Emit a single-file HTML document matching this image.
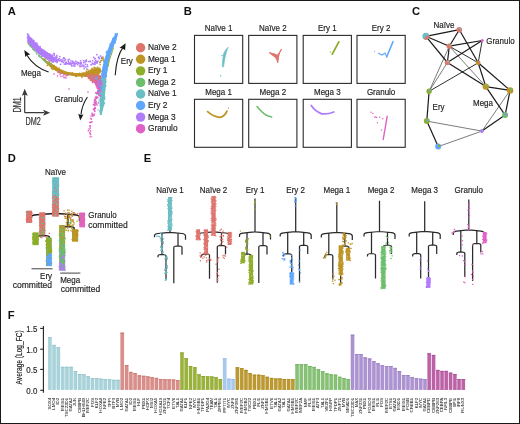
<!DOCTYPE html><html><head><meta charset="utf-8"><style>html,body{margin:0;padding:0;background:#fff;overflow:hidden}svg{display:block;will-change:transform}text{font-family:'Liberation Sans',sans-serif}</style></head><body>
<svg width="520" height="424" viewBox="0 0 520 424">
<rect x="0" y="0" width="520" height="424" fill="#fff"/>
<text x="7.8" y="15" font-size="11.2" text-anchor="start" fill="#111" font-weight="bold" >A</text>
<text x="183.8" y="15.2" font-size="11.2" text-anchor="start" fill="#111" font-weight="bold" >B</text>
<text x="411.9" y="15.4" font-size="11.2" text-anchor="start" fill="#111" font-weight="bold" >C</text>
<text x="7.8" y="162" font-size="11.2" text-anchor="start" fill="#111" font-weight="bold" >D</text>
<text x="143.8" y="162" font-size="11.2" text-anchor="start" fill="#111" font-weight="bold" >E</text>
<text x="7.8" y="319" font-size="11.2" text-anchor="start" fill="#111" font-weight="bold" >F</text>
<rect x="65.94" y="62.41" width="1.5" height="1.5" fill="#B07CFA"/>
<rect x="57.17" y="58.79" width="1.5" height="1.5" fill="#B07CFA"/>
<rect x="83.42" y="67.82" width="1.5" height="1.5" fill="#B07CFA"/>
<rect x="52.63" y="58.89" width="1.5" height="1.5" fill="#B07CFA"/>
<rect x="77.58" y="61.72" width="1.5" height="1.5" fill="#B07CFA"/>
<rect x="68.30" y="62.09" width="1.5" height="1.5" fill="#B07CFA"/>
<rect x="52.33" y="57.57" width="1.5" height="1.5" fill="#B07CFA"/>
<rect x="75.97" y="62.58" width="1.5" height="1.5" fill="#B07CFA"/>
<rect x="53.13" y="52.75" width="1.5" height="1.5" fill="#B07CFA"/>
<rect x="71.99" y="61.63" width="1.5" height="1.5" fill="#B07CFA"/>
<rect x="52.02" y="59.98" width="1.5" height="1.5" fill="#B07CFA"/>
<rect x="54.66" y="56.60" width="1.5" height="1.5" fill="#B07CFA"/>
<rect x="71.46" y="62.41" width="1.5" height="1.5" fill="#B07CFA"/>
<rect x="93.93" y="62.59" width="1.5" height="1.5" fill="#B07CFA"/>
<rect x="55.01" y="60.88" width="1.5" height="1.5" fill="#B07CFA"/>
<rect x="59.84" y="63.59" width="1.5" height="1.5" fill="#B07CFA"/>
<rect x="82.71" y="59.90" width="1.5" height="1.5" fill="#B07CFA"/>
<rect x="97.67" y="56.62" width="1.5" height="1.5" fill="#B07CFA"/>
<rect x="79.79" y="62.28" width="1.5" height="1.5" fill="#B07CFA"/>
<rect x="69.90" y="63.66" width="1.5" height="1.5" fill="#B07CFA"/>
<rect x="100.64" y="57.66" width="1.5" height="1.5" fill="#B07CFA"/>
<rect x="53.55" y="53.02" width="1.5" height="1.5" fill="#B07CFA"/>
<rect x="95.48" y="61.81" width="1.5" height="1.5" fill="#B07CFA"/>
<rect x="64.67" y="58.86" width="1.5" height="1.5" fill="#B07CFA"/>
<rect x="56.17" y="60.88" width="1.5" height="1.5" fill="#B07CFA"/>
<rect x="56.26" y="56.60" width="1.5" height="1.5" fill="#B07CFA"/>
<rect x="65.15" y="62.07" width="1.5" height="1.5" fill="#B07CFA"/>
<rect x="93.71" y="63.30" width="1.5" height="1.5" fill="#B07CFA"/>
<rect x="58.52" y="59.94" width="1.5" height="1.5" fill="#B07CFA"/>
<rect x="79.96" y="63.31" width="1.5" height="1.5" fill="#B07CFA"/>
<rect x="82.99" y="64.68" width="1.5" height="1.5" fill="#B07CFA"/>
<rect x="68.59" y="62.61" width="1.5" height="1.5" fill="#B07CFA"/>
<rect x="78.16" y="62.65" width="1.5" height="1.5" fill="#B07CFA"/>
<rect x="51.28" y="60.75" width="1.5" height="1.5" fill="#B07CFA"/>
<rect x="51.48" y="59.84" width="1.5" height="1.5" fill="#B07CFA"/>
<rect x="59.92" y="60.07" width="1.5" height="1.5" fill="#B07CFA"/>
<rect x="86.08" y="68.26" width="1.5" height="1.5" fill="#B07CFA"/>
<rect x="71.70" y="60.36" width="1.5" height="1.5" fill="#B07CFA"/>
<rect x="65.21" y="63.51" width="1.5" height="1.5" fill="#B07CFA"/>
<rect x="80.24" y="62.46" width="1.5" height="1.5" fill="#B07CFA"/>
<rect x="73.00" y="62.84" width="1.5" height="1.5" fill="#B07CFA"/>
<rect x="64.51" y="62.98" width="1.5" height="1.5" fill="#B07CFA"/>
<rect x="91.68" y="62.46" width="1.5" height="1.5" fill="#B07CFA"/>
<rect x="86.52" y="64.15" width="1.5" height="1.5" fill="#B07CFA"/>
<rect x="62.26" y="58.28" width="1.5" height="1.5" fill="#B07CFA"/>
<rect x="79.80" y="60.06" width="1.5" height="1.5" fill="#B07CFA"/>
<rect x="76.89" y="63.91" width="1.5" height="1.5" fill="#B07CFA"/>
<rect x="93.99" y="58.10" width="1.5" height="1.5" fill="#B07CFA"/>
<rect x="87.71" y="60.79" width="1.5" height="1.5" fill="#B07CFA"/>
<rect x="64.59" y="58.80" width="1.5" height="1.5" fill="#B07CFA"/>
<rect x="101.02" y="57.77" width="1.5" height="1.5" fill="#B07CFA"/>
<rect x="54.63" y="60.53" width="1.5" height="1.5" fill="#B07CFA"/>
<rect x="71.00" y="65.32" width="1.5" height="1.5" fill="#B07CFA"/>
<rect x="89.22" y="60.74" width="1.5" height="1.5" fill="#B07CFA"/>
<rect x="56.94" y="59.76" width="1.5" height="1.5" fill="#B07CFA"/>
<rect x="75.04" y="60.50" width="1.5" height="1.5" fill="#B07CFA"/>
<rect x="50.66" y="58.91" width="1.5" height="1.5" fill="#B07CFA"/>
<rect x="85.11" y="66.18" width="1.5" height="1.5" fill="#B07CFA"/>
<rect x="89.64" y="60.77" width="1.5" height="1.5" fill="#B07CFA"/>
<rect x="79.31" y="65.87" width="1.5" height="1.5" fill="#B07CFA"/>
<rect x="96.13" y="61.12" width="1.5" height="1.5" fill="#B07CFA"/>
<rect x="65.55" y="61.46" width="1.5" height="1.5" fill="#B07CFA"/>
<rect x="85.61" y="59.27" width="1.5" height="1.5" fill="#B07CFA"/>
<rect x="80.49" y="65.66" width="1.5" height="1.5" fill="#B07CFA"/>
<rect x="79.91" y="62.76" width="1.5" height="1.5" fill="#B07CFA"/>
<rect x="73.22" y="61.45" width="1.5" height="1.5" fill="#B07CFA"/>
<rect x="93.91" y="61.32" width="1.5" height="1.5" fill="#B07CFA"/>
<rect x="98.50" y="57.82" width="1.5" height="1.5" fill="#B07CFA"/>
<rect x="74.04" y="65.48" width="1.5" height="1.5" fill="#B07CFA"/>
<rect x="84.19" y="61.30" width="1.5" height="1.5" fill="#B07CFA"/>
<rect x="51.47" y="60.01" width="1.5" height="1.5" fill="#B07CFA"/>
<rect x="86.88" y="65.73" width="1.5" height="1.5" fill="#B07CFA"/>
<rect x="83.35" y="65.95" width="1.5" height="1.5" fill="#B07CFA"/>
<rect x="99.74" y="55.24" width="1.5" height="1.5" fill="#B07CFA"/>
<rect x="91.86" y="60.10" width="1.5" height="1.5" fill="#B07CFA"/>
<rect x="63.59" y="63.42" width="1.5" height="1.5" fill="#B07CFA"/>
<rect x="69.34" y="62.67" width="1.5" height="1.5" fill="#B07CFA"/>
<rect x="84.74" y="63.42" width="1.5" height="1.5" fill="#B07CFA"/>
<rect x="49.34" y="59.72" width="1.5" height="1.5" fill="#B07CFA"/>
<rect x="73.50" y="62.11" width="1.5" height="1.5" fill="#B07CFA"/>
<rect x="59.03" y="55.83" width="1.5" height="1.5" fill="#B07CFA"/>
<rect x="55.41" y="58.52" width="1.5" height="1.5" fill="#B07CFA"/>
<rect x="53.57" y="54.73" width="1.5" height="1.5" fill="#B07CFA"/>
<rect x="90.29" y="63.96" width="1.5" height="1.5" fill="#B07CFA"/>
<rect x="55.59" y="59.98" width="1.5" height="1.5" fill="#B07CFA"/>
<rect x="62.15" y="60.03" width="1.5" height="1.5" fill="#B07CFA"/>
<rect x="69.63" y="62.45" width="1.5" height="1.5" fill="#B07CFA"/>
<rect x="95.78" y="61.01" width="1.5" height="1.5" fill="#B07CFA"/>
<rect x="53.24" y="58.57" width="1.5" height="1.5" fill="#B07CFA"/>
<rect x="72.70" y="65.10" width="1.5" height="1.5" fill="#B07CFA"/>
<rect x="78.25" y="62.70" width="1.5" height="1.5" fill="#B07CFA"/>
<rect x="96.54" y="60.96" width="1.5" height="1.5" fill="#B07CFA"/>
<rect x="94.18" y="63.66" width="1.5" height="1.5" fill="#B07CFA"/>
<rect x="96.30" y="62.45" width="1.5" height="1.5" fill="#B07CFA"/>
<rect x="63.82" y="60.20" width="1.5" height="1.5" fill="#B07CFA"/>
<rect x="70.89" y="64.18" width="1.5" height="1.5" fill="#B07CFA"/>
<rect x="68.52" y="58.70" width="1.5" height="1.5" fill="#B07CFA"/>
<rect x="94.26" y="57.63" width="1.5" height="1.5" fill="#B07CFA"/>
<rect x="96.06" y="53.96" width="1.5" height="1.5" fill="#B07CFA"/>
<rect x="56.30" y="61.69" width="1.5" height="1.5" fill="#B07CFA"/>
<rect x="58.88" y="57.89" width="1.5" height="1.5" fill="#B07CFA"/>
<rect x="61.12" y="60.98" width="1.5" height="1.5" fill="#B07CFA"/>
<rect x="61.29" y="60.68" width="1.5" height="1.5" fill="#B07CFA"/>
<rect x="74.74" y="62.60" width="1.5" height="1.5" fill="#B07CFA"/>
<rect x="80.48" y="61.85" width="1.5" height="1.5" fill="#B07CFA"/>
<rect x="62.68" y="61.75" width="1.5" height="1.5" fill="#B07CFA"/>
<rect x="48.15" y="59.98" width="1.5" height="1.5" fill="#B07CFA"/>
<rect x="71.15" y="62.61" width="1.5" height="1.5" fill="#B07CFA"/>
<rect x="68.29" y="63.31" width="1.5" height="1.5" fill="#B07CFA"/>
<rect x="79.03" y="64.78" width="1.5" height="1.5" fill="#B07CFA"/>
<rect x="98.08" y="56.65" width="1.5" height="1.5" fill="#B07CFA"/>
<rect x="85.55" y="60.65" width="1.5" height="1.5" fill="#B07CFA"/>
<rect x="76.44" y="61.66" width="1.5" height="1.5" fill="#B07CFA"/>
<rect x="81.80" y="65.12" width="1.5" height="1.5" fill="#B07CFA"/>
<rect x="84.67" y="60.03" width="1.5" height="1.5" fill="#B07CFA"/>
<rect x="52.40" y="56.83" width="1.5" height="1.5" fill="#B07CFA"/>
<rect x="97.22" y="60.40" width="1.5" height="1.5" fill="#B07CFA"/>
<rect x="90.92" y="63.82" width="1.5" height="1.5" fill="#B07CFA"/>
<rect x="95.02" y="59.63" width="1.5" height="1.5" fill="#B07CFA"/>
<rect x="92.47" y="63.26" width="1.5" height="1.5" fill="#B07CFA"/>
<rect x="69.70" y="62.78" width="1.5" height="1.5" fill="#B07CFA"/>
<rect x="70.15" y="60.24" width="1.5" height="1.5" fill="#B07CFA"/>
<rect x="55.59" y="56.17" width="1.5" height="1.5" fill="#B07CFA"/>
<rect x="82.94" y="61.94" width="1.5" height="1.5" fill="#B07CFA"/>
<rect x="51.70" y="59.67" width="1.5" height="1.5" fill="#B07CFA"/>
<rect x="53.05" y="57.17" width="1.5" height="1.5" fill="#B07CFA"/>
<rect x="60.39" y="59.00" width="1.5" height="1.5" fill="#B07CFA"/>
<rect x="57.90" y="58.52" width="1.5" height="1.5" fill="#B07CFA"/>
<rect x="67.40" y="59.17" width="1.5" height="1.5" fill="#B07CFA"/>
<rect x="51.98" y="57.64" width="1.5" height="1.5" fill="#B07CFA"/>
<rect x="50.12" y="54.69" width="1.5" height="1.5" fill="#B07CFA"/>
<rect x="56.71" y="60.41" width="1.5" height="1.5" fill="#B07CFA"/>
<rect x="56.07" y="54.73" width="1.5" height="1.5" fill="#B07CFA"/>
<rect x="68.05" y="62.87" width="1.5" height="1.5" fill="#B07CFA"/>
<rect x="51.00" y="56.16" width="1.5" height="1.5" fill="#B07CFA"/>
<rect x="92.89" y="56.60" width="1.5" height="1.5" fill="#B07CFA"/>
<rect x="81.65" y="64.44" width="1.5" height="1.5" fill="#B07CFA"/>
<rect x="56.91" y="59.20" width="1.5" height="1.5" fill="#B07CFA"/>
<rect x="62.92" y="57.04" width="1.5" height="1.5" fill="#B07CFA"/>
<rect x="67.58" y="60.47" width="1.5" height="1.5" fill="#B07CFA"/>
<rect x="68.10" y="62.81" width="1.5" height="1.5" fill="#B07CFA"/>
<rect x="55.68" y="58.47" width="1.5" height="1.5" fill="#B07CFA"/>
<rect x="94.72" y="61.63" width="1.5" height="1.5" fill="#B07CFA"/>
<rect x="100.90" y="56.57" width="1.5" height="1.5" fill="#B07CFA"/>
<rect x="73.66" y="63.88" width="1.5" height="1.5" fill="#B07CFA"/>
<rect x="74.66" y="63.27" width="1.5" height="1.5" fill="#B07CFA"/>
<rect x="52.59" y="60.89" width="1.5" height="1.5" fill="#B07CFA"/>
<rect x="53.90" y="60.05" width="1.5" height="1.5" fill="#B07CFA"/>
<rect x="66.89" y="62.91" width="1.5" height="1.5" fill="#B07CFA"/>
<rect x="63.55" y="57.43" width="1.5" height="1.5" fill="#B07CFA"/>
<path d="M27.2,33.8 L30.3,37.1 L35.6,42.4 L39.7,47.1 L45,50.6 L50,54 L54,57 L56,59 L54,61 L50,60 L46,58.5 L42,56.6 L38,53.6 L33.8,49.3 L29.7,45 L27.3,42.2 Z" fill="#B07CFA"/>
<rect x="52.25" y="61.31" width="1.5" height="1.5" fill="#B07CFA"/>
<rect x="39.43" y="46.21" width="1.5" height="1.5" fill="#B07CFA"/>
<rect x="30.38" y="44.72" width="1.5" height="1.5" fill="#B07CFA"/>
<rect x="32.06" y="41.56" width="1.5" height="1.5" fill="#B07CFA"/>
<rect x="30.81" y="40.62" width="1.5" height="1.5" fill="#B07CFA"/>
<rect x="43.12" y="52.25" width="1.5" height="1.5" fill="#B07CFA"/>
<rect x="46.08" y="55.65" width="1.5" height="1.5" fill="#B07CFA"/>
<rect x="30.11" y="37.61" width="1.5" height="1.5" fill="#B07CFA"/>
<rect x="32.25" y="45.81" width="1.5" height="1.5" fill="#B07CFA"/>
<rect x="36.90" y="44.73" width="1.5" height="1.5" fill="#B07CFA"/>
<rect x="29.20" y="37.15" width="1.5" height="1.5" fill="#B07CFA"/>
<rect x="35.37" y="46.27" width="1.5" height="1.5" fill="#B07CFA"/>
<rect x="36.15" y="42.75" width="1.5" height="1.5" fill="#B07CFA"/>
<rect x="32.86" y="46.80" width="1.5" height="1.5" fill="#B07CFA"/>
<rect x="29.20" y="43.96" width="1.5" height="1.5" fill="#B07CFA"/>
<rect x="46.52" y="57.42" width="1.5" height="1.5" fill="#B07CFA"/>
<rect x="48.21" y="55.89" width="1.5" height="1.5" fill="#B07CFA"/>
<rect x="48.16" y="54.68" width="1.5" height="1.5" fill="#B07CFA"/>
<rect x="46.14" y="52.11" width="1.5" height="1.5" fill="#B07CFA"/>
<rect x="31.49" y="43.79" width="1.5" height="1.5" fill="#B07CFA"/>
<rect x="41.69" y="49.26" width="1.5" height="1.5" fill="#B07CFA"/>
<rect x="48.43" y="53.38" width="1.5" height="1.5" fill="#B07CFA"/>
<rect x="28.52" y="39.74" width="1.5" height="1.5" fill="#B07CFA"/>
<rect x="40.36" y="50.54" width="1.5" height="1.5" fill="#B07CFA"/>
<rect x="30.67" y="39.28" width="1.5" height="1.5" fill="#B07CFA"/>
<rect x="27.62" y="39.28" width="1.5" height="1.5" fill="#B07CFA"/>
<rect x="55.50" y="58.61" width="1.5" height="1.5" fill="#B07CFA"/>
<rect x="49.46" y="59.58" width="1.5" height="1.5" fill="#B07CFA"/>
<rect x="29.88" y="43.81" width="1.5" height="1.5" fill="#B07CFA"/>
<rect x="36.80" y="44.94" width="1.5" height="1.5" fill="#B07CFA"/>
<rect x="37.85" y="47.82" width="1.5" height="1.5" fill="#B07CFA"/>
<rect x="28.64" y="40.51" width="1.5" height="1.5" fill="#B07CFA"/>
<rect x="41.31" y="49.75" width="1.5" height="1.5" fill="#B07CFA"/>
<rect x="50.82" y="56.21" width="1.5" height="1.5" fill="#B07CFA"/>
<rect x="28.39" y="37.08" width="1.5" height="1.5" fill="#B07CFA"/>
<rect x="44.12" y="54.12" width="1.5" height="1.5" fill="#B07CFA"/>
<rect x="29.32" y="38.96" width="1.5" height="1.5" fill="#B07CFA"/>
<rect x="41.12" y="49.27" width="1.5" height="1.5" fill="#B07CFA"/>
<rect x="36.25" y="45.29" width="1.5" height="1.5" fill="#B07CFA"/>
<rect x="40.26" y="51.69" width="1.5" height="1.5" fill="#B07CFA"/>
<rect x="35.97" y="44.00" width="1.5" height="1.5" fill="#B07CFA"/>
<rect x="31.89" y="42.71" width="1.5" height="1.5" fill="#B07CFA"/>
<rect x="31.16" y="45.86" width="1.5" height="1.5" fill="#B07CFA"/>
<rect x="52.02" y="54.33" width="1.5" height="1.5" fill="#B07CFA"/>
<rect x="34.90" y="42.50" width="1.5" height="1.5" fill="#B07CFA"/>
<rect x="32.17" y="42.84" width="1.5" height="1.5" fill="#B07CFA"/>
<rect x="27.99" y="34.46" width="1.5" height="1.5" fill="#B07CFA"/>
<rect x="47.63" y="58.03" width="1.5" height="1.5" fill="#B07CFA"/>
<rect x="35.10" y="45.44" width="1.5" height="1.5" fill="#B07CFA"/>
<rect x="39.29" y="46.25" width="1.5" height="1.5" fill="#B07CFA"/>
<rect x="49.59" y="53.63" width="1.5" height="1.5" fill="#B07CFA"/>
<rect x="35.72" y="42.57" width="1.5" height="1.5" fill="#B07CFA"/>
<rect x="32.32" y="43.57" width="1.5" height="1.5" fill="#B07CFA"/>
<rect x="47.78" y="55.74" width="1.5" height="1.5" fill="#B07CFA"/>
<rect x="51.30" y="58.09" width="1.5" height="1.5" fill="#B07CFA"/>
<rect x="30.93" y="38.03" width="1.5" height="1.5" fill="#B07CFA"/>
<rect x="43.77" y="50.66" width="1.5" height="1.5" fill="#B07CFA"/>
<rect x="30.49" y="39.68" width="1.5" height="1.5" fill="#B07CFA"/>
<rect x="27.47" y="36.43" width="1.5" height="1.5" fill="#B07CFA"/>
<rect x="34.93" y="49.11" width="1.5" height="1.5" fill="#B07CFA"/>
<rect x="37.53" y="47.29" width="1.5" height="1.5" fill="#B07CFA"/>
<rect x="53.35" y="59.61" width="1.5" height="1.5" fill="#B07CFA"/>
<rect x="31.95" y="43.83" width="1.5" height="1.5" fill="#B07CFA"/>
<rect x="29.73" y="38.08" width="1.5" height="1.5" fill="#B07CFA"/>
<rect x="37.50" y="49.43" width="1.5" height="1.5" fill="#B07CFA"/>
<rect x="47.95" y="54.40" width="1.5" height="1.5" fill="#B07CFA"/>
<rect x="30.87" y="45.23" width="1.5" height="1.5" fill="#B07CFA"/>
<rect x="47.31" y="54.18" width="1.5" height="1.5" fill="#B07CFA"/>
<rect x="48.32" y="57.34" width="1.5" height="1.5" fill="#B07CFA"/>
<rect x="49.84" y="58.66" width="1.5" height="1.5" fill="#B07CFA"/>
<rect x="31.75" y="40.17" width="1.5" height="1.5" fill="#B07CFA"/>
<rect x="28.50" y="39.60" width="1.5" height="1.5" fill="#B07CFA"/>
<rect x="46.71" y="58.63" width="1.5" height="1.5" fill="#B07CFA"/>
<rect x="43.30" y="51.15" width="1.5" height="1.5" fill="#B07CFA"/>
<rect x="26.79" y="36.55" width="1.5" height="1.5" fill="#B07CFA"/>
<rect x="30.16" y="39.09" width="1.5" height="1.5" fill="#B07CFA"/>
<rect x="29.68" y="43.81" width="1.5" height="1.5" fill="#B07CFA"/>
<rect x="41.24" y="50.04" width="1.5" height="1.5" fill="#B07CFA"/>
<rect x="46.32" y="55.43" width="1.5" height="1.5" fill="#B07CFA"/>
<rect x="43.48" y="49.98" width="1.5" height="1.5" fill="#B07CFA"/>
<rect x="45.36" y="56.87" width="1.5" height="1.5" fill="#B07CFA"/>
<rect x="26.88" y="33.12" width="1.5" height="1.5" fill="#B07CFA"/>
<rect x="47.50" y="53.52" width="1.5" height="1.5" fill="#B07CFA"/>
<rect x="51.53" y="57.94" width="1.5" height="1.5" fill="#B07CFA"/>
<rect x="53.21" y="59.07" width="1.5" height="1.5" fill="#B07CFA"/>
<rect x="49.87" y="54.02" width="1.5" height="1.5" fill="#B07CFA"/>
<rect x="36.25" y="44.66" width="1.5" height="1.5" fill="#B07CFA"/>
<rect x="38.31" y="55.10" width="1.5" height="1.5" fill="#B07CFA"/>
<rect x="40.98" y="55.58" width="1.5" height="1.5" fill="#B07CFA"/>
<rect x="46.01" y="53.91" width="1.5" height="1.5" fill="#B07CFA"/>
<rect x="33.15" y="39.66" width="1.5" height="1.5" fill="#B07CFA"/>
<rect x="31.86" y="45.32" width="1.5" height="1.5" fill="#B07CFA"/>
<rect x="45.93" y="53.98" width="1.5" height="1.5" fill="#B07CFA"/>
<rect x="31.52" y="39.78" width="1.5" height="1.5" fill="#B07CFA"/>
<rect x="33.11" y="41.87" width="1.5" height="1.5" fill="#B07CFA"/>
<rect x="30.79" y="43.36" width="1.5" height="1.5" fill="#B07CFA"/>
<rect x="29.37" y="38.80" width="1.5" height="1.5" fill="#B07CFA"/>
<rect x="38.82" y="52.74" width="1.5" height="1.5" fill="#B07CFA"/>
<rect x="42.47" y="53.70" width="1.5" height="1.5" fill="#B07CFA"/>
<rect x="47.44" y="55.76" width="1.5" height="1.5" fill="#B07CFA"/>
<rect x="36.15" y="50.62" width="1.5" height="1.5" fill="#B07CFA"/>
<rect x="40.89" y="52.47" width="1.5" height="1.5" fill="#B07CFA"/>
<rect x="35.18" y="43.99" width="1.5" height="1.5" fill="#B07CFA"/>
<rect x="38.19" y="52.55" width="1.5" height="1.5" fill="#B07CFA"/>
<rect x="40.27" y="50.38" width="1.5" height="1.5" fill="#B07CFA"/>
<rect x="37.24" y="49.09" width="1.5" height="1.5" fill="#B07CFA"/>
<rect x="34.12" y="46.59" width="1.5" height="1.5" fill="#B07CFA"/>
<rect x="54.60" y="56.82" width="1.5" height="1.5" fill="#B07CFA"/>
<rect x="29.52" y="38.31" width="1.5" height="1.5" fill="#B07CFA"/>
<rect x="43.14" y="52.82" width="1.5" height="1.5" fill="#B07CFA"/>
<path d="M42,57.8 L46,60.3 L51.5,63.6 L59.2,68.6 L66.9,71.7 L74.6,72.9 L80,73.2 L86,72 L90,69.8 L95,69 L100,68.5 L102,71 L99,74.5 L92,77 L86,77 L80,76.5 L74.6,76.2 L66.9,75 L59.2,73 L51.5,68.3 L46,63.3 L43,60.3 Z" fill="#BE9423"/>
<rect x="88.93" y="74.22" width="1.4" height="1.4" fill="#BE9423"/>
<rect x="67.10" y="73.86" width="1.4" height="1.4" fill="#BE9423"/>
<rect x="75.01" y="73.72" width="1.4" height="1.4" fill="#BE9423"/>
<rect x="80.70" y="73.75" width="1.4" height="1.4" fill="#BE9423"/>
<rect x="81.30" y="76.72" width="1.4" height="1.4" fill="#BE9423"/>
<rect x="53.16" y="65.87" width="1.4" height="1.4" fill="#BE9423"/>
<rect x="80.28" y="72.84" width="1.4" height="1.4" fill="#BE9423"/>
<rect x="58.44" y="67.44" width="1.4" height="1.4" fill="#BE9423"/>
<rect x="95.91" y="67.75" width="1.4" height="1.4" fill="#BE9423"/>
<rect x="95.16" y="68.19" width="1.4" height="1.4" fill="#BE9423"/>
<rect x="87.40" y="74.09" width="1.4" height="1.4" fill="#BE9423"/>
<rect x="90.16" y="72.00" width="1.4" height="1.4" fill="#BE9423"/>
<rect x="80.66" y="75.34" width="1.4" height="1.4" fill="#BE9423"/>
<rect x="44.00" y="58.53" width="1.4" height="1.4" fill="#BE9423"/>
<rect x="77.61" y="75.01" width="1.4" height="1.4" fill="#BE9423"/>
<rect x="84.08" y="73.23" width="1.4" height="1.4" fill="#BE9423"/>
<rect x="60.66" y="72.31" width="1.4" height="1.4" fill="#BE9423"/>
<rect x="65.60" y="71.78" width="1.4" height="1.4" fill="#BE9423"/>
<rect x="83.03" y="73.82" width="1.4" height="1.4" fill="#BE9423"/>
<rect x="66.25" y="74.90" width="1.4" height="1.4" fill="#BE9423"/>
<rect x="77.61" y="73.77" width="1.4" height="1.4" fill="#BE9423"/>
<rect x="91.54" y="74.49" width="1.4" height="1.4" fill="#BE9423"/>
<rect x="89.50" y="73.51" width="1.4" height="1.4" fill="#BE9423"/>
<rect x="91.75" y="71.17" width="1.4" height="1.4" fill="#BE9423"/>
<rect x="74.88" y="73.52" width="1.4" height="1.4" fill="#BE9423"/>
<rect x="76.71" y="73.76" width="1.4" height="1.4" fill="#BE9423"/>
<rect x="98.84" y="70.20" width="1.4" height="1.4" fill="#BE9423"/>
<rect x="73.10" y="74.26" width="1.4" height="1.4" fill="#BE9423"/>
<rect x="55.62" y="66.58" width="1.4" height="1.4" fill="#BE9423"/>
<rect x="95.58" y="74.28" width="1.4" height="1.4" fill="#BE9423"/>
<rect x="87.25" y="69.10" width="1.4" height="1.4" fill="#BE9423"/>
<rect x="44.70" y="58.22" width="1.4" height="1.4" fill="#BE9423"/>
<rect x="47.61" y="63.68" width="1.4" height="1.4" fill="#BE9423"/>
<rect x="93.79" y="74.75" width="1.4" height="1.4" fill="#BE9423"/>
<rect x="91.23" y="69.35" width="1.4" height="1.4" fill="#BE9423"/>
<rect x="50.74" y="67.90" width="1.4" height="1.4" fill="#BE9423"/>
<rect x="47.35" y="62.51" width="1.4" height="1.4" fill="#BE9423"/>
<rect x="52.87" y="65.20" width="1.4" height="1.4" fill="#BE9423"/>
<rect x="91.69" y="73.70" width="1.4" height="1.4" fill="#BE9423"/>
<rect x="89.82" y="74.71" width="1.4" height="1.4" fill="#BE9423"/>
<rect x="65.50" y="72.06" width="1.4" height="1.4" fill="#BE9423"/>
<rect x="42.96" y="58.51" width="1.4" height="1.4" fill="#BE9423"/>
<rect x="93.82" y="70.97" width="1.4" height="1.4" fill="#BE9423"/>
<rect x="77.36" y="74.36" width="1.4" height="1.4" fill="#BE9423"/>
<rect x="90.30" y="75.57" width="1.4" height="1.4" fill="#BE9423"/>
<rect x="90.10" y="73.38" width="1.4" height="1.4" fill="#BE9423"/>
<rect x="43.74" y="59.55" width="1.4" height="1.4" fill="#BE9423"/>
<rect x="98.05" y="67.90" width="1.4" height="1.4" fill="#BE9423"/>
<rect x="73.45" y="74.48" width="1.4" height="1.4" fill="#BE9423"/>
<rect x="60.31" y="70.18" width="1.4" height="1.4" fill="#BE9423"/>
<rect x="90.77" y="68.38" width="1.4" height="1.4" fill="#BE9423"/>
<rect x="53.90" y="67.56" width="1.4" height="1.4" fill="#BE9423"/>
<rect x="59.17" y="72.14" width="1.4" height="1.4" fill="#BE9423"/>
<rect x="48.96" y="61.13" width="1.4" height="1.4" fill="#BE9423"/>
<rect x="49.94" y="64.41" width="1.4" height="1.4" fill="#BE9423"/>
<rect x="78.64" y="72.66" width="1.4" height="1.4" fill="#BE9423"/>
<rect x="85.67" y="70.58" width="1.4" height="1.4" fill="#BE9423"/>
<rect x="88.71" y="70.52" width="1.4" height="1.4" fill="#BE9423"/>
<rect x="87.79" y="73.43" width="1.4" height="1.4" fill="#BE9423"/>
<rect x="87.77" y="73.41" width="1.4" height="1.4" fill="#BE9423"/>
<rect x="92.36" y="73.07" width="1.4" height="1.4" fill="#BE9423"/>
<rect x="41.19" y="57.69" width="1.4" height="1.4" fill="#BE9423"/>
<rect x="94.09" y="71.35" width="1.4" height="1.4" fill="#BE9423"/>
<rect x="46.51" y="64.81" width="1.4" height="1.4" fill="#BE9423"/>
<rect x="76.53" y="73.81" width="1.4" height="1.4" fill="#BE9423"/>
<rect x="73.40" y="73.30" width="1.4" height="1.4" fill="#BE9423"/>
<rect x="95.88" y="68.42" width="1.4" height="1.4" fill="#BE9423"/>
<rect x="65.61" y="73.23" width="1.4" height="1.4" fill="#BE9423"/>
<rect x="54.91" y="69.05" width="1.4" height="1.4" fill="#BE9423"/>
<rect x="71.69" y="72.08" width="1.4" height="1.4" fill="#BE9423"/>
<rect x="75.35" y="75.89" width="1.4" height="1.4" fill="#BE9423"/>
<rect x="96.56" y="74.89" width="1.4" height="1.4" fill="#BE9423"/>
<rect x="75.74" y="75.58" width="1.4" height="1.4" fill="#BE9423"/>
<rect x="70.38" y="72.75" width="1.4" height="1.4" fill="#BE9423"/>
<rect x="47.04" y="61.96" width="1.4" height="1.4" fill="#BE9423"/>
<rect x="68.04" y="72.77" width="1.4" height="1.4" fill="#BE9423"/>
<rect x="61.21" y="72.20" width="1.4" height="1.4" fill="#BE9423"/>
<rect x="94.92" y="68.77" width="1.4" height="1.4" fill="#BE9423"/>
<rect x="61.26" y="70.39" width="1.4" height="1.4" fill="#BE9423"/>
<rect x="96.87" y="71.05" width="1.4" height="1.4" fill="#BE9423"/>
<rect x="50.27" y="62.60" width="1.4" height="1.4" fill="#BE9423"/>
<rect x="91.31" y="72.21" width="1.4" height="1.4" fill="#BE9423"/>
<rect x="93.05" y="68.92" width="1.4" height="1.4" fill="#BE9423"/>
<rect x="86.09" y="73.31" width="1.4" height="1.4" fill="#BE9423"/>
<rect x="97.02" y="69.06" width="1.4" height="1.4" fill="#BE9423"/>
<rect x="83.40" y="73.45" width="1.4" height="1.4" fill="#BE9423"/>
<rect x="98.95" y="69.20" width="1.4" height="1.4" fill="#BE9423"/>
<rect x="60.18" y="72.40" width="1.4" height="1.4" fill="#BE9423"/>
<rect x="87.70" y="73.44" width="1.4" height="1.4" fill="#BE9423"/>
<rect x="95.34" y="68.30" width="1.4" height="1.4" fill="#BE9423"/>
<rect x="92.64" y="75.96" width="1.4" height="1.4" fill="#BE9423"/>
<rect x="90.92" y="71.75" width="1.4" height="1.4" fill="#BE9423"/>
<rect x="63.47" y="73.27" width="1.4" height="1.4" fill="#BE9423"/>
<rect x="91.88" y="69.70" width="1.4" height="1.4" fill="#BE9423"/>
<rect x="91.92" y="72.81" width="1.4" height="1.4" fill="#BE9423"/>
<rect x="57.57" y="69.74" width="1.4" height="1.4" fill="#BE9423"/>
<rect x="81.61" y="72.72" width="1.4" height="1.4" fill="#BE9423"/>
<rect x="99.10" y="68.77" width="1.4" height="1.4" fill="#BE9423"/>
<rect x="55.53" y="68.64" width="1.4" height="1.4" fill="#BE9423"/>
<rect x="66.62" y="73.33" width="1.4" height="1.4" fill="#BE9423"/>
<rect x="98.96" y="67.54" width="1.4" height="1.4" fill="#BE9423"/>
<rect x="95.24" y="68.38" width="1.4" height="1.4" fill="#BE9423"/>
<rect x="96.92" y="74.83" width="1.4" height="1.4" fill="#BE9423"/>
<rect x="61.23" y="70.58" width="1.4" height="1.4" fill="#BE9423"/>
<rect x="48.53" y="62.57" width="1.4" height="1.4" fill="#BE9423"/>
<rect x="75.44" y="73.56" width="1.4" height="1.4" fill="#BE9423"/>
<rect x="53.37" y="64.89" width="1.4" height="1.4" fill="#BE9423"/>
<rect x="52.15" y="68.78" width="1.4" height="1.4" fill="#BE9423"/>
<rect x="82.78" y="72.58" width="1.4" height="1.4" fill="#BE9423"/>
<rect x="71.47" y="73.68" width="1.4" height="1.4" fill="#BE9423"/>
<rect x="94.24" y="69.12" width="1.4" height="1.4" fill="#BE9423"/>
<rect x="50.58" y="64.22" width="1.4" height="1.4" fill="#BE9423"/>
<rect x="43.76" y="59.41" width="1.4" height="1.4" fill="#BE9423"/>
<rect x="55.30" y="67.72" width="1.4" height="1.4" fill="#BE9423"/>
<rect x="92.98" y="71.23" width="1.4" height="1.4" fill="#BE9423"/>
<rect x="90.00" y="73.46" width="1.4" height="1.4" fill="#BE9423"/>
<rect x="59.48" y="70.92" width="1.4" height="1.4" fill="#BE9423"/>
<rect x="96.96" y="68.51" width="1.4" height="1.4" fill="#BE9423"/>
<rect x="61.45" y="72.58" width="1.4" height="1.4" fill="#BE9423"/>
<rect x="77.20" y="73.32" width="1.4" height="1.4" fill="#BE9423"/>
<rect x="100.23" y="60.01" width="1.4" height="1.4" fill="#BE9423"/>
<rect x="102.12" y="56.36" width="1.4" height="1.4" fill="#BE9423"/>
<rect x="99.04" y="61.89" width="1.4" height="1.4" fill="#BE9423"/>
<rect x="91.79" y="67.65" width="1.4" height="1.4" fill="#BE9423"/>
<rect x="102.54" y="59.82" width="1.4" height="1.4" fill="#BE9423"/>
<rect x="102.53" y="58.44" width="1.4" height="1.4" fill="#BE9423"/>
<rect x="97.08" y="66.75" width="1.4" height="1.4" fill="#BE9423"/>
<rect x="93.51" y="68.14" width="1.4" height="1.4" fill="#BE9423"/>
<rect x="93.49" y="66.64" width="1.4" height="1.4" fill="#BE9423"/>
<rect x="99.42" y="63.89" width="1.4" height="1.4" fill="#BE9423"/>
<rect x="101.51" y="57.82" width="1.4" height="1.4" fill="#BE9423"/>
<rect x="99.49" y="61.36" width="1.4" height="1.4" fill="#BE9423"/>
<rect x="102.42" y="57.38" width="1.4" height="1.4" fill="#BE9423"/>
<rect x="94.29" y="66.96" width="1.4" height="1.4" fill="#BE9423"/>
<rect x="96.73" y="66.73" width="1.4" height="1.4" fill="#BE9423"/>
<rect x="100.39" y="59.79" width="1.4" height="1.4" fill="#BE9423"/>
<path d="M27.4,42.6 L29.7,45.6 L33.8,50 L37.4,54 L41,57.6 L44.5,60.8 L48,63.2 L51,64.6" fill="none" stroke="#6CBE6C" stroke-width="0.9" stroke-linecap="round" stroke-linejoin="round" opacity="1"/>
<circle cx="50.62" cy="64.46" r="0.6" fill="#6CBE6C"/>
<circle cx="28.48" cy="44.07" r="0.6" fill="#6CBE6C"/>
<circle cx="41.25" cy="56.96" r="0.6" fill="#6CBE6C"/>
<circle cx="43.38" cy="59.91" r="0.6" fill="#6CBE6C"/>
<circle cx="34.37" cy="50.73" r="0.6" fill="#6CBE6C"/>
<circle cx="29.58" cy="44.77" r="0.6" fill="#6CBE6C"/>
<circle cx="30.36" cy="46.77" r="0.6" fill="#6CBE6C"/>
<circle cx="30.31" cy="46.22" r="0.6" fill="#6CBE6C"/>
<circle cx="44.47" cy="60.79" r="0.6" fill="#6CBE6C"/>
<circle cx="29.33" cy="44.81" r="0.6" fill="#6CBE6C"/>
<circle cx="45.60" cy="61.84" r="0.6" fill="#6CBE6C"/>
<circle cx="36.44" cy="52.99" r="0.6" fill="#6CBE6C"/>
<circle cx="38.73" cy="56.01" r="0.6" fill="#6CBE6C"/>
<circle cx="40.08" cy="56.95" r="0.6" fill="#6CBE6C"/>
<circle cx="39.63" cy="55.86" r="0.6" fill="#6CBE6C"/>
<circle cx="41.90" cy="58.30" r="0.6" fill="#6CBE6C"/>
<circle cx="40.25" cy="57.40" r="0.6" fill="#6CBE6C"/>
<circle cx="34.57" cy="50.62" r="0.6" fill="#6CBE6C"/>
<circle cx="43.74" cy="60.33" r="0.6" fill="#6CBE6C"/>
<circle cx="32.69" cy="49.13" r="0.6" fill="#6CBE6C"/>
<circle cx="43.19" cy="59.50" r="0.6" fill="#6CBE6C"/>
<circle cx="45.05" cy="59.97" r="0.6" fill="#6CBE6C"/>
<circle cx="44.68" cy="60.99" r="0.6" fill="#6CBE6C"/>
<circle cx="33.92" cy="50.27" r="0.6" fill="#6CBE6C"/>
<circle cx="44.59" cy="60.93" r="0.6" fill="#6CBE6C"/>
<circle cx="50.47" cy="64.00" r="0.6" fill="#6CBE6C"/>
<circle cx="36.74" cy="54.03" r="0.6" fill="#6CBE6C"/>
<circle cx="33.34" cy="49.42" r="0.6" fill="#6CBE6C"/>
<circle cx="38.91" cy="55.13" r="0.6" fill="#6CBE6C"/>
<circle cx="49.39" cy="63.51" r="0.6" fill="#6CBE6C"/>
<rect x="57.3" y="71.8" width="1.4" height="1.4" fill="#E060C8"/>
<rect x="59.3" y="73.8" width="1.4" height="1.4" fill="#E060C8"/>
<rect x="61.3" y="72.5" width="1.4" height="1.4" fill="#E060C8"/>
<rect x="63.3" y="74.1" width="1.4" height="1.4" fill="#E060C8"/>
<rect x="65.3" y="74.8" width="1.4" height="1.4" fill="#E060C8"/>
<rect x="67.3" y="74.1" width="1.4" height="1.4" fill="#E060C8"/>
<rect x="62.3" y="75.3" width="1.4" height="1.4" fill="#E060C8"/>
<rect x="60.3" y="75.8" width="1.4" height="1.4" fill="#E060C8"/>
<rect x="63.3" y="76.89999999999999" width="1.4" height="1.4" fill="#E060C8"/>
<rect x="65.3" y="77.3" width="1.4" height="1.4" fill="#E060C8"/>
<rect x="64.3" y="76.7" width="1.4" height="1.4" fill="#E060C8"/>
<rect x="58.3" y="70.8" width="1.4" height="1.4" fill="#E060C8"/>
<rect x="56.8" y="75.3" width="1.4" height="1.4" fill="#E060C8"/>
<rect x="68.3" y="88.3" width="1.4" height="1.4" fill="#E060C8"/>
<rect x="87.3" y="91.3" width="1.4" height="1.4" fill="#E060C8"/>
<rect x="53.3" y="73.3" width="1.4" height="1.4" fill="#E060C8"/>
<path d="M86,75.5 L92,74.5 L99,74.5 L102,77 L101,83 L98,86 L94,83 L89,79 Z" fill="#DE746C"/>
<rect x="97.14" y="81.03" width="1.4" height="1.4" fill="#DE746C"/>
<rect x="100.54" y="81.76" width="1.4" height="1.4" fill="#DE746C"/>
<rect x="89.58" y="79.46" width="1.4" height="1.4" fill="#DE746C"/>
<rect x="96.48" y="84.26" width="1.4" height="1.4" fill="#DE746C"/>
<rect x="99.23" y="75.01" width="1.4" height="1.4" fill="#DE746C"/>
<rect x="87.72" y="77.80" width="1.4" height="1.4" fill="#DE746C"/>
<rect x="93.04" y="78.02" width="1.4" height="1.4" fill="#DE746C"/>
<rect x="101.24" y="73.45" width="1.4" height="1.4" fill="#DE746C"/>
<rect x="92.13" y="75.83" width="1.4" height="1.4" fill="#DE746C"/>
<rect x="86.68" y="75.34" width="1.4" height="1.4" fill="#DE746C"/>
<rect x="97.02" y="83.91" width="1.4" height="1.4" fill="#DE746C"/>
<rect x="95.61" y="74.21" width="1.4" height="1.4" fill="#DE746C"/>
<rect x="95.23" y="75.39" width="1.4" height="1.4" fill="#DE746C"/>
<rect x="92.60" y="76.02" width="1.4" height="1.4" fill="#DE746C"/>
<rect x="100.57" y="80.37" width="1.4" height="1.4" fill="#DE746C"/>
<rect x="99.34" y="82.83" width="1.4" height="1.4" fill="#DE746C"/>
<rect x="90.68" y="74.91" width="1.4" height="1.4" fill="#DE746C"/>
<rect x="91.74" y="80.31" width="1.4" height="1.4" fill="#DE746C"/>
<rect x="95.10" y="80.97" width="1.4" height="1.4" fill="#DE746C"/>
<rect x="98.58" y="82.57" width="1.4" height="1.4" fill="#DE746C"/>
<rect x="91.02" y="78.53" width="1.4" height="1.4" fill="#DE746C"/>
<rect x="91.49" y="77.04" width="1.4" height="1.4" fill="#DE746C"/>
<rect x="99.06" y="82.64" width="1.4" height="1.4" fill="#DE746C"/>
<rect x="95.64" y="76.53" width="1.4" height="1.4" fill="#DE746C"/>
<rect x="96.25" y="77.89" width="1.4" height="1.4" fill="#DE746C"/>
<rect x="96.96" y="77.18" width="1.4" height="1.4" fill="#DE746C"/>
<rect x="93.33" y="80.06" width="1.4" height="1.4" fill="#DE746C"/>
<rect x="95.59" y="81.40" width="1.4" height="1.4" fill="#DE746C"/>
<rect x="93.75" y="79.83" width="1.4" height="1.4" fill="#DE746C"/>
<rect x="98.93" y="79.70" width="1.4" height="1.4" fill="#DE746C"/>
<rect x="99.18" y="78.19" width="1.4" height="1.4" fill="#DE746C"/>
<rect x="93.66" y="79.29" width="1.4" height="1.4" fill="#DE746C"/>
<rect x="98.82" y="75.84" width="1.4" height="1.4" fill="#DE746C"/>
<rect x="97.74" y="79.92" width="1.4" height="1.4" fill="#DE746C"/>
<rect x="94.65" y="79.21" width="1.4" height="1.4" fill="#DE746C"/>
<rect x="97.03" y="74.66" width="1.4" height="1.4" fill="#DE746C"/>
<rect x="93.00" y="77.19" width="1.4" height="1.4" fill="#DE746C"/>
<rect x="91.79" y="75.24" width="1.4" height="1.4" fill="#DE746C"/>
<rect x="86.06" y="75.07" width="1.4" height="1.4" fill="#DE746C"/>
<rect x="90.70" y="76.20" width="1.4" height="1.4" fill="#DE746C"/>
<rect x="95.79" y="84.68" width="1.4" height="1.4" fill="#DE746C"/>
<rect x="97.77" y="81.12" width="1.4" height="1.4" fill="#DE746C"/>
<rect x="92.19" y="77.21" width="1.4" height="1.4" fill="#DE746C"/>
<rect x="97.28" y="78.72" width="1.4" height="1.4" fill="#DE746C"/>
<rect x="101.65" y="75.72" width="1.4" height="1.4" fill="#DE746C"/>
<rect x="90.61" y="73.64" width="1.4" height="1.4" fill="#DE746C"/>
<rect x="95.08" y="78.53" width="1.4" height="1.4" fill="#DE746C"/>
<rect x="93.25" y="78.24" width="1.4" height="1.4" fill="#DE746C"/>
<rect x="90.48" y="79.31" width="1.4" height="1.4" fill="#DE746C"/>
<rect x="95.79" y="82.48" width="1.4" height="1.4" fill="#DE746C"/>
<rect x="96.38" y="78.47" width="1.4" height="1.4" fill="#DE746C"/>
<rect x="88.82" y="77.20" width="1.4" height="1.4" fill="#DE746C"/>
<rect x="86.95" y="73.53" width="1.4" height="1.4" fill="#DE746C"/>
<rect x="98.12" y="79.87" width="1.4" height="1.4" fill="#DE746C"/>
<rect x="93.83" y="80.49" width="1.4" height="1.4" fill="#DE746C"/>
<rect x="98.64" y="76.52" width="1.4" height="1.4" fill="#DE746C"/>
<rect x="89.40" y="77.52" width="1.4" height="1.4" fill="#DE746C"/>
<rect x="98.00" y="80.12" width="1.4" height="1.4" fill="#DE746C"/>
<rect x="99.65" y="82.42" width="1.4" height="1.4" fill="#DE746C"/>
<rect x="87.59" y="74.18" width="1.4" height="1.4" fill="#DE746C"/>
<path d="M116,33.3 L118,34.6 L116.3,39.5 L113.5,47 L110.5,55 L109.4,60 L108,66 L107.7,70 L106.5,76 L105,82 L101.5,80 L101.8,74 L102,70 L104.1,60 L106.5,53 L109.5,45 L112.5,38.5 Z" fill="#60A6FA"/>
<rect x="107.96" y="56.13" width="1.4" height="1.4" fill="#60A6FA"/>
<rect x="114.69" y="41.98" width="1.4" height="1.4" fill="#60A6FA"/>
<rect x="109.11" y="52.30" width="1.4" height="1.4" fill="#60A6FA"/>
<rect x="105.07" y="72.28" width="1.4" height="1.4" fill="#60A6FA"/>
<rect x="114.72" y="35.89" width="1.4" height="1.4" fill="#60A6FA"/>
<rect x="114.99" y="39.50" width="1.4" height="1.4" fill="#60A6FA"/>
<rect x="104.91" y="76.40" width="1.4" height="1.4" fill="#60A6FA"/>
<rect x="101.37" y="73.74" width="1.4" height="1.4" fill="#60A6FA"/>
<rect x="110.08" y="47.99" width="1.4" height="1.4" fill="#60A6FA"/>
<rect x="115.19" y="38.40" width="1.4" height="1.4" fill="#60A6FA"/>
<rect x="107.20" y="64.55" width="1.4" height="1.4" fill="#60A6FA"/>
<rect x="112.15" y="37.90" width="1.4" height="1.4" fill="#60A6FA"/>
<rect x="114.95" y="37.24" width="1.4" height="1.4" fill="#60A6FA"/>
<rect x="105.52" y="75.74" width="1.4" height="1.4" fill="#60A6FA"/>
<rect x="114.78" y="33.27" width="1.4" height="1.4" fill="#60A6FA"/>
<rect x="106.31" y="55.48" width="1.4" height="1.4" fill="#60A6FA"/>
<rect x="103.68" y="71.18" width="1.4" height="1.4" fill="#60A6FA"/>
<rect x="102.94" y="64.68" width="1.4" height="1.4" fill="#60A6FA"/>
<rect x="106.44" y="50.54" width="1.4" height="1.4" fill="#60A6FA"/>
<rect x="103.03" y="79.46" width="1.4" height="1.4" fill="#60A6FA"/>
<rect x="114.56" y="38.32" width="1.4" height="1.4" fill="#60A6FA"/>
<rect x="109.36" y="51.05" width="1.4" height="1.4" fill="#60A6FA"/>
<rect x="103.50" y="75.03" width="1.4" height="1.4" fill="#60A6FA"/>
<rect x="99.99" y="78.62" width="1.4" height="1.4" fill="#60A6FA"/>
<rect x="104.85" y="69.51" width="1.4" height="1.4" fill="#60A6FA"/>
<rect x="109.54" y="46.66" width="1.4" height="1.4" fill="#60A6FA"/>
<rect x="109.48" y="43.40" width="1.4" height="1.4" fill="#60A6FA"/>
<rect x="105.03" y="61.76" width="1.4" height="1.4" fill="#60A6FA"/>
<rect x="116.57" y="32.90" width="1.4" height="1.4" fill="#60A6FA"/>
<rect x="104.69" y="68.02" width="1.4" height="1.4" fill="#60A6FA"/>
<rect x="108.96" y="55.53" width="1.4" height="1.4" fill="#60A6FA"/>
<rect x="104.68" y="62.18" width="1.4" height="1.4" fill="#60A6FA"/>
<rect x="102.12" y="67.83" width="1.4" height="1.4" fill="#60A6FA"/>
<rect x="113.77" y="37.93" width="1.4" height="1.4" fill="#60A6FA"/>
<rect x="105.00" y="73.82" width="1.4" height="1.4" fill="#60A6FA"/>
<rect x="106.95" y="60.66" width="1.4" height="1.4" fill="#60A6FA"/>
<rect x="111.42" y="47.08" width="1.4" height="1.4" fill="#60A6FA"/>
<rect x="103.87" y="66.15" width="1.4" height="1.4" fill="#60A6FA"/>
<rect x="103.52" y="75.12" width="1.4" height="1.4" fill="#60A6FA"/>
<rect x="107.99" y="56.74" width="1.4" height="1.4" fill="#60A6FA"/>
<rect x="114.49" y="40.50" width="1.4" height="1.4" fill="#60A6FA"/>
<rect x="102.64" y="78.93" width="1.4" height="1.4" fill="#60A6FA"/>
<rect x="106.38" y="64.37" width="1.4" height="1.4" fill="#60A6FA"/>
<rect x="101.43" y="72.56" width="1.4" height="1.4" fill="#60A6FA"/>
<rect x="103.02" y="61.13" width="1.4" height="1.4" fill="#60A6FA"/>
<rect x="111.42" y="45.78" width="1.4" height="1.4" fill="#60A6FA"/>
<rect x="110.64" y="52.97" width="1.4" height="1.4" fill="#60A6FA"/>
<rect x="112.91" y="41.10" width="1.4" height="1.4" fill="#60A6FA"/>
<rect x="106.46" y="54.24" width="1.4" height="1.4" fill="#60A6FA"/>
<rect x="107.76" y="51.27" width="1.4" height="1.4" fill="#60A6FA"/>
<rect x="103.08" y="77.21" width="1.4" height="1.4" fill="#60A6FA"/>
<rect x="109.22" y="46.30" width="1.4" height="1.4" fill="#60A6FA"/>
<rect x="106.63" y="51.20" width="1.4" height="1.4" fill="#60A6FA"/>
<rect x="103.15" y="74.90" width="1.4" height="1.4" fill="#60A6FA"/>
<rect x="107.29" y="61.69" width="1.4" height="1.4" fill="#60A6FA"/>
<rect x="103.31" y="64.60" width="1.4" height="1.4" fill="#60A6FA"/>
<rect x="102.73" y="66.10" width="1.4" height="1.4" fill="#60A6FA"/>
<rect x="101.78" y="73.17" width="1.4" height="1.4" fill="#60A6FA"/>
<rect x="110.81" y="49.84" width="1.4" height="1.4" fill="#60A6FA"/>
<rect x="104.69" y="72.35" width="1.4" height="1.4" fill="#60A6FA"/>
<rect x="102.00" y="70.62" width="1.4" height="1.4" fill="#60A6FA"/>
<rect x="109.65" y="52.03" width="1.4" height="1.4" fill="#60A6FA"/>
<rect x="105.62" y="74.83" width="1.4" height="1.4" fill="#60A6FA"/>
<rect x="103.36" y="68.38" width="1.4" height="1.4" fill="#60A6FA"/>
<rect x="104.22" y="67.32" width="1.4" height="1.4" fill="#60A6FA"/>
<rect x="104.01" y="63.36" width="1.4" height="1.4" fill="#60A6FA"/>
<rect x="101.54" y="70.79" width="1.4" height="1.4" fill="#60A6FA"/>
<rect x="100.79" y="75.46" width="1.4" height="1.4" fill="#60A6FA"/>
<rect x="104.27" y="61.16" width="1.4" height="1.4" fill="#60A6FA"/>
<rect x="108.12" y="51.25" width="1.4" height="1.4" fill="#60A6FA"/>
<rect x="104.52" y="63.60" width="1.4" height="1.4" fill="#60A6FA"/>
<rect x="102.96" y="76.74" width="1.4" height="1.4" fill="#60A6FA"/>
<rect x="104.94" y="78.80" width="1.4" height="1.4" fill="#60A6FA"/>
<rect x="114.22" y="37.50" width="1.4" height="1.4" fill="#60A6FA"/>
<rect x="104.26" y="72.52" width="1.4" height="1.4" fill="#60A6FA"/>
<rect x="103.57" y="70.07" width="1.4" height="1.4" fill="#60A6FA"/>
<rect x="109.74" y="46.81" width="1.4" height="1.4" fill="#60A6FA"/>
<rect x="111.26" y="42.81" width="1.4" height="1.4" fill="#60A6FA"/>
<rect x="114.45" y="37.92" width="1.4" height="1.4" fill="#60A6FA"/>
<rect x="112.07" y="38.77" width="1.4" height="1.4" fill="#60A6FA"/>
<rect x="108.69" y="55.24" width="1.4" height="1.4" fill="#60A6FA"/>
<rect x="102.89" y="78.85" width="1.4" height="1.4" fill="#60A6FA"/>
<rect x="106.42" y="68.87" width="1.4" height="1.4" fill="#60A6FA"/>
<rect x="102.20" y="73.58" width="1.4" height="1.4" fill="#60A6FA"/>
<rect x="107.20" y="58.69" width="1.4" height="1.4" fill="#60A6FA"/>
<rect x="105.43" y="70.32" width="1.4" height="1.4" fill="#60A6FA"/>
<rect x="105.56" y="51.91" width="1.4" height="1.4" fill="#60A6FA"/>
<rect x="113.32" y="36.99" width="1.4" height="1.4" fill="#60A6FA"/>
<rect x="114.74" y="33.72" width="1.4" height="1.4" fill="#60A6FA"/>
<rect x="112.26" y="46.15" width="1.4" height="1.4" fill="#60A6FA"/>
<path d="M113.5,48 L111,55.5 L109.2,61 L108,67" fill="none" stroke="#8EAD28" stroke-width="0.9" stroke-linecap="round" stroke-linejoin="round" opacity="1"/>
<path d="M102,78 L106.2,78 L105.8,86 L104.8,96 L103.8,106 L101.5,115 L99.8,115 L99.9,106 L99.9,96 L100.9,86 Z" fill="#6ABEC4"/>
<rect x="104.46" y="82.48" width="1.4" height="1.4" fill="#6ABEC4"/>
<rect x="103.50" y="84.20" width="1.4" height="1.4" fill="#6ABEC4"/>
<rect x="103.31" y="98.59" width="1.4" height="1.4" fill="#6ABEC4"/>
<rect x="100.25" y="109.97" width="1.4" height="1.4" fill="#6ABEC4"/>
<rect x="102.11" y="104.85" width="1.4" height="1.4" fill="#6ABEC4"/>
<rect x="100.42" y="90.81" width="1.4" height="1.4" fill="#6ABEC4"/>
<rect x="100.56" y="107.32" width="1.4" height="1.4" fill="#6ABEC4"/>
<rect x="104.14" y="85.98" width="1.4" height="1.4" fill="#6ABEC4"/>
<rect x="101.13" y="90.29" width="1.4" height="1.4" fill="#6ABEC4"/>
<rect x="104.08" y="78.19" width="1.4" height="1.4" fill="#6ABEC4"/>
<rect x="100.99" y="81.82" width="1.4" height="1.4" fill="#6ABEC4"/>
<rect x="102.25" y="84.37" width="1.4" height="1.4" fill="#6ABEC4"/>
<rect x="102.11" y="94.36" width="1.4" height="1.4" fill="#6ABEC4"/>
<rect x="105.28" y="81.12" width="1.4" height="1.4" fill="#6ABEC4"/>
<rect x="100.91" y="83.30" width="1.4" height="1.4" fill="#6ABEC4"/>
<rect x="103.28" y="80.21" width="1.4" height="1.4" fill="#6ABEC4"/>
<rect x="100.22" y="102.06" width="1.4" height="1.4" fill="#6ABEC4"/>
<rect x="103.95" y="96.45" width="1.4" height="1.4" fill="#6ABEC4"/>
<rect x="103.91" y="97.88" width="1.4" height="1.4" fill="#6ABEC4"/>
<rect x="103.63" y="102.25" width="1.4" height="1.4" fill="#6ABEC4"/>
<rect x="104.99" y="84.83" width="1.4" height="1.4" fill="#6ABEC4"/>
<rect x="104.90" y="80.49" width="1.4" height="1.4" fill="#6ABEC4"/>
<rect x="102.27" y="83.43" width="1.4" height="1.4" fill="#6ABEC4"/>
<rect x="103.13" y="102.54" width="1.4" height="1.4" fill="#6ABEC4"/>
<rect x="99.14" y="94.84" width="1.4" height="1.4" fill="#6ABEC4"/>
<rect x="103.28" y="84.96" width="1.4" height="1.4" fill="#6ABEC4"/>
<rect x="100.28" y="113.42" width="1.4" height="1.4" fill="#6ABEC4"/>
<rect x="101.87" y="102.12" width="1.4" height="1.4" fill="#6ABEC4"/>
<rect x="100.96" y="107.94" width="1.4" height="1.4" fill="#6ABEC4"/>
<rect x="99.87" y="93.75" width="1.4" height="1.4" fill="#6ABEC4"/>
<rect x="100.06" y="113.09" width="1.4" height="1.4" fill="#6ABEC4"/>
<rect x="102.60" y="98.68" width="1.4" height="1.4" fill="#6ABEC4"/>
<rect x="100.03" y="83.16" width="1.4" height="1.4" fill="#6ABEC4"/>
<rect x="101.09" y="109.16" width="1.4" height="1.4" fill="#6ABEC4"/>
<rect x="99.52" y="111.22" width="1.4" height="1.4" fill="#6ABEC4"/>
<rect x="102.14" y="87.74" width="1.4" height="1.4" fill="#6ABEC4"/>
<rect x="102.42" y="96.00" width="1.4" height="1.4" fill="#6ABEC4"/>
<rect x="103.62" y="96.57" width="1.4" height="1.4" fill="#6ABEC4"/>
<rect x="103.72" y="97.77" width="1.4" height="1.4" fill="#6ABEC4"/>
<rect x="99.24" y="110.35" width="1.4" height="1.4" fill="#6ABEC4"/>
<rect x="103.58" y="87.33" width="1.4" height="1.4" fill="#6ABEC4"/>
<rect x="103.34" y="102.80" width="1.4" height="1.4" fill="#6ABEC4"/>
<rect x="102.59" y="93.80" width="1.4" height="1.4" fill="#6ABEC4"/>
<rect x="104.26" y="83.70" width="1.4" height="1.4" fill="#6ABEC4"/>
<rect x="100.99" y="93.13" width="1.4" height="1.4" fill="#6ABEC4"/>
<rect x="104.81" y="85.34" width="1.4" height="1.4" fill="#6ABEC4"/>
<rect x="100.79" y="87.22" width="1.4" height="1.4" fill="#6ABEC4"/>
<rect x="102.40" y="93.24" width="1.4" height="1.4" fill="#6ABEC4"/>
<rect x="101.03" y="103.51" width="1.4" height="1.4" fill="#6ABEC4"/>
<rect x="102.02" y="77.63" width="1.4" height="1.4" fill="#6ABEC4"/>
<rect x="102.77" y="99.28" width="1.4" height="1.4" fill="#6ABEC4"/>
<rect x="100.21" y="106.09" width="1.4" height="1.4" fill="#6ABEC4"/>
<rect x="103.61" y="84.71" width="1.4" height="1.4" fill="#6ABEC4"/>
<rect x="103.80" y="87.41" width="1.4" height="1.4" fill="#6ABEC4"/>
<rect x="100.64" y="103.06" width="1.4" height="1.4" fill="#6ABEC4"/>
<rect x="100.91" y="103.60" width="1.4" height="1.4" fill="#6ABEC4"/>
<rect x="100.17" y="111.82" width="1.4" height="1.4" fill="#6ABEC4"/>
<rect x="100.98" y="97.19" width="1.4" height="1.4" fill="#6ABEC4"/>
<rect x="102.40" y="86.95" width="1.4" height="1.4" fill="#6ABEC4"/>
<rect x="103.01" y="104.13" width="1.4" height="1.4" fill="#6ABEC4"/>
<rect x="103.38" y="89.96" width="1.4" height="1.4" fill="#6ABEC4"/>
<rect x="103.44" y="91.13" width="1.4" height="1.4" fill="#6ABEC4"/>
<rect x="100.04" y="99.87" width="1.4" height="1.4" fill="#6ABEC4"/>
<rect x="103.60" y="98.51" width="1.4" height="1.4" fill="#6ABEC4"/>
<rect x="102.53" y="80.96" width="1.4" height="1.4" fill="#6ABEC4"/>
<rect x="99.81" y="92.77" width="1.4" height="1.4" fill="#6ABEC4"/>
<rect x="99.39" y="104.59" width="1.4" height="1.4" fill="#6ABEC4"/>
<rect x="102.22" y="102.02" width="1.4" height="1.4" fill="#6ABEC4"/>
<rect x="100.17" y="88.41" width="1.4" height="1.4" fill="#6ABEC4"/>
<rect x="103.80" y="89.64" width="1.4" height="1.4" fill="#6ABEC4"/>
<rect x="94.95" y="99.20" width="1.4" height="1.4" fill="#E060C8"/>
<rect x="98.83" y="85.51" width="1.4" height="1.4" fill="#E060C8"/>
<rect x="96.75" y="92.35" width="1.4" height="1.4" fill="#E060C8"/>
<rect x="94.18" y="104.03" width="1.4" height="1.4" fill="#E060C8"/>
<rect x="95.66" y="85.43" width="1.4" height="1.4" fill="#E060C8"/>
<rect x="97.11" y="96.60" width="1.4" height="1.4" fill="#E060C8"/>
<rect x="89.91" y="133.87" width="1.4" height="1.4" fill="#E060C8"/>
<rect x="98.43" y="87.05" width="1.4" height="1.4" fill="#E060C8"/>
<rect x="99.52" y="89.61" width="1.4" height="1.4" fill="#E060C8"/>
<rect x="95.38" y="95.78" width="1.4" height="1.4" fill="#E060C8"/>
<rect x="98.28" y="87.81" width="1.4" height="1.4" fill="#E060C8"/>
<rect x="89.49" y="125.58" width="1.4" height="1.4" fill="#E060C8"/>
<rect x="90.37" y="121.65" width="1.4" height="1.4" fill="#E060C8"/>
<rect x="98.60" y="93.20" width="1.4" height="1.4" fill="#E060C8"/>
<rect x="98.78" y="86.74" width="1.4" height="1.4" fill="#E060C8"/>
<rect x="100.49" y="86.85" width="1.4" height="1.4" fill="#E060C8"/>
<rect x="88.40" y="128.30" width="1.4" height="1.4" fill="#E060C8"/>
<rect x="98.82" y="92.21" width="1.4" height="1.4" fill="#E060C8"/>
<rect x="97.44" y="90.63" width="1.4" height="1.4" fill="#E060C8"/>
<rect x="92.77" y="114.68" width="1.4" height="1.4" fill="#E060C8"/>
<rect x="94.15" y="107.16" width="1.4" height="1.4" fill="#E060C8"/>
<rect x="96.64" y="91.41" width="1.4" height="1.4" fill="#E060C8"/>
<rect x="91.30" y="121.05" width="1.4" height="1.4" fill="#E060C8"/>
<rect x="93.65" y="99.69" width="1.4" height="1.4" fill="#E060C8"/>
<rect x="99.17" y="89.32" width="1.4" height="1.4" fill="#E060C8"/>
<rect x="93.55" y="108.34" width="1.4" height="1.4" fill="#E060C8"/>
<rect x="100.83" y="82.08" width="1.4" height="1.4" fill="#E060C8"/>
<rect x="96.52" y="96.73" width="1.4" height="1.4" fill="#E060C8"/>
<rect x="92.64" y="108.33" width="1.4" height="1.4" fill="#E060C8"/>
<rect x="97.85" y="102.26" width="1.4" height="1.4" fill="#E060C8"/>
<rect x="93.35" y="114.65" width="1.4" height="1.4" fill="#E060C8"/>
<rect x="95.54" y="102.27" width="1.4" height="1.4" fill="#E060C8"/>
<rect x="93.84" y="108.11" width="1.4" height="1.4" fill="#E060C8"/>
<rect x="93.49" y="109.05" width="1.4" height="1.4" fill="#E060C8"/>
<rect x="93.42" y="113.34" width="1.4" height="1.4" fill="#E060C8"/>
<rect x="90.71" y="118.33" width="1.4" height="1.4" fill="#E060C8"/>
<rect x="89.29" y="125.10" width="1.4" height="1.4" fill="#E060C8"/>
<rect x="89.17" y="131.70" width="1.4" height="1.4" fill="#E060C8"/>
<rect x="93.94" y="101.75" width="1.4" height="1.4" fill="#E060C8"/>
<rect x="97.60" y="89.45" width="1.4" height="1.4" fill="#E060C8"/>
<rect x="96.33" y="81.52" width="1.4" height="1.4" fill="#E060C8"/>
<rect x="96.28" y="104.35" width="1.4" height="1.4" fill="#E060C8"/>
<rect x="96.01" y="97.45" width="1.4" height="1.4" fill="#E060C8"/>
<rect x="92.25" y="114.64" width="1.4" height="1.4" fill="#E060C8"/>
<rect x="101.06" y="83.63" width="1.4" height="1.4" fill="#E060C8"/>
<rect x="89.26" y="121.81" width="1.4" height="1.4" fill="#E060C8"/>
<rect x="96.12" y="103.35" width="1.4" height="1.4" fill="#E060C8"/>
<rect x="98.36" y="85.36" width="1.4" height="1.4" fill="#E060C8"/>
<rect x="97.65" y="93.08" width="1.4" height="1.4" fill="#E060C8"/>
<rect x="97.46" y="91.09" width="1.4" height="1.4" fill="#E060C8"/>
<rect x="94.15" y="110.82" width="1.4" height="1.4" fill="#E060C8"/>
<rect x="97.97" y="87.34" width="1.4" height="1.4" fill="#E060C8"/>
<rect x="97.61" y="86.34" width="1.4" height="1.4" fill="#E060C8"/>
<rect x="89.53" y="127.32" width="1.4" height="1.4" fill="#E060C8"/>
<rect x="94.18" y="105.01" width="1.4" height="1.4" fill="#E060C8"/>
<rect x="99.12" y="86.63" width="1.4" height="1.4" fill="#E060C8"/>
<rect x="98.82" y="93.25" width="1.4" height="1.4" fill="#E060C8"/>
<rect x="89.84" y="130.22" width="1.4" height="1.4" fill="#E060C8"/>
<rect x="97.08" y="92.62" width="1.4" height="1.4" fill="#E060C8"/>
<rect x="89.91" y="117.77" width="1.4" height="1.4" fill="#E060C8"/>
<rect x="94.36" y="107.64" width="1.4" height="1.4" fill="#E060C8"/>
<rect x="95.75" y="97.09" width="1.4" height="1.4" fill="#E060C8"/>
<rect x="92.57" y="114.73" width="1.4" height="1.4" fill="#E060C8"/>
<rect x="98.07" y="79.56" width="1.4" height="1.4" fill="#E060C8"/>
<rect x="89.51" y="132.99" width="1.4" height="1.4" fill="#E060C8"/>
<rect x="95.50" y="97.47" width="1.4" height="1.4" fill="#E060C8"/>
<rect x="98.05" y="81.87" width="1.4" height="1.4" fill="#E060C8"/>
<rect x="89.70" y="121.74" width="1.4" height="1.4" fill="#E060C8"/>
<rect x="96.70" y="87.78" width="1.4" height="1.4" fill="#E060C8"/>
<rect x="93.84" y="110.03" width="1.4" height="1.4" fill="#E060C8"/>
<rect x="98.31" y="92.64" width="1.4" height="1.4" fill="#E060C8"/>
<rect x="97.79" y="91.03" width="1.4" height="1.4" fill="#E060C8"/>
<rect x="94.79" y="107.41" width="1.4" height="1.4" fill="#E060C8"/>
<rect x="96.93" y="84.44" width="1.4" height="1.4" fill="#E060C8"/>
<rect x="96.40" y="92.32" width="1.4" height="1.4" fill="#E060C8"/>
<rect x="99.65" y="95.42" width="1.4" height="1.4" fill="#E060C8"/>
<rect x="98.64" y="85.83" width="1.4" height="1.4" fill="#E060C8"/>
<rect x="97.07" y="86.32" width="1.4" height="1.4" fill="#E060C8"/>
<rect x="94.16" y="98.79" width="1.4" height="1.4" fill="#E060C8"/>
<rect x="95.84" y="92.46" width="1.4" height="1.4" fill="#E060C8"/>
<rect x="94.69" y="102.69" width="1.4" height="1.4" fill="#E060C8"/>
<rect x="94.81" y="100.99" width="1.4" height="1.4" fill="#E060C8"/>
<rect x="97.92" y="91.89" width="1.4" height="1.4" fill="#E060C8"/>
<rect x="98.63" y="92.46" width="1.4" height="1.4" fill="#E060C8"/>
<rect x="94.57" y="100.74" width="1.4" height="1.4" fill="#E060C8"/>
<rect x="93.48" y="104.34" width="1.4" height="1.4" fill="#E060C8"/>
<rect x="93.70" y="101.54" width="1.4" height="1.4" fill="#E060C8"/>
<rect x="97.16" y="90.04" width="1.4" height="1.4" fill="#E060C8"/>
<rect x="96.55" y="96.83" width="1.4" height="1.4" fill="#E060C8"/>
<rect x="92.05" y="115.35" width="1.4" height="1.4" fill="#E060C8"/>
<rect x="91.37" y="112.58" width="1.4" height="1.4" fill="#E060C8"/>
<rect x="91.43" y="113.66" width="1.4" height="1.4" fill="#E060C8"/>
<rect x="95.50" y="100.96" width="1.4" height="1.4" fill="#E060C8"/>
<rect x="92.68" y="103.72" width="1.4" height="1.4" fill="#E060C8"/>
<rect x="94.25" y="107.91" width="1.4" height="1.4" fill="#E060C8"/>
<rect x="94.76" y="98.66" width="1.4" height="1.4" fill="#E060C8"/>
<rect x="94.20" y="103.11" width="1.4" height="1.4" fill="#E060C8"/>
<rect x="90.42" y="115.39" width="1.4" height="1.4" fill="#E060C8"/>
<rect x="96.45" y="86.79" width="1.4" height="1.4" fill="#E060C8"/>
<rect x="94.67" y="96.96" width="1.4" height="1.4" fill="#E060C8"/>
<rect x="94.85" y="92.19" width="1.4" height="1.4" fill="#E060C8"/>
<rect x="93.94" y="104.46" width="1.4" height="1.4" fill="#E060C8"/>
<rect x="96.69" y="85.23" width="1.4" height="1.4" fill="#E060C8"/>
<rect x="97.94" y="94.16" width="1.4" height="1.4" fill="#E060C8"/>
<rect x="87.63" y="129.95" width="1.4" height="1.4" fill="#E060C8"/>
<rect x="99.88" y="90.50" width="1.4" height="1.4" fill="#E060C8"/>
<rect x="96.64" y="86.48" width="1.4" height="1.4" fill="#E060C8"/>
<rect x="99.46" y="94.77" width="1.4" height="1.4" fill="#E060C8"/>
<rect x="98.77" y="92.78" width="1.4" height="1.4" fill="#E060C8"/>
<rect x="99.33" y="86.88" width="1.4" height="1.4" fill="#E060C8"/>
<path d="M98,80 L102,80 L100.9,86 L99.9,96 L98.5,96 L97.5,86 Z" fill="#E060C8"/>
<path d="M89.3,136.8 L92.2,136.8" stroke="#E060C8" stroke-width="1"/>
<rect x="100.52" y="87.16" width="1.3" height="1.3" fill="#60A6FA"/>
<rect x="97.74" y="81.88" width="1.3" height="1.3" fill="#60A6FA"/>
<rect x="95.31" y="76.73" width="1.3" height="1.3" fill="#60A6FA"/>
<rect x="97.48" y="90.23" width="1.3" height="1.3" fill="#60A6FA"/>
<rect x="96.29" y="78.23" width="1.3" height="1.3" fill="#60A6FA"/>
<rect x="101.26" y="86.41" width="1.3" height="1.3" fill="#60A6FA"/>
<rect x="100.62" y="88.09" width="1.3" height="1.3" fill="#60A6FA"/>
<rect x="95.33" y="78.36" width="1.3" height="1.3" fill="#60A6FA"/>
<rect x="98.64" y="85.08" width="1.3" height="1.3" fill="#60A6FA"/>
<rect x="98.05" y="79.87" width="1.3" height="1.3" fill="#60A6FA"/>
<rect x="96.52" y="76.11" width="1.3" height="1.3" fill="#60A6FA"/>
<rect x="94.83" y="77.99" width="1.3" height="1.3" fill="#60A6FA"/>
<rect x="98.70" y="90.34" width="1.3" height="1.3" fill="#60A6FA"/>
<rect x="95.45" y="81.67" width="1.3" height="1.3" fill="#60A6FA"/>
<rect x="100.25" y="80.90" width="1.3" height="1.3" fill="#60A6FA"/>
<rect x="97.41" y="83.50" width="1.3" height="1.3" fill="#60A6FA"/>
<rect x="91.14" y="76.46" width="1.3" height="1.3" fill="#60A6FA"/>
<rect x="99.30" y="86.35" width="1.3" height="1.3" fill="#60A6FA"/>
<rect x="101.11" y="86.40" width="1.3" height="1.3" fill="#60A6FA"/>
<rect x="100.95" y="89.03" width="1.3" height="1.3" fill="#60A6FA"/>
<rect x="94.01" y="81.61" width="1.3" height="1.3" fill="#E060C8"/>
<rect x="96.46" y="81.73" width="1.3" height="1.3" fill="#E060C8"/>
<rect x="91.93" y="81.93" width="1.3" height="1.3" fill="#E060C8"/>
<rect x="95.78" y="80.17" width="1.3" height="1.3" fill="#E060C8"/>
<rect x="92.09" y="78.40" width="1.3" height="1.3" fill="#E060C8"/>
<rect x="98.79" y="82.28" width="1.3" height="1.3" fill="#E060C8"/>
<rect x="94.47" y="79.10" width="1.3" height="1.3" fill="#E060C8"/>
<rect x="96.63" y="84.86" width="1.3" height="1.3" fill="#E060C8"/>
<rect x="94.77" y="83.08" width="1.3" height="1.3" fill="#E060C8"/>
<rect x="95.95" y="82.54" width="1.3" height="1.3" fill="#E060C8"/>
<rect x="95.02" y="83.79" width="1.3" height="1.3" fill="#E060C8"/>
<rect x="91.73" y="80.78" width="1.3" height="1.3" fill="#E060C8"/>
<rect x="100.64" y="101.40" width="1.2" height="1.2" fill="#6ABEC4"/>
<rect x="99.77" y="92.83" width="1.2" height="1.2" fill="#6ABEC4"/>
<rect x="96.46" y="93.88" width="1.2" height="1.2" fill="#6ABEC4"/>
<rect x="97.48" y="109.41" width="1.2" height="1.2" fill="#6ABEC4"/>
<rect x="98.51" y="98.26" width="1.2" height="1.2" fill="#6ABEC4"/>
<rect x="99.38" y="92.74" width="1.2" height="1.2" fill="#6ABEC4"/>
<rect x="99.38" y="93.55" width="1.2" height="1.2" fill="#6ABEC4"/>
<rect x="99.66" y="102.87" width="1.2" height="1.2" fill="#6ABEC4"/>
<rect x="100.40" y="93.92" width="1.2" height="1.2" fill="#6ABEC4"/>
<rect x="98.50" y="100.32" width="1.2" height="1.2" fill="#6ABEC4"/>
<rect x="97.89" y="101.72" width="1.2" height="1.2" fill="#6ABEC4"/>
<rect x="99.47" y="99.61" width="1.2" height="1.2" fill="#6ABEC4"/>
<path d="M48.6,72 Q34,67 27,55.2" fill="none" stroke="#1a1a1a" stroke-width="1.1"/>
<path d="M24.3,50 L25.3,57.1 L27.2,55.2 L30.2,54.5 Z" fill="#1a1a1a"/>
<path d="M115.2,75.3 Q116.5,56 123.2,47.2" fill="none" stroke="#1a1a1a" stroke-width="1.1"/>
<path d="M125.6,43.2 L119.4,47.9 L122.2,48.3 L125.1,50.3 Z" fill="#1a1a1a"/>
<path d="M87.4,97 Q82,105 81,114.5" fill="none" stroke="#1a1a1a" stroke-width="1.1"/>
<path d="M80.2,120.5 L78.2,113.8 L80.9,115 L83.5,114.5 Z" fill="#1a1a1a"/>
<text x="0" y="0" font-size="9.2" text-anchor="start" fill="#1e1e1e" stroke="#1e1e1e" stroke-width="0.18" transform="translate(20.9,75.8) scale(0.87,1)">Mega</text>
<text x="0" y="0" font-size="9.2" text-anchor="start" fill="#1e1e1e" stroke="#1e1e1e" stroke-width="0.18" transform="translate(120.8,63.7) scale(0.87,1)">Ery</text>
<text x="0" y="0" font-size="9.2" text-anchor="start" fill="#1e1e1e" stroke="#1e1e1e" stroke-width="0.18" transform="translate(54.6,102.3) scale(0.87,1)">Granulo</text>
<path d="M24.7,112.7 V94 M24.7,112.7 H44" fill="none" stroke="#3a3a3a" stroke-width="1.2"/>
<path d="M24.7,88.8 L21.9,95.7 L24.7,94.4 L27.8,95.7 Z" fill="#3a3a3a"/>
<path d="M50.1,112.7 L43.2,109.8 L44.5,112.7 L43.2,115.7 Z" fill="#3a3a3a"/>
<text x="25.4" y="124.9" font-size="10.2" text-anchor="start" fill="#333" font-weight="normal" textLength="15.3" lengthAdjust="spacingAndGlyphs" stroke="#333" stroke-width="0.2">DM2</text>
<text x="0" y="0" font-size="10.2" fill="#333" stroke="#333" stroke-width="0.2" textLength="15.3" lengthAdjust="spacingAndGlyphs" transform="translate(21,112.6) rotate(-90)">DM1</text>
<circle cx="140.6" cy="47.70" r="4.7" fill="#DE746C"/>
<text x="0" y="0" font-size="9.6" text-anchor="start" fill="#1e1e1e" stroke="#1e1e1e" stroke-width="0.18" transform="translate(147.9,50.2) scale(0.87,1)">Naïve 2</text>
<circle cx="140.6" cy="59.27" r="4.7" fill="#BE9423"/>
<text x="0" y="0" font-size="9.6" text-anchor="start" fill="#1e1e1e" stroke="#1e1e1e" stroke-width="0.18" transform="translate(147.9,61.77) scale(0.87,1)">Mega 1</text>
<circle cx="140.6" cy="70.84" r="4.7" fill="#8EAD28"/>
<text x="0" y="0" font-size="9.6" text-anchor="start" fill="#1e1e1e" stroke="#1e1e1e" stroke-width="0.18" transform="translate(147.9,73.34) scale(0.87,1)">Ery 1</text>
<circle cx="140.6" cy="82.41" r="4.7" fill="#6CBE6C"/>
<text x="0" y="0" font-size="9.6" text-anchor="start" fill="#1e1e1e" stroke="#1e1e1e" stroke-width="0.18" transform="translate(147.9,84.91) scale(0.87,1)">Mega 2</text>
<circle cx="140.6" cy="93.98" r="4.7" fill="#6ABEC4"/>
<text x="0" y="0" font-size="9.6" text-anchor="start" fill="#1e1e1e" stroke="#1e1e1e" stroke-width="0.18" transform="translate(147.9,96.48) scale(0.87,1)">Naïve 1</text>
<circle cx="140.6" cy="105.55" r="4.7" fill="#60A6FA"/>
<text x="0" y="0" font-size="9.6" text-anchor="start" fill="#1e1e1e" stroke="#1e1e1e" stroke-width="0.18" transform="translate(147.9,108.05000000000001) scale(0.87,1)">Ery 2</text>
<circle cx="140.6" cy="117.12" r="4.7" fill="#B07CFA"/>
<text x="0" y="0" font-size="9.6" text-anchor="start" fill="#1e1e1e" stroke="#1e1e1e" stroke-width="0.18" transform="translate(147.9,119.62) scale(0.87,1)">Mega 3</text>
<circle cx="140.6" cy="128.69" r="4.7" fill="#E060C8"/>
<text x="0" y="0" font-size="9.6" text-anchor="start" fill="#1e1e1e" stroke="#1e1e1e" stroke-width="0.18" transform="translate(147.9,131.19) scale(0.87,1)">Granulo</text>
<rect x="194.5" y="35.4" width="48.2" height="48" fill="none" stroke="#2a2a2a" stroke-width="1.1"/>
<text x="0" y="0" font-size="9.2" text-anchor="middle" fill="#1e1e1e" stroke="#1e1e1e" stroke-width="0.18" transform="translate(218.6,30.799999999999997) scale(0.87,1)">Naïve 1</text>
<rect x="248.7" y="35.4" width="48.2" height="48" fill="none" stroke="#2a2a2a" stroke-width="1.1"/>
<text x="0" y="0" font-size="9.2" text-anchor="middle" fill="#1e1e1e" stroke="#1e1e1e" stroke-width="0.18" transform="translate(272.8,30.799999999999997) scale(0.87,1)">Naïve 2</text>
<rect x="303.2" y="35.4" width="48.2" height="48" fill="none" stroke="#2a2a2a" stroke-width="1.1"/>
<text x="0" y="0" font-size="9.2" text-anchor="middle" fill="#1e1e1e" stroke="#1e1e1e" stroke-width="0.18" transform="translate(327.3,30.799999999999997) scale(0.87,1)">Ery 1</text>
<rect x="357" y="35.4" width="48.2" height="48" fill="none" stroke="#2a2a2a" stroke-width="1.1"/>
<text x="0" y="0" font-size="9.2" text-anchor="middle" fill="#1e1e1e" stroke="#1e1e1e" stroke-width="0.18" transform="translate(381.1,30.799999999999997) scale(0.87,1)">Ery 2</text>
<rect x="194.5" y="99.3" width="48.2" height="48" fill="none" stroke="#2a2a2a" stroke-width="1.1"/>
<text x="0" y="0" font-size="9.2" text-anchor="middle" fill="#1e1e1e" stroke="#1e1e1e" stroke-width="0.18" transform="translate(218.6,94.7) scale(0.87,1)">Mega 1</text>
<rect x="248.7" y="99.3" width="48.2" height="48" fill="none" stroke="#2a2a2a" stroke-width="1.1"/>
<text x="0" y="0" font-size="9.2" text-anchor="middle" fill="#1e1e1e" stroke="#1e1e1e" stroke-width="0.18" transform="translate(272.8,94.7) scale(0.87,1)">Mega 2</text>
<rect x="303.2" y="99.3" width="48.2" height="48" fill="none" stroke="#2a2a2a" stroke-width="1.1"/>
<text x="0" y="0" font-size="9.2" text-anchor="middle" fill="#1e1e1e" stroke="#1e1e1e" stroke-width="0.18" transform="translate(327.3,94.7) scale(0.87,1)">Mega 3</text>
<rect x="357" y="99.3" width="48.2" height="48" fill="none" stroke="#2a2a2a" stroke-width="1.1"/>
<text x="0" y="0" font-size="9.2" text-anchor="middle" fill="#1e1e1e" stroke="#1e1e1e" stroke-width="0.18" transform="translate(381.1,94.7) scale(0.87,1)">Granulo</text>
<path d="M228.3,47 L226.6,51.5 L225,58 L223.6,66.8 L222.3,67 L222.6,60 L223.6,53.5 L225.5,50 Z" fill="#6ABEC4" stroke="#6ABEC4" stroke-width="0.5"/>
<path d="M224.5,55 L221,55.8" stroke="#6ABEC4" stroke-width="0.8"/>
<circle cx="220.6" cy="75.7" r="0.7" fill="#6ABEC4"/>
<path d="M269.2,52.6 Q275,54 277.5,55.2 Q280,52 281.5,49.1 Q279,53 278.5,57 L277.8,62.7 Q276.5,58 275,57 Q272,55 269.2,52.6 Z" fill="#DE746C" stroke="#DE746C" stroke-width="1"/>
<path d="M338.8,41.9 L332.3,54.1" stroke="#8EAD28" stroke-width="1.8" stroke-linecap="round"/>
<circle cx="330.3" cy="52.1" r="0.6" fill="#8EAD28"/>
<path d="M393,41.7 L386.6,57" stroke="#60A6FA" stroke-width="1.6" stroke-linecap="round"/>
<path d="M378,53 L382,55 L385,53 L386.5,56" fill="none" stroke="#60A6FA" stroke-width="1.1"/>
<circle cx="374.5" cy="51.2" r="0.55" fill="#60A6FA"/>
<path d="M207.6,111.7 Q213,116.5 219.4,117.3 Q224.5,117 227,111.1" fill="none" stroke="#BE9423" stroke-width="1.8" stroke-linecap="round"/>
<circle cx="228.5" cy="108.2" r="0.6" fill="#BE9423"/>
<path d="M257,106.5 Q262,112.5 266,115 Q269,116.5 271.7,116.9" fill="none" stroke="#6CBE6C" stroke-width="1.5" stroke-linecap="round"/>
<path d="M311.2,105.4 Q315,111 321.7,113.8 Q328,114.5 333.8,112" fill="none" stroke="#B07CFA" stroke-width="1.8" stroke-linecap="round"/>
<path d="M387.2,116.3 L383.2,139.5" stroke="#E060C8" stroke-width="1.4" stroke-linecap="round"/>
<circle cx="371" cy="112.3" r="0.7" fill="#E060C8"/>
<circle cx="372.8" cy="113.5" r="0.7" fill="#E060C8"/>
<circle cx="375.7" cy="116.9" r="0.7" fill="#E060C8"/>
<circle cx="376.5" cy="117.5" r="0.7" fill="#E060C8"/>
<circle cx="374.8" cy="117.3" r="0.7" fill="#E060C8"/>
<circle cx="377.4" cy="122.7" r="0.7" fill="#E060C8"/>
<circle cx="379.7" cy="117.3" r="0.7" fill="#E060C8"/>
<circle cx="382.8" cy="118.7" r="0.7" fill="#E060C8"/>
<circle cx="381.4" cy="130" r="0.7" fill="#E060C8"/>
<line x1="429.1" y1="91.3" x2="449.3" y2="46.2" stroke="#444" stroke-width="0.7"/>
<line x1="429.1" y1="91.3" x2="447.4" y2="62.5" stroke="#444" stroke-width="0.7"/>
<line x1="449.3" y1="46.2" x2="485.8" y2="86.6" stroke="#444" stroke-width="0.7"/>
<line x1="426.8" y1="121.1" x2="481.9" y2="131.1" stroke="#444" stroke-width="0.7"/>
<line x1="438.2" y1="146.6" x2="481.9" y2="131.1" stroke="#444" stroke-width="0.7"/>
<line x1="510.1" y1="90.4" x2="481.9" y2="131.1" stroke="#444" stroke-width="0.7"/>
<line x1="449.3" y1="46.2" x2="478.2" y2="62.8" stroke="#222" stroke-width="0.95"/>
<line x1="482.2" y1="40.5" x2="478.2" y2="62.8" stroke="#222" stroke-width="0.95"/>
<line x1="429.1" y1="91.3" x2="478.2" y2="62.8" stroke="#222" stroke-width="0.95"/>
<line x1="425.9" y1="36.3" x2="459.3" y2="29.7" stroke="#1a1a1a" stroke-width="1.2"/>
<line x1="425.9" y1="36.3" x2="449.3" y2="46.2" stroke="#1a1a1a" stroke-width="1.2"/>
<line x1="425.9" y1="36.3" x2="447.4" y2="62.5" stroke="#1a1a1a" stroke-width="1.2"/>
<line x1="459.3" y1="29.7" x2="449.3" y2="46.2" stroke="#1a1a1a" stroke-width="1.2"/>
<line x1="459.3" y1="29.7" x2="478.2" y2="62.8" stroke="#1a1a1a" stroke-width="1.2"/>
<line x1="449.3" y1="46.2" x2="482.2" y2="40.5" stroke="#1a1a1a" stroke-width="1.2"/>
<line x1="449.3" y1="46.2" x2="447.4" y2="62.5" stroke="#1a1a1a" stroke-width="1.2"/>
<line x1="482.2" y1="40.5" x2="447.4" y2="62.5" stroke="#1a1a1a" stroke-width="1.2"/>
<line x1="447.4" y1="62.5" x2="485.8" y2="86.6" stroke="#1a1a1a" stroke-width="1.2"/>
<line x1="478.2" y1="62.8" x2="485.8" y2="86.6" stroke="#1a1a1a" stroke-width="1.2"/>
<line x1="478.2" y1="62.8" x2="510.1" y2="90.4" stroke="#1a1a1a" stroke-width="1.2"/>
<line x1="485.8" y1="86.6" x2="510.1" y2="90.4" stroke="#1a1a1a" stroke-width="1.2"/>
<line x1="485.8" y1="86.6" x2="505.1" y2="115.1" stroke="#1a1a1a" stroke-width="1.2"/>
<line x1="510.1" y1="90.4" x2="505.1" y2="115.1" stroke="#1a1a1a" stroke-width="1.2"/>
<line x1="505.1" y1="115.1" x2="481.9" y2="131.1" stroke="#1a1a1a" stroke-width="1.2"/>
<line x1="429.1" y1="91.3" x2="426.8" y2="121.1" stroke="#1a1a1a" stroke-width="1.2"/>
<line x1="426.8" y1="121.1" x2="438.2" y2="146.6" stroke="#1a1a1a" stroke-width="1.2"/>
<circle cx="425.9" cy="36.3" r="3.5" fill="#6ABEC4"/>
<path d="M425.9,36.3 L429.19,35.10 A3.5,3.5 0 0 1 424.15,39.33 Z" fill="#DE746C"/>
<circle cx="459.3" cy="29.7" r="2.8" fill="#DE746C"/>
<circle cx="460.14" cy="28.86" r="1.12" fill="#6ABEC4"/>
<circle cx="449.3" cy="46.2" r="2.6" fill="#DE746C"/>
<circle cx="450.08" cy="45.42" r="1.04" fill="#6CBE6C"/>
<circle cx="482.2" cy="40.5" r="1.5" fill="#E060C8"/>
<circle cx="482.65" cy="40.05" r="0.60" fill="#E060C8"/>
<circle cx="447.4" cy="62.5" r="2.6" fill="#DE746C"/>
<circle cx="448.18" cy="61.72" r="1.04" fill="#6ABEC4"/>
<circle cx="478.2" cy="62.8" r="2.3" fill="#BE9423"/>
<circle cx="478.89" cy="62.11" r="0.92" fill="#E060C8"/>
<circle cx="429.1" cy="91.3" r="2.7" fill="#8EAD28"/>
<circle cx="429.91" cy="90.49" r="1.08" fill="#60A6FA"/>
<circle cx="485.8" cy="86.6" r="3.2" fill="#BE9423"/>
<circle cx="486.76" cy="85.64" r="1.28" fill="#6CBE6C"/>
<circle cx="510.1" cy="90.4" r="3.2" fill="#BE9423"/>
<circle cx="511.06" cy="89.44" r="1.28" fill="#6CBE6C"/>
<circle cx="426.8" cy="121.1" r="3.0" fill="#8EAD28"/>
<circle cx="427.70" cy="120.20" r="1.20" fill="#60A6FA"/>
<circle cx="505.1" cy="115.1" r="3.0" fill="#6CBE6C"/>
<circle cx="506.00" cy="114.20" r="1.20" fill="#B07CFA"/>
<circle cx="481.9" cy="131.1" r="2.0" fill="#B07CFA"/>
<circle cx="482.50" cy="130.50" r="0.80" fill="#6CBE6C"/>
<circle cx="438.2" cy="146.6" r="3.0" fill="#60A6FA"/>
<circle cx="439.10" cy="145.70" r="1.20" fill="#8EAD28"/>
<text x="0" y="0" font-size="9.2" text-anchor="start" fill="#1e1e1e" stroke="#1e1e1e" stroke-width="0.18" transform="translate(433.5,27.8) scale(0.87,1)">Naïve</text>
<text x="0" y="0" font-size="9.2" text-anchor="start" fill="#1e1e1e" stroke="#1e1e1e" stroke-width="0.18" transform="translate(486.2,43.5) scale(0.87,1)">Granulo</text>
<text x="0" y="0" font-size="9.2" text-anchor="start" fill="#1e1e1e" stroke="#1e1e1e" stroke-width="0.18" transform="translate(432.6,110.2) scale(0.87,1)">Ery</text>
<text x="0" y="0" font-size="9.2" text-anchor="start" fill="#1e1e1e" stroke="#1e1e1e" stroke-width="0.18" transform="translate(473,105.7) scale(0.87,1)">Mega</text>
<path d="M170.0,197 V232.3 M154.5,237.3 V235.3 Q154.7,233.9 158.0,233.5 Q165.0,232.5 170.0,232.3 Q175.0,232.5 182.0,233.5 Q185.3,233.9 185.5,235.8 V239.8 M162.0,233.20000000000002 V254.3 M158.0,257.3 V255.8 Q158.0,254.5 162.0,254.3 Q166.0,254.5 166.0,255.8 V279.3 M178.0,233.20000000000002 V245.8 M173.8,283.3 V247.3 Q173.8,246.0 178.0,245.8 Q182.0,246.0 182.0,247.3 V254.8" fill="none" stroke="#2b2b2b" stroke-width="1.25"/>
<text x="0" y="0" font-size="9.2" text-anchor="middle" fill="#1e1e1e" stroke="#1e1e1e" stroke-width="0.18" transform="translate(170,192.5) scale(0.87,1)">Naïve 1</text>
<path d="M213.5,196 V231.8 M198.0,236.8 V234.8 Q198.2,233.4 201.5,233.0 Q208.5,232.0 213.5,231.8 Q218.5,232.0 225.5,233.0 Q228.8,233.4 229.0,235.3 V239.3 M205.5,232.70000000000002 V253.8 M201.5,256.8 V255.3 Q201.5,254.0 205.5,253.8 Q209.5,254.0 209.5,255.3 V278.8 M221.5,232.70000000000002 V245.3 M217.3,282.8 V246.8 Q217.3,245.5 221.5,245.3 Q225.5,245.5 225.5,246.8 V254.3" fill="none" stroke="#2b2b2b" stroke-width="1.25"/>
<text x="0" y="0" font-size="9.2" text-anchor="middle" fill="#1e1e1e" stroke="#1e1e1e" stroke-width="0.18" transform="translate(213.5,192.5) scale(0.87,1)">Naïve 2</text>
<path d="M255.0,198.4 V231.9 M239.5,236.9 V234.9 Q239.7,233.5 243.0,233.1 Q250.0,232.1 255.0,231.9 Q260.0,232.1 267.0,233.1 Q270.3,233.5 270.5,235.4 V239.4 M247.0,232.8 V253.9 M243.0,256.9 V255.4 Q243.0,254.1 247.0,253.9 Q251.0,254.1 251.0,255.4 V278.9 M263.0,232.8 V245.4 M258.8,282.9 V246.9 Q258.8,245.6 263.0,245.4 Q267.0,245.6 267.0,246.9 V254.4" fill="none" stroke="#2b2b2b" stroke-width="1.25"/>
<text x="0" y="0" font-size="9.2" text-anchor="middle" fill="#1e1e1e" stroke="#1e1e1e" stroke-width="0.18" transform="translate(255,192.5) scale(0.87,1)">Ery 1</text>
<path d="M295.7,199 V231.6 M280.2,236.6 V234.6 Q280.4,233.2 283.7,232.79999999999998 Q290.7,231.79999999999998 295.7,231.6 Q300.7,231.79999999999998 307.7,232.79999999999998 Q311.0,233.2 311.2,235.1 V239.1 M287.7,232.5 V253.6 M283.7,256.6 V255.1 Q283.7,253.79999999999998 287.7,253.6 Q291.7,253.79999999999998 291.7,255.1 V278.6 M303.7,232.5 V245.1 M299.5,282.6 V246.6 Q299.5,245.29999999999998 303.7,245.1 Q307.7,245.29999999999998 307.7,246.6 V254.1" fill="none" stroke="#2b2b2b" stroke-width="1.25"/>
<text x="0" y="0" font-size="9.2" text-anchor="middle" fill="#1e1e1e" stroke="#1e1e1e" stroke-width="0.18" transform="translate(295.7,192.5) scale(0.87,1)">Ery 2</text>
<path d="M336.8,202.2 V232.4 M321.3,237.4 V235.4 Q321.5,234.0 324.8,233.6 Q331.8,232.6 336.8,232.4 Q341.8,232.6 348.8,233.6 Q352.1,234.0 352.3,235.9 V239.9 M328.8,233.3 V254.4 M324.8,257.4 V255.9 Q324.8,254.6 328.8,254.4 Q332.8,254.6 332.8,255.9 V279.4 M344.8,233.3 V245.9 M340.6,283.4 V247.4 Q340.6,246.1 344.8,245.9 Q348.8,246.1 348.8,247.4 V254.9" fill="none" stroke="#2b2b2b" stroke-width="1.25"/>
<text x="0" y="0" font-size="9.2" text-anchor="middle" fill="#1e1e1e" stroke="#1e1e1e" stroke-width="0.18" transform="translate(336.8,192.5) scale(0.87,1)">Mega 1</text>
<path d="M379.5,200.7 V231.5 M364.0,236.5 V234.5 Q364.2,233.1 367.5,232.7 Q374.5,231.7 379.5,231.5 Q384.5,231.7 391.5,232.7 Q394.8,233.1 395.0,235.0 V239.0 M371.5,232.4 V253.5 M367.5,256.5 V255.0 Q367.5,253.7 371.5,253.5 Q375.5,253.7 375.5,255.0 V278.5 M387.5,232.4 V245.0 M383.3,282.5 V246.5 Q383.3,245.2 387.5,245.0 Q391.5,245.2 391.5,246.5 V254.0" fill="none" stroke="#2b2b2b" stroke-width="1.25"/>
<text x="0" y="0" font-size="9.2" text-anchor="middle" fill="#1e1e1e" stroke="#1e1e1e" stroke-width="0.18" transform="translate(381.0,192.5) scale(0.87,1)">Mega 2</text>
<path d="M424.7,201.2 V231.4 M409.2,236.4 V234.4 Q409.4,233.0 412.7,232.6 Q419.7,231.6 424.7,231.4 Q429.7,231.6 436.7,232.6 Q440.0,233.0 440.2,234.9 V238.9 M416.7,232.3 V253.4 M412.7,256.4 V254.9 Q412.7,253.6 416.7,253.4 Q420.7,253.6 420.7,254.9 V278.4 M432.7,232.3 V244.9 M428.5,282.4 V246.4 Q428.5,245.1 432.7,244.9 Q436.7,245.1 436.7,246.4 V253.9" fill="none" stroke="#2b2b2b" stroke-width="1.25"/>
<text x="0" y="0" font-size="9.2" text-anchor="middle" fill="#1e1e1e" stroke="#1e1e1e" stroke-width="0.18" transform="translate(424.7,192.5) scale(0.87,1)">Mega 3</text>
<path d="M468.8,199.4 V229.9 M453.3,234.9 V232.9 Q453.5,231.5 456.8,231.1 Q463.8,230.1 468.8,229.9 Q473.8,230.1 480.8,231.1 Q484.1,231.5 484.3,233.4 V237.4 M460.8,230.8 V251.9 M456.8,254.9 V253.4 Q456.8,252.1 460.8,251.9 Q464.8,252.1 464.8,253.4 V276.9 M476.8,230.8 V243.4 M472.6,280.9 V244.9 Q472.6,243.6 476.8,243.4 Q480.8,243.6 480.8,244.9 V252.4" fill="none" stroke="#2b2b2b" stroke-width="1.25"/>
<text x="0" y="0" font-size="9.2" text-anchor="middle" fill="#1e1e1e" stroke="#1e1e1e" stroke-width="0.18" transform="translate(468.8,192.5) scale(0.87,1)">Granulo</text>
<rect x="168" y="197.1" width="3.90" height="33.40" fill="#6ABEC4" opacity="1"/>
<rect x="167.30" y="221.38" width="1.1" height="1.1" fill="#6ABEC4"/>
<rect x="167.30" y="228.48" width="1.1" height="1.1" fill="#6ABEC4"/>
<rect x="171.50" y="218.75" width="1.1" height="1.1" fill="#6ABEC4"/>
<rect x="167.30" y="200.58" width="1.1" height="1.1" fill="#6ABEC4"/>
<rect x="167.30" y="229.86" width="1.1" height="1.1" fill="#6ABEC4"/>
<rect x="167.30" y="220.19" width="1.1" height="1.1" fill="#6ABEC4"/>
<rect x="167.30" y="205.53" width="1.1" height="1.1" fill="#6ABEC4"/>
<rect x="167.30" y="199.10" width="1.1" height="1.1" fill="#6ABEC4"/>
<rect x="167.30" y="203.69" width="1.1" height="1.1" fill="#6ABEC4"/>
<rect x="171.50" y="199.91" width="1.1" height="1.1" fill="#6ABEC4"/>
<rect x="171.50" y="224.94" width="1.1" height="1.1" fill="#6ABEC4"/>
<rect x="171.50" y="213.44" width="1.1" height="1.1" fill="#6ABEC4"/>
<rect x="171.50" y="197.11" width="1.1" height="1.1" fill="#6ABEC4"/>
<rect x="167.30" y="204.55" width="1.1" height="1.1" fill="#6ABEC4"/>
<rect x="171.50" y="223.44" width="1.1" height="1.1" fill="#6ABEC4"/>
<rect x="167.30" y="200.91" width="1.1" height="1.1" fill="#6ABEC4"/>
<rect x="167.30" y="225.94" width="1.1" height="1.1" fill="#6ABEC4"/>
<rect x="167.30" y="208.10" width="1.1" height="1.1" fill="#6ABEC4"/>
<rect x="171.50" y="212.21" width="1.1" height="1.1" fill="#6ABEC4"/>
<rect x="167.30" y="223.16" width="1.1" height="1.1" fill="#6ABEC4"/>
<rect x="167.30" y="204.08" width="1.1" height="1.1" fill="#6ABEC4"/>
<rect x="171.50" y="207.57" width="1.1" height="1.1" fill="#6ABEC4"/>
<rect x="171.50" y="210.85" width="1.1" height="1.1" fill="#6ABEC4"/>
<rect x="169.21" y="204.57" width="1" height="1" fill="#fff" opacity="0.35"/>
<rect x="170.34" y="217.77" width="1" height="1" fill="#fff" opacity="0.35"/>
<rect x="169.96" y="222.09" width="1" height="1" fill="#fff" opacity="0.35"/>
<rect x="169.54" y="216.63" width="1" height="1" fill="#fff" opacity="0.35"/>
<rect x="168.80" y="222.40" width="1" height="1" fill="#fff" opacity="0.35"/>
<rect x="170.63" y="224.75" width="1" height="1" fill="#fff" opacity="0.35"/>
<rect x="168.61" y="224.52" width="1" height="1" fill="#fff" opacity="0.35"/>
<rect x="168.63" y="198.74" width="1" height="1" fill="#fff" opacity="0.35"/>
<rect x="162.71" y="251.50" width="1.3" height="1.3" fill="#6ABEC4"/>
<rect x="162.84" y="242.84" width="1.3" height="1.3" fill="#6ABEC4"/>
<rect x="160.21" y="246.72" width="1.3" height="1.3" fill="#6ABEC4"/>
<rect x="162.55" y="241.13" width="1.3" height="1.3" fill="#6ABEC4"/>
<rect x="159.88" y="237.35" width="1.3" height="1.3" fill="#6ABEC4"/>
<rect x="161.31" y="235.12" width="1.3" height="1.3" fill="#6ABEC4"/>
<rect x="160.43" y="249.64" width="1.3" height="1.3" fill="#6ABEC4"/>
<rect x="162.47" y="241.20" width="1.3" height="1.3" fill="#6ABEC4"/>
<rect x="161.76" y="252.19" width="1.3" height="1.3" fill="#6ABEC4"/>
<rect x="160.28" y="240.30" width="1.3" height="1.3" fill="#6ABEC4"/>
<rect x="159.86" y="238.17" width="1.3" height="1.3" fill="#6ABEC4"/>
<rect x="161.00" y="247.49" width="1.3" height="1.3" fill="#6ABEC4"/>
<rect x="161.41" y="236.74" width="1.3" height="1.3" fill="#6ABEC4"/>
<rect x="160.05" y="232.72" width="1.3" height="1.3" fill="#6ABEC4"/>
<rect x="160.09" y="232.60" width="1.3" height="1.3" fill="#6ABEC4"/>
<rect x="160.74" y="249.15" width="1.3" height="1.3" fill="#6ABEC4"/>
<rect x="161.92" y="235.22" width="1.3" height="1.3" fill="#6ABEC4"/>
<rect x="160.13" y="245.78" width="1.3" height="1.3" fill="#6ABEC4"/>
<rect x="162.84" y="238.23" width="1.3" height="1.3" fill="#6ABEC4"/>
<rect x="162.19" y="251.82" width="1.3" height="1.3" fill="#6ABEC4"/>
<rect x="161.96" y="245.21" width="1.3" height="1.3" fill="#6ABEC4"/>
<rect x="161.76" y="247.93" width="1.3" height="1.3" fill="#6ABEC4"/>
<rect x="166.54" y="257.30" width="1.3" height="1.3" fill="#6ABEC4"/>
<rect x="165.24" y="268.75" width="1.3" height="1.3" fill="#6ABEC4"/>
<rect x="165.18" y="256.96" width="1.3" height="1.3" fill="#6ABEC4"/>
<rect x="166.63" y="265.43" width="1.3" height="1.3" fill="#6ABEC4"/>
<rect x="164.45" y="268.54" width="1.3" height="1.3" fill="#6ABEC4"/>
<rect x="165.99" y="265.39" width="1.3" height="1.3" fill="#6ABEC4"/>
<rect x="165.41" y="270.89" width="1.3" height="1.3" fill="#6ABEC4"/>
<rect x="166.35" y="271.83" width="1.3" height="1.3" fill="#6ABEC4"/>
<rect x="165.81" y="261.79" width="1.3" height="1.3" fill="#6ABEC4"/>
<rect x="166.62" y="258.41" width="1.3" height="1.3" fill="#6ABEC4"/>
<rect x="165.02" y="272.55" width="1.3" height="1.3" fill="#6ABEC4"/>
<rect x="164.93" y="272.35" width="1.3" height="1.3" fill="#6ABEC4"/>
<rect x="164.36" y="258.26" width="1.3" height="1.3" fill="#6ABEC4"/>
<rect x="164.67" y="279.63" width="1.3" height="1.3" fill="#6ABEC4"/>
<rect x="164.22" y="254.17" width="1.3" height="1.3" fill="#6ABEC4"/>
<rect x="164.10" y="272.68" width="1.3" height="1.3" fill="#6ABEC4"/>
<rect x="165.84" y="278.13" width="1.3" height="1.3" fill="#6ABEC4"/>
<rect x="166.58" y="267.29" width="1.3" height="1.3" fill="#6ABEC4"/>
<rect x="166.14" y="256.82" width="1.3" height="1.3" fill="#6ABEC4"/>
<rect x="166.25" y="266.21" width="1.3" height="1.3" fill="#6ABEC4"/>
<rect x="165.37" y="279.00" width="1.3" height="1.3" fill="#6ABEC4"/>
<rect x="166.28" y="264.94" width="1.3" height="1.3" fill="#6ABEC4"/>
<rect x="166.25" y="256.40" width="1.3" height="1.3" fill="#6ABEC4"/>
<rect x="163.93" y="269.27" width="1.3" height="1.3" fill="#6ABEC4"/>
<rect x="165.76" y="278.92" width="1.3" height="1.3" fill="#6ABEC4"/>
<rect x="165.51" y="272.39" width="1.3" height="1.3" fill="#6ABEC4"/>
<rect x="156.06" y="235.52" width="1.3" height="1.3" fill="#6ABEC4"/>
<rect x="158.76" y="235.97" width="1.3" height="1.3" fill="#6ABEC4"/>
<rect x="157.61" y="235.59" width="1.3" height="1.3" fill="#6ABEC4"/>
<rect x="211.4" y="196" width="4.30" height="40.00" fill="#DE746C" opacity="1"/>
<rect x="210.70" y="234.57" width="1.1" height="1.1" fill="#DE746C"/>
<rect x="215.30" y="217.73" width="1.1" height="1.1" fill="#DE746C"/>
<rect x="210.70" y="208.21" width="1.1" height="1.1" fill="#DE746C"/>
<rect x="210.70" y="230.53" width="1.1" height="1.1" fill="#DE746C"/>
<rect x="210.70" y="213.12" width="1.1" height="1.1" fill="#DE746C"/>
<rect x="215.30" y="219.50" width="1.1" height="1.1" fill="#DE746C"/>
<rect x="215.30" y="223.11" width="1.1" height="1.1" fill="#DE746C"/>
<rect x="215.30" y="203.47" width="1.1" height="1.1" fill="#DE746C"/>
<rect x="215.30" y="196.86" width="1.1" height="1.1" fill="#DE746C"/>
<rect x="215.30" y="219.43" width="1.1" height="1.1" fill="#DE746C"/>
<rect x="210.70" y="218.02" width="1.1" height="1.1" fill="#DE746C"/>
<rect x="215.30" y="199.76" width="1.1" height="1.1" fill="#DE746C"/>
<rect x="215.30" y="209.62" width="1.1" height="1.1" fill="#DE746C"/>
<rect x="215.30" y="200.60" width="1.1" height="1.1" fill="#DE746C"/>
<rect x="215.30" y="224.78" width="1.1" height="1.1" fill="#DE746C"/>
<rect x="215.30" y="205.90" width="1.1" height="1.1" fill="#DE746C"/>
<rect x="210.70" y="219.80" width="1.1" height="1.1" fill="#DE746C"/>
<rect x="215.30" y="235.61" width="1.1" height="1.1" fill="#DE746C"/>
<rect x="210.70" y="206.29" width="1.1" height="1.1" fill="#DE746C"/>
<rect x="210.70" y="201.40" width="1.1" height="1.1" fill="#DE746C"/>
<rect x="210.70" y="228.39" width="1.1" height="1.1" fill="#DE746C"/>
<rect x="210.70" y="199.18" width="1.1" height="1.1" fill="#DE746C"/>
<rect x="210.70" y="210.41" width="1.1" height="1.1" fill="#DE746C"/>
<rect x="210.70" y="211.97" width="1.1" height="1.1" fill="#DE746C"/>
<rect x="210.70" y="224.54" width="1.1" height="1.1" fill="#DE746C"/>
<rect x="210.70" y="208.01" width="1.1" height="1.1" fill="#DE746C"/>
<rect x="215.30" y="203.38" width="1.1" height="1.1" fill="#DE746C"/>
<rect x="210.70" y="197.73" width="1.1" height="1.1" fill="#DE746C"/>
<rect x="212.69" y="234.32" width="1" height="1" fill="#fff" opacity="0.35"/>
<rect x="212.05" y="223.41" width="1" height="1" fill="#fff" opacity="0.35"/>
<rect x="213.25" y="222.66" width="1" height="1" fill="#fff" opacity="0.35"/>
<rect x="212.34" y="235.05" width="1" height="1" fill="#fff" opacity="0.35"/>
<rect x="212.72" y="222.34" width="1" height="1" fill="#fff" opacity="0.35"/>
<rect x="212.69" y="211.83" width="1" height="1" fill="#fff" opacity="0.35"/>
<rect x="213.09" y="201.63" width="1" height="1" fill="#fff" opacity="0.35"/>
<rect x="213.24" y="209.51" width="1" height="1" fill="#fff" opacity="0.35"/>
<rect x="211.67" y="197.47" width="1" height="1" fill="#fff" opacity="0.35"/>
<rect x="211.65" y="223.32" width="1" height="1" fill="#fff" opacity="0.35"/>
<rect x="196.2" y="229.3" width="3.90" height="11.00" fill="#DE746C" opacity="1"/>
<rect x="195.50" y="235.44" width="1.1" height="1.1" fill="#DE746C"/>
<rect x="199.70" y="238.47" width="1.1" height="1.1" fill="#DE746C"/>
<rect x="199.70" y="239.11" width="1.1" height="1.1" fill="#DE746C"/>
<rect x="199.70" y="234.53" width="1.1" height="1.1" fill="#DE746C"/>
<rect x="195.50" y="235.92" width="1.1" height="1.1" fill="#DE746C"/>
<rect x="195.50" y="238.59" width="1.1" height="1.1" fill="#DE746C"/>
<rect x="195.50" y="231.17" width="1.1" height="1.1" fill="#DE746C"/>
<rect x="197.74" y="239.11" width="1" height="1" fill="#fff" opacity="0.35"/>
<rect x="198.71" y="234.56" width="1" height="1" fill="#fff" opacity="0.35"/>
<rect x="204.1" y="229.3" width="4.00" height="24.80" fill="#DE746C" opacity="1"/>
<rect x="203.40" y="242.31" width="1.1" height="1.1" fill="#DE746C"/>
<rect x="203.40" y="247.08" width="1.1" height="1.1" fill="#DE746C"/>
<rect x="207.70" y="253.59" width="1.1" height="1.1" fill="#DE746C"/>
<rect x="207.70" y="253.36" width="1.1" height="1.1" fill="#DE746C"/>
<rect x="207.70" y="236.81" width="1.1" height="1.1" fill="#DE746C"/>
<rect x="203.40" y="234.41" width="1.1" height="1.1" fill="#DE746C"/>
<rect x="203.40" y="252.84" width="1.1" height="1.1" fill="#DE746C"/>
<rect x="203.40" y="238.72" width="1.1" height="1.1" fill="#DE746C"/>
<rect x="207.70" y="240.23" width="1.1" height="1.1" fill="#DE746C"/>
<rect x="203.40" y="248.80" width="1.1" height="1.1" fill="#DE746C"/>
<rect x="203.40" y="253.12" width="1.1" height="1.1" fill="#DE746C"/>
<rect x="203.40" y="239.30" width="1.1" height="1.1" fill="#DE746C"/>
<rect x="203.40" y="229.90" width="1.1" height="1.1" fill="#DE746C"/>
<rect x="207.70" y="240.76" width="1.1" height="1.1" fill="#DE746C"/>
<rect x="203.40" y="243.73" width="1.1" height="1.1" fill="#DE746C"/>
<rect x="207.70" y="235.41" width="1.1" height="1.1" fill="#DE746C"/>
<rect x="203.40" y="234.58" width="1.1" height="1.1" fill="#DE746C"/>
<rect x="207.07" y="238.53" width="1" height="1" fill="#fff" opacity="0.35"/>
<rect x="204.47" y="251.29" width="1" height="1" fill="#fff" opacity="0.35"/>
<rect x="204.16" y="250.33" width="1" height="1" fill="#fff" opacity="0.35"/>
<rect x="206.53" y="246.93" width="1" height="1" fill="#fff" opacity="0.35"/>
<rect x="205.75" y="246.55" width="1" height="1" fill="#fff" opacity="0.35"/>
<rect x="204.56" y="249.46" width="1" height="1" fill="#fff" opacity="0.35"/>
<rect x="227.6" y="231.9" width="3.80" height="13.10" fill="#DE746C" opacity="1"/>
<rect x="231.00" y="238.97" width="1.1" height="1.1" fill="#DE746C"/>
<rect x="226.90" y="236.43" width="1.1" height="1.1" fill="#DE746C"/>
<rect x="231.00" y="234.41" width="1.1" height="1.1" fill="#DE746C"/>
<rect x="226.90" y="239.75" width="1.1" height="1.1" fill="#DE746C"/>
<rect x="231.00" y="242.54" width="1.1" height="1.1" fill="#DE746C"/>
<rect x="231.00" y="232.52" width="1.1" height="1.1" fill="#DE746C"/>
<rect x="226.90" y="238.54" width="1.1" height="1.1" fill="#DE746C"/>
<rect x="231.00" y="236.27" width="1.1" height="1.1" fill="#DE746C"/>
<rect x="231.00" y="240.58" width="1.1" height="1.1" fill="#DE746C"/>
<rect x="228.85" y="242.09" width="1" height="1" fill="#fff" opacity="0.35"/>
<rect x="229.73" y="237.95" width="1" height="1" fill="#fff" opacity="0.35"/>
<rect x="227.91" y="236.06" width="1" height="1" fill="#fff" opacity="0.35"/>
<rect x="221.33" y="241.29" width="1.3" height="1.3" fill="#DE746C"/>
<rect x="219.84" y="239.29" width="1.3" height="1.3" fill="#DE746C"/>
<rect x="222.42" y="230.39" width="1.3" height="1.3" fill="#DE746C"/>
<rect x="219.39" y="236.24" width="1.3" height="1.3" fill="#DE746C"/>
<rect x="220.19" y="243.54" width="1.3" height="1.3" fill="#DE746C"/>
<rect x="222.84" y="235.48" width="1.3" height="1.3" fill="#DE746C"/>
<rect x="222.02" y="238.46" width="1.3" height="1.3" fill="#DE746C"/>
<rect x="219.54" y="243.90" width="1.3" height="1.3" fill="#DE746C"/>
<rect x="219.55" y="229.57" width="1.3" height="1.3" fill="#DE746C"/>
<rect x="220.66" y="228.64" width="1.3" height="1.3" fill="#DE746C"/>
<rect x="220.77" y="234.94" width="1.3" height="1.3" fill="#DE746C"/>
<rect x="222.67" y="234.97" width="1.3" height="1.3" fill="#DE746C"/>
<rect x="222.25" y="240.83" width="1.3" height="1.3" fill="#DE746C"/>
<rect x="221.20" y="232.15" width="1.3" height="1.3" fill="#DE746C"/>
<rect x="220.07" y="236.21" width="1.3" height="1.3" fill="#DE746C"/>
<rect x="220.43" y="238.68" width="1.3" height="1.3" fill="#DE746C"/>
<rect x="204.91" y="254.58" width="1.3" height="1.3" fill="#DE746C"/>
<rect x="206.02" y="261.32" width="1.3" height="1.3" fill="#DE746C"/>
<rect x="201.58" y="254.71" width="1.3" height="1.3" fill="#DE746C"/>
<rect x="199.48" y="252.29" width="1.3" height="1.3" fill="#DE746C"/>
<rect x="199.96" y="255.58" width="1.3" height="1.3" fill="#DE746C"/>
<rect x="208.55" y="258.33" width="1.3" height="1.3" fill="#DE746C"/>
<rect x="209.98" y="259.72" width="1.3" height="1.3" fill="#DE746C"/>
<rect x="205.79" y="257.15" width="1.3" height="1.3" fill="#DE746C"/>
<rect x="199.49" y="255.19" width="1.3" height="1.3" fill="#DE746C"/>
<rect x="202.23" y="257.56" width="1.3" height="1.3" fill="#DE746C"/>
<rect x="200.07" y="256.77" width="1.3" height="1.3" fill="#DE746C"/>
<rect x="203.48" y="256.27" width="1.3" height="1.3" fill="#DE746C"/>
<rect x="203.80" y="252.37" width="1.3" height="1.3" fill="#DE746C"/>
<rect x="207.40" y="259.35" width="1.3" height="1.3" fill="#DE746C"/>
<rect x="205.93" y="252.51" width="1.3" height="1.3" fill="#DE746C"/>
<rect x="205.94" y="260.06" width="1.3" height="1.3" fill="#DE746C"/>
<rect x="210.20" y="258.94" width="1.3" height="1.3" fill="#DE746C"/>
<rect x="199.85" y="260.13" width="1.3" height="1.3" fill="#DE746C"/>
<rect x="217.35" y="257.92" width="1.3" height="1.3" fill="#DE746C"/>
<rect x="218.11" y="274.96" width="1.3" height="1.3" fill="#DE746C"/>
<rect x="218.04" y="257.02" width="1.3" height="1.3" fill="#DE746C"/>
<rect x="217.08" y="261.10" width="1.3" height="1.3" fill="#DE746C"/>
<rect x="216.24" y="272.95" width="1.3" height="1.3" fill="#DE746C"/>
<rect x="217.20" y="259.64" width="1.3" height="1.3" fill="#DE746C"/>
<rect x="216.98" y="278.13" width="1.3" height="1.3" fill="#DE746C"/>
<rect x="217.05" y="277.67" width="1.3" height="1.3" fill="#DE746C"/>
<rect x="217.05" y="280.11" width="1.3" height="1.3" fill="#DE746C"/>
<rect x="215.44" y="263.61" width="1.3" height="1.3" fill="#DE746C"/>
<rect x="217.01" y="271.88" width="1.3" height="1.3" fill="#DE746C"/>
<rect x="218.26" y="268.67" width="1.3" height="1.3" fill="#DE746C"/>
<rect x="224.26" y="254.60" width="1.3" height="1.3" fill="#DE746C"/>
<rect x="224.48" y="255.51" width="1.3" height="1.3" fill="#DE746C"/>
<rect x="226.14" y="246.53" width="1.3" height="1.3" fill="#DE746C"/>
<rect x="223.63" y="257.74" width="1.3" height="1.3" fill="#DE746C"/>
<rect x="222.59" y="256.62" width="1.3" height="1.3" fill="#DE746C"/>
<rect x="222.47" y="254.78" width="1.3" height="1.3" fill="#DE746C"/>
<rect x="241.1" y="251.8" width="3.90" height="11.50" fill="#8EAD28" opacity="1"/>
<rect x="240.40" y="261.00" width="1.1" height="1.1" fill="#8EAD28"/>
<rect x="240.40" y="260.23" width="1.1" height="1.1" fill="#8EAD28"/>
<rect x="244.60" y="260.37" width="1.1" height="1.1" fill="#8EAD28"/>
<rect x="240.40" y="258.87" width="1.1" height="1.1" fill="#8EAD28"/>
<rect x="240.40" y="262.78" width="1.1" height="1.1" fill="#8EAD28"/>
<rect x="244.60" y="254.64" width="1.1" height="1.1" fill="#8EAD28"/>
<rect x="240.40" y="262.75" width="1.1" height="1.1" fill="#8EAD28"/>
<rect x="240.40" y="261.04" width="1.1" height="1.1" fill="#8EAD28"/>
<rect x="243.89" y="261.51" width="1" height="1" fill="#fff" opacity="0.35"/>
<rect x="242.17" y="255.12" width="1" height="1" fill="#fff" opacity="0.35"/>
<rect x="249.1" y="254.9" width="4.00" height="29.60" fill="#8EAD28" opacity="1"/>
<rect x="252.70" y="270.53" width="1.1" height="1.1" fill="#8EAD28"/>
<rect x="248.40" y="256.45" width="1.1" height="1.1" fill="#8EAD28"/>
<rect x="248.40" y="259.73" width="1.1" height="1.1" fill="#8EAD28"/>
<rect x="248.40" y="266.66" width="1.1" height="1.1" fill="#8EAD28"/>
<rect x="248.40" y="264.56" width="1.1" height="1.1" fill="#8EAD28"/>
<rect x="248.40" y="259.51" width="1.1" height="1.1" fill="#8EAD28"/>
<rect x="248.40" y="282.45" width="1.1" height="1.1" fill="#8EAD28"/>
<rect x="248.40" y="272.08" width="1.1" height="1.1" fill="#8EAD28"/>
<rect x="252.70" y="280.16" width="1.1" height="1.1" fill="#8EAD28"/>
<rect x="248.40" y="269.92" width="1.1" height="1.1" fill="#8EAD28"/>
<rect x="248.40" y="269.32" width="1.1" height="1.1" fill="#8EAD28"/>
<rect x="248.40" y="261.32" width="1.1" height="1.1" fill="#8EAD28"/>
<rect x="248.40" y="278.89" width="1.1" height="1.1" fill="#8EAD28"/>
<rect x="248.40" y="281.61" width="1.1" height="1.1" fill="#8EAD28"/>
<rect x="252.70" y="280.57" width="1.1" height="1.1" fill="#8EAD28"/>
<rect x="248.40" y="257.79" width="1.1" height="1.1" fill="#8EAD28"/>
<rect x="252.70" y="277.79" width="1.1" height="1.1" fill="#8EAD28"/>
<rect x="248.40" y="283.84" width="1.1" height="1.1" fill="#8EAD28"/>
<rect x="252.70" y="282.16" width="1.1" height="1.1" fill="#8EAD28"/>
<rect x="252.70" y="275.80" width="1.1" height="1.1" fill="#8EAD28"/>
<rect x="251.65" y="275.16" width="1" height="1" fill="#fff" opacity="0.35"/>
<rect x="249.93" y="271.68" width="1" height="1" fill="#fff" opacity="0.35"/>
<rect x="250.73" y="262.35" width="1" height="1" fill="#fff" opacity="0.35"/>
<rect x="251.68" y="258.91" width="1" height="1" fill="#fff" opacity="0.35"/>
<rect x="249.83" y="281.22" width="1" height="1" fill="#fff" opacity="0.35"/>
<rect x="251.12" y="275.54" width="1" height="1" fill="#fff" opacity="0.35"/>
<rect x="251.44" y="258.51" width="1" height="1" fill="#fff" opacity="0.35"/>
<rect x="247.15" y="240.56" width="1.3" height="1.3" fill="#8EAD28"/>
<rect x="245.14" y="240.14" width="1.3" height="1.3" fill="#8EAD28"/>
<rect x="247.16" y="243.28" width="1.3" height="1.3" fill="#8EAD28"/>
<rect x="247.30" y="238.06" width="1.3" height="1.3" fill="#8EAD28"/>
<rect x="245.17" y="241.28" width="1.3" height="1.3" fill="#8EAD28"/>
<rect x="247.49" y="238.10" width="1.3" height="1.3" fill="#8EAD28"/>
<rect x="245.07" y="248.15" width="1.3" height="1.3" fill="#8EAD28"/>
<rect x="245.12" y="246.70" width="1.3" height="1.3" fill="#8EAD28"/>
<rect x="245.10" y="239.55" width="1.3" height="1.3" fill="#8EAD28"/>
<rect x="246.84" y="250.20" width="1.3" height="1.3" fill="#8EAD28"/>
<rect x="246.08" y="242.99" width="1.3" height="1.3" fill="#8EAD28"/>
<rect x="244.94" y="241.14" width="1.3" height="1.3" fill="#8EAD28"/>
<rect x="245.58" y="248.76" width="1.3" height="1.3" fill="#8EAD28"/>
<rect x="246.99" y="248.68" width="1.3" height="1.3" fill="#8EAD28"/>
<rect x="254.40" y="208.54" width="1.3" height="1.3" fill="#8EAD28"/>
<rect x="253.75" y="203.51" width="1.3" height="1.3" fill="#8EAD28"/>
<rect x="254.02" y="201.87" width="1.3" height="1.3" fill="#8EAD28"/>
<rect x="254.73" y="200.78" width="1.3" height="1.3" fill="#8EAD28"/>
<circle cx="270.2" cy="236.5" r="0.7" fill="#8EAD28"/><circle cx="240.4" cy="231.1" r="0.7" fill="#8EAD28"/>
<rect x="289.7" y="271.9" width="3.90" height="12.70" fill="#60A6FA" opacity="1"/>
<rect x="293.20" y="276.03" width="1.1" height="1.1" fill="#60A6FA"/>
<rect x="293.20" y="274.28" width="1.1" height="1.1" fill="#60A6FA"/>
<rect x="289.00" y="275.76" width="1.1" height="1.1" fill="#60A6FA"/>
<rect x="293.20" y="283.83" width="1.1" height="1.1" fill="#60A6FA"/>
<rect x="293.20" y="272.70" width="1.1" height="1.1" fill="#60A6FA"/>
<rect x="293.20" y="282.85" width="1.1" height="1.1" fill="#60A6FA"/>
<rect x="293.20" y="278.18" width="1.1" height="1.1" fill="#60A6FA"/>
<rect x="289.00" y="273.21" width="1.1" height="1.1" fill="#60A6FA"/>
<rect x="290.25" y="278.39" width="1" height="1" fill="#fff" opacity="0.35"/>
<rect x="292.25" y="271.98" width="1" height="1" fill="#fff" opacity="0.35"/>
<rect x="292.50" y="282.52" width="1" height="1" fill="#fff" opacity="0.35"/>
<rect x="290.38" y="265.25" width="1.3" height="1.3" fill="#60A6FA"/>
<rect x="291.02" y="266.65" width="1.3" height="1.3" fill="#60A6FA"/>
<rect x="289.60" y="261.02" width="1.3" height="1.3" fill="#60A6FA"/>
<rect x="289.82" y="261.32" width="1.3" height="1.3" fill="#60A6FA"/>
<rect x="289.73" y="259.87" width="1.3" height="1.3" fill="#60A6FA"/>
<rect x="291.84" y="259.24" width="1.3" height="1.3" fill="#60A6FA"/>
<rect x="291.96" y="267.52" width="1.3" height="1.3" fill="#60A6FA"/>
<rect x="291.12" y="264.76" width="1.3" height="1.3" fill="#60A6FA"/>
<rect x="291.21" y="257.30" width="1.3" height="1.3" fill="#60A6FA"/>
<rect x="290.11" y="262.85" width="1.3" height="1.3" fill="#60A6FA"/>
<rect x="289.40" y="266.41" width="1.3" height="1.3" fill="#60A6FA"/>
<rect x="291.74" y="259.02" width="1.3" height="1.3" fill="#60A6FA"/>
<rect x="290.96" y="262.80" width="1.3" height="1.3" fill="#60A6FA"/>
<rect x="291.98" y="269.21" width="1.3" height="1.3" fill="#60A6FA"/>
<rect x="290.63" y="254.69" width="1.3" height="1.3" fill="#60A6FA"/>
<rect x="292.34" y="266.73" width="1.3" height="1.3" fill="#60A6FA"/>
<rect x="283.44" y="258.54" width="1.3" height="1.3" fill="#60A6FA"/>
<rect x="281.63" y="257.99" width="1.3" height="1.3" fill="#60A6FA"/>
<rect x="284.33" y="254.07" width="1.3" height="1.3" fill="#60A6FA"/>
<rect x="281.96" y="254.81" width="1.3" height="1.3" fill="#60A6FA"/>
<rect x="283.34" y="258.58" width="1.3" height="1.3" fill="#60A6FA"/>
<rect x="282.71" y="255.55" width="1.3" height="1.3" fill="#60A6FA"/>
<rect x="282.52" y="253.06" width="1.3" height="1.3" fill="#60A6FA"/>
<rect x="282.28" y="251.73" width="1.3" height="1.3" fill="#60A6FA"/>
<rect x="283.60" y="259.47" width="1.3" height="1.3" fill="#60A6FA"/>
<rect x="284.16" y="258.28" width="1.3" height="1.3" fill="#60A6FA"/>
<rect x="298.99" y="268.86" width="1.3" height="1.3" fill="#60A6FA"/>
<rect x="298.33" y="268.66" width="1.3" height="1.3" fill="#60A6FA"/>
<rect x="298.86" y="281.03" width="1.3" height="1.3" fill="#60A6FA"/>
<rect x="298.51" y="260.46" width="1.3" height="1.3" fill="#60A6FA"/>
<rect x="299.85" y="272.22" width="1.3" height="1.3" fill="#60A6FA"/>
<rect x="297.92" y="264.34" width="1.3" height="1.3" fill="#60A6FA"/>
<rect x="298.87" y="269.84" width="1.3" height="1.3" fill="#60A6FA"/>
<rect x="299.48" y="249.26" width="1.3" height="1.3" fill="#60A6FA"/>
<rect x="294.60" y="197.14" width="1.3" height="1.3" fill="#60A6FA"/>
<rect x="294.39" y="201.33" width="1.3" height="1.3" fill="#60A6FA"/>
<rect x="294.60" y="205.35" width="1.3" height="1.3" fill="#60A6FA"/>
<rect x="294.87" y="197.12" width="1.3" height="1.3" fill="#60A6FA"/>
<rect x="295.68" y="198.08" width="1.3" height="1.3" fill="#60A6FA"/>
<rect x="294.37" y="197.27" width="1.3" height="1.3" fill="#60A6FA"/>
<rect x="294.23" y="201.63" width="1.3" height="1.3" fill="#60A6FA"/>
<rect x="295.72" y="199.96" width="1.3" height="1.3" fill="#60A6FA"/>
<rect x="294.20" y="199.60" width="1.3" height="1.3" fill="#60A6FA"/>
<rect x="294.92" y="197.59" width="1.3" height="1.3" fill="#60A6FA"/>
<rect x="338.6" y="245.3" width="4.30" height="29.70" fill="#BE9423" opacity="1"/>
<rect x="342.50" y="247.64" width="1.1" height="1.1" fill="#BE9423"/>
<rect x="342.50" y="246.32" width="1.1" height="1.1" fill="#BE9423"/>
<rect x="342.50" y="263.88" width="1.1" height="1.1" fill="#BE9423"/>
<rect x="337.90" y="256.33" width="1.1" height="1.1" fill="#BE9423"/>
<rect x="342.50" y="253.23" width="1.1" height="1.1" fill="#BE9423"/>
<rect x="342.50" y="250.69" width="1.1" height="1.1" fill="#BE9423"/>
<rect x="342.50" y="273.39" width="1.1" height="1.1" fill="#BE9423"/>
<rect x="337.90" y="267.84" width="1.1" height="1.1" fill="#BE9423"/>
<rect x="342.50" y="263.00" width="1.1" height="1.1" fill="#BE9423"/>
<rect x="337.90" y="267.95" width="1.1" height="1.1" fill="#BE9423"/>
<rect x="342.50" y="250.96" width="1.1" height="1.1" fill="#BE9423"/>
<rect x="337.90" y="265.26" width="1.1" height="1.1" fill="#BE9423"/>
<rect x="337.90" y="264.27" width="1.1" height="1.1" fill="#BE9423"/>
<rect x="342.50" y="261.78" width="1.1" height="1.1" fill="#BE9423"/>
<rect x="342.50" y="252.15" width="1.1" height="1.1" fill="#BE9423"/>
<rect x="342.50" y="245.68" width="1.1" height="1.1" fill="#BE9423"/>
<rect x="342.50" y="265.81" width="1.1" height="1.1" fill="#BE9423"/>
<rect x="342.50" y="268.54" width="1.1" height="1.1" fill="#BE9423"/>
<rect x="337.90" y="254.26" width="1.1" height="1.1" fill="#BE9423"/>
<rect x="337.90" y="262.31" width="1.1" height="1.1" fill="#BE9423"/>
<rect x="340.99" y="254.17" width="1" height="1" fill="#fff" opacity="0.35"/>
<rect x="341.11" y="255.69" width="1" height="1" fill="#fff" opacity="0.35"/>
<rect x="341.29" y="262.32" width="1" height="1" fill="#fff" opacity="0.35"/>
<rect x="339.85" y="274.57" width="1" height="1" fill="#fff" opacity="0.35"/>
<rect x="338.63" y="274.60" width="1" height="1" fill="#fff" opacity="0.35"/>
<rect x="338.70" y="271.36" width="1" height="1" fill="#fff" opacity="0.35"/>
<rect x="339.88" y="261.49" width="1" height="1" fill="#fff" opacity="0.35"/>
<rect x="341.31" y="278.45" width="1.3" height="1.3" fill="#BE9423"/>
<rect x="338.79" y="284.54" width="1.3" height="1.3" fill="#BE9423"/>
<rect x="340.33" y="284.17" width="1.3" height="1.3" fill="#BE9423"/>
<rect x="340.05" y="274.83" width="1.3" height="1.3" fill="#BE9423"/>
<rect x="341.32" y="277.19" width="1.3" height="1.3" fill="#BE9423"/>
<rect x="339.97" y="274.36" width="1.3" height="1.3" fill="#BE9423"/>
<rect x="339.02" y="283.00" width="1.3" height="1.3" fill="#BE9423"/>
<rect x="341.29" y="282.62" width="1.3" height="1.3" fill="#BE9423"/>
<rect x="339.84" y="283.88" width="1.3" height="1.3" fill="#BE9423"/>
<rect x="340.86" y="277.03" width="1.3" height="1.3" fill="#BE9423"/>
<rect x="340.26" y="282.12" width="1.3" height="1.3" fill="#BE9423"/>
<rect x="341.13" y="276.92" width="1.3" height="1.3" fill="#BE9423"/>
<rect x="339.25" y="278.81" width="1.3" height="1.3" fill="#BE9423"/>
<rect x="338.28" y="278.88" width="1.3" height="1.3" fill="#BE9423"/>
<rect x="341.13" y="281.86" width="1.3" height="1.3" fill="#BE9423"/>
<rect x="338.63" y="283.86" width="1.3" height="1.3" fill="#BE9423"/>
<rect x="346.1" y="247.7" width="4.00" height="12.90" fill="#BE9423" opacity="1"/>
<rect x="345.40" y="249.21" width="1.1" height="1.1" fill="#BE9423"/>
<rect x="349.70" y="260.13" width="1.1" height="1.1" fill="#BE9423"/>
<rect x="349.70" y="250.95" width="1.1" height="1.1" fill="#BE9423"/>
<rect x="349.70" y="251.18" width="1.1" height="1.1" fill="#BE9423"/>
<rect x="349.70" y="259.80" width="1.1" height="1.1" fill="#BE9423"/>
<rect x="349.70" y="257.57" width="1.1" height="1.1" fill="#BE9423"/>
<rect x="345.40" y="250.99" width="1.1" height="1.1" fill="#BE9423"/>
<rect x="345.40" y="250.57" width="1.1" height="1.1" fill="#BE9423"/>
<rect x="345.40" y="251.84" width="1.1" height="1.1" fill="#BE9423"/>
<rect x="346.89" y="257.99" width="1" height="1" fill="#fff" opacity="0.35"/>
<rect x="348.29" y="252.11" width="1" height="1" fill="#fff" opacity="0.35"/>
<rect x="346.95" y="256.05" width="1" height="1" fill="#fff" opacity="0.35"/>
<rect x="343.90" y="244.70" width="1.3" height="1.3" fill="#BE9423"/>
<rect x="342.40" y="236.46" width="1.3" height="1.3" fill="#BE9423"/>
<rect x="344.40" y="236.14" width="1.3" height="1.3" fill="#BE9423"/>
<rect x="343.88" y="237.33" width="1.3" height="1.3" fill="#BE9423"/>
<rect x="342.20" y="244.29" width="1.3" height="1.3" fill="#BE9423"/>
<rect x="343.85" y="236.48" width="1.3" height="1.3" fill="#BE9423"/>
<rect x="343.92" y="242.84" width="1.3" height="1.3" fill="#BE9423"/>
<rect x="342.02" y="237.24" width="1.3" height="1.3" fill="#BE9423"/>
<rect x="344.34" y="235.02" width="1.3" height="1.3" fill="#BE9423"/>
<rect x="342.58" y="238.33" width="1.3" height="1.3" fill="#BE9423"/>
<rect x="345.50" y="234.77" width="1.3" height="1.3" fill="#BE9423"/>
<rect x="342.88" y="241.01" width="1.3" height="1.3" fill="#BE9423"/>
<rect x="342.79" y="234.82" width="1.3" height="1.3" fill="#BE9423"/>
<rect x="342.84" y="234.11" width="1.3" height="1.3" fill="#BE9423"/>
<rect x="343.94" y="233.18" width="1.3" height="1.3" fill="#BE9423"/>
<rect x="344.57" y="238.27" width="1.3" height="1.3" fill="#BE9423"/>
<rect x="345.29" y="236.58" width="1.3" height="1.3" fill="#BE9423"/>
<rect x="342.08" y="240.66" width="1.3" height="1.3" fill="#BE9423"/>
<rect x="342.77" y="238.60" width="1.3" height="1.3" fill="#BE9423"/>
<rect x="343.75" y="231.98" width="1.3" height="1.3" fill="#BE9423"/>
<rect x="343.22" y="232.55" width="1.3" height="1.3" fill="#BE9423"/>
<rect x="343.25" y="238.15" width="1.3" height="1.3" fill="#BE9423"/>
<rect x="343.90" y="243.78" width="1.3" height="1.3" fill="#BE9423"/>
<rect x="345.66" y="240.19" width="1.3" height="1.3" fill="#BE9423"/>
<rect x="324.93" y="253.13" width="1.3" height="1.3" fill="#BE9423"/>
<rect x="324.23" y="254.99" width="1.3" height="1.3" fill="#BE9423"/>
<rect x="325.26" y="255.36" width="1.3" height="1.3" fill="#BE9423"/>
<rect x="322.75" y="257.09" width="1.3" height="1.3" fill="#BE9423"/>
<rect x="326.28" y="253.84" width="1.3" height="1.3" fill="#BE9423"/>
<rect x="326.22" y="251.59" width="1.3" height="1.3" fill="#BE9423"/>
<rect x="324.81" y="257.21" width="1.3" height="1.3" fill="#BE9423"/>
<rect x="323.35" y="257.38" width="1.3" height="1.3" fill="#BE9423"/>
<rect x="334.26" y="279.62" width="1.3" height="1.3" fill="#BE9423"/>
<rect x="332.73" y="282.94" width="1.3" height="1.3" fill="#BE9423"/>
<rect x="332.02" y="280.52" width="1.3" height="1.3" fill="#BE9423"/>
<rect x="332.36" y="273.15" width="1.3" height="1.3" fill="#BE9423"/>
<rect x="331.92" y="278.05" width="1.3" height="1.3" fill="#BE9423"/>
<rect x="333.28" y="275.69" width="1.3" height="1.3" fill="#BE9423"/>
<rect x="347.74" y="242.18" width="1.3" height="1.3" fill="#BE9423"/>
<rect x="350.05" y="243.73" width="1.3" height="1.3" fill="#BE9423"/>
<rect x="350.48" y="247.79" width="1.3" height="1.3" fill="#BE9423"/>
<rect x="349.66" y="243.51" width="1.3" height="1.3" fill="#BE9423"/>
<rect x="349.06" y="247.87" width="1.3" height="1.3" fill="#BE9423"/>
<rect x="351.50" y="242.85" width="1.3" height="1.3" fill="#BE9423"/>
<rect x="335.63" y="202.17" width="1.3" height="1.3" fill="#BE9423"/>
<rect x="335.90" y="203.68" width="1.3" height="1.3" fill="#BE9423"/>
<rect x="381.2" y="246" width="4.40" height="42.90" fill="#6CBE6C" opacity="1"/>
<rect x="380.50" y="254.07" width="1.1" height="1.1" fill="#6CBE6C"/>
<rect x="380.50" y="287.04" width="1.1" height="1.1" fill="#6CBE6C"/>
<rect x="380.50" y="268.67" width="1.1" height="1.1" fill="#6CBE6C"/>
<rect x="380.50" y="271.99" width="1.1" height="1.1" fill="#6CBE6C"/>
<rect x="385.20" y="268.60" width="1.1" height="1.1" fill="#6CBE6C"/>
<rect x="385.20" y="264.81" width="1.1" height="1.1" fill="#6CBE6C"/>
<rect x="380.50" y="257.81" width="1.1" height="1.1" fill="#6CBE6C"/>
<rect x="385.20" y="263.61" width="1.1" height="1.1" fill="#6CBE6C"/>
<rect x="385.20" y="268.66" width="1.1" height="1.1" fill="#6CBE6C"/>
<rect x="380.50" y="251.86" width="1.1" height="1.1" fill="#6CBE6C"/>
<rect x="380.50" y="277.74" width="1.1" height="1.1" fill="#6CBE6C"/>
<rect x="380.50" y="256.43" width="1.1" height="1.1" fill="#6CBE6C"/>
<rect x="385.20" y="284.51" width="1.1" height="1.1" fill="#6CBE6C"/>
<rect x="385.20" y="251.63" width="1.1" height="1.1" fill="#6CBE6C"/>
<rect x="380.50" y="261.52" width="1.1" height="1.1" fill="#6CBE6C"/>
<rect x="380.50" y="264.65" width="1.1" height="1.1" fill="#6CBE6C"/>
<rect x="380.50" y="267.71" width="1.1" height="1.1" fill="#6CBE6C"/>
<rect x="380.50" y="267.38" width="1.1" height="1.1" fill="#6CBE6C"/>
<rect x="380.50" y="263.38" width="1.1" height="1.1" fill="#6CBE6C"/>
<rect x="385.20" y="267.15" width="1.1" height="1.1" fill="#6CBE6C"/>
<rect x="385.20" y="253.51" width="1.1" height="1.1" fill="#6CBE6C"/>
<rect x="380.50" y="280.41" width="1.1" height="1.1" fill="#6CBE6C"/>
<rect x="385.20" y="267.60" width="1.1" height="1.1" fill="#6CBE6C"/>
<rect x="380.50" y="257.93" width="1.1" height="1.1" fill="#6CBE6C"/>
<rect x="385.20" y="256.26" width="1.1" height="1.1" fill="#6CBE6C"/>
<rect x="385.20" y="285.79" width="1.1" height="1.1" fill="#6CBE6C"/>
<rect x="380.50" y="270.45" width="1.1" height="1.1" fill="#6CBE6C"/>
<rect x="380.50" y="288.42" width="1.1" height="1.1" fill="#6CBE6C"/>
<rect x="380.50" y="251.90" width="1.1" height="1.1" fill="#6CBE6C"/>
<rect x="385.20" y="260.09" width="1.1" height="1.1" fill="#6CBE6C"/>
<rect x="381.36" y="255.80" width="1" height="1" fill="#fff" opacity="0.35"/>
<rect x="381.51" y="253.78" width="1" height="1" fill="#fff" opacity="0.35"/>
<rect x="384.16" y="266.49" width="1" height="1" fill="#fff" opacity="0.35"/>
<rect x="384.18" y="274.16" width="1" height="1" fill="#fff" opacity="0.35"/>
<rect x="382.59" y="255.05" width="1" height="1" fill="#fff" opacity="0.35"/>
<rect x="383.35" y="278.20" width="1" height="1" fill="#fff" opacity="0.35"/>
<rect x="383.52" y="252.14" width="1" height="1" fill="#fff" opacity="0.35"/>
<rect x="382.80" y="265.90" width="1" height="1" fill="#fff" opacity="0.35"/>
<rect x="383.09" y="247.82" width="1" height="1" fill="#fff" opacity="0.35"/>
<rect x="382.34" y="254.97" width="1" height="1" fill="#fff" opacity="0.35"/>
<rect x="391.46" y="255.22" width="1.3" height="1.3" fill="#6CBE6C"/>
<rect x="390.07" y="247.60" width="1.3" height="1.3" fill="#6CBE6C"/>
<rect x="390.99" y="250.30" width="1.3" height="1.3" fill="#6CBE6C"/>
<rect x="390.31" y="257.85" width="1.3" height="1.3" fill="#6CBE6C"/>
<rect x="390.49" y="247.99" width="1.3" height="1.3" fill="#6CBE6C"/>
<rect x="390.80" y="246.74" width="1.3" height="1.3" fill="#6CBE6C"/>
<rect x="389.56" y="246.24" width="1.3" height="1.3" fill="#6CBE6C"/>
<rect x="390.48" y="251.37" width="1.3" height="1.3" fill="#6CBE6C"/>
<rect x="388.91" y="250.24" width="1.3" height="1.3" fill="#6CBE6C"/>
<rect x="390.63" y="246.98" width="1.3" height="1.3" fill="#6CBE6C"/>
<rect x="389.47" y="252.59" width="1.3" height="1.3" fill="#6CBE6C"/>
<rect x="390.30" y="247.98" width="1.3" height="1.3" fill="#6CBE6C"/>
<rect x="389.53" y="249.84" width="1.3" height="1.3" fill="#6CBE6C"/>
<rect x="390.58" y="251.61" width="1.3" height="1.3" fill="#6CBE6C"/>
<rect x="389.72" y="247.56" width="1.3" height="1.3" fill="#6CBE6C"/>
<rect x="390.24" y="248.32" width="1.3" height="1.3" fill="#6CBE6C"/>
<rect x="385.71" y="235.72" width="1.3" height="1.3" fill="#6CBE6C"/>
<rect x="387.05" y="236.86" width="1.3" height="1.3" fill="#6CBE6C"/>
<rect x="385.50" y="242.45" width="1.3" height="1.3" fill="#6CBE6C"/>
<rect x="387.96" y="242.09" width="1.3" height="1.3" fill="#6CBE6C"/>
<rect x="426.5" y="277" width="3.80" height="10.80" fill="#B07CFA" opacity="1"/>
<rect x="425.80" y="286.83" width="1.1" height="1.1" fill="#B07CFA"/>
<rect x="425.80" y="286.03" width="1.1" height="1.1" fill="#B07CFA"/>
<rect x="429.90" y="281.84" width="1.1" height="1.1" fill="#B07CFA"/>
<rect x="425.80" y="281.80" width="1.1" height="1.1" fill="#B07CFA"/>
<rect x="429.90" y="279.52" width="1.1" height="1.1" fill="#B07CFA"/>
<rect x="429.90" y="278.24" width="1.1" height="1.1" fill="#B07CFA"/>
<rect x="425.80" y="286.88" width="1.1" height="1.1" fill="#B07CFA"/>
<rect x="427.10" y="281.59" width="1" height="1" fill="#fff" opacity="0.35"/>
<rect x="427.75" y="284.83" width="1" height="1" fill="#fff" opacity="0.35"/>
<rect x="426.5" y="277" width="3.8" height="10.8" rx="1.5" fill="#B07CFA"/>
<rect x="427.72" y="270.63" width="1.3" height="1.3" fill="#B07CFA"/>
<rect x="428.25" y="270.00" width="1.3" height="1.3" fill="#B07CFA"/>
<rect x="427.05" y="268.14" width="1.3" height="1.3" fill="#B07CFA"/>
<rect x="426.86" y="260.39" width="1.3" height="1.3" fill="#B07CFA"/>
<rect x="419.61" y="268.28" width="1.3" height="1.3" fill="#B07CFA"/>
<rect x="420.35" y="265.93" width="1.3" height="1.3" fill="#B07CFA"/>
<rect x="419.51" y="259.26" width="1.3" height="1.3" fill="#B07CFA"/>
<rect x="420.19" y="256.98" width="1.3" height="1.3" fill="#B07CFA"/>
<rect x="482.8" y="232" width="3.80" height="11.30" fill="#E060C8" opacity="1"/>
<rect x="482.10" y="238.91" width="1.1" height="1.1" fill="#E060C8"/>
<rect x="486.20" y="240.23" width="1.1" height="1.1" fill="#E060C8"/>
<rect x="482.10" y="242.93" width="1.1" height="1.1" fill="#E060C8"/>
<rect x="482.10" y="235.70" width="1.1" height="1.1" fill="#E060C8"/>
<rect x="486.20" y="233.25" width="1.1" height="1.1" fill="#E060C8"/>
<rect x="482.10" y="242.58" width="1.1" height="1.1" fill="#E060C8"/>
<rect x="486.20" y="239.21" width="1.1" height="1.1" fill="#E060C8"/>
<rect x="484.05" y="241.53" width="1" height="1" fill="#fff" opacity="0.35"/>
<rect x="483.37" y="235.64" width="1" height="1" fill="#fff" opacity="0.35"/>
<rect x="468.88" y="214.96" width="1.3" height="1.3" fill="#E060C8"/>
<rect x="467.45" y="228.74" width="1.3" height="1.3" fill="#E060C8"/>
<rect x="467.68" y="226.63" width="1.3" height="1.3" fill="#E060C8"/>
<rect x="468.52" y="212.20" width="1.3" height="1.3" fill="#E060C8"/>
<rect x="468.60" y="207.44" width="1.3" height="1.3" fill="#E060C8"/>
<rect x="468.55" y="204.94" width="1.3" height="1.3" fill="#E060C8"/>
<rect x="468.37" y="216.56" width="1.3" height="1.3" fill="#E060C8"/>
<rect x="468.04" y="225.52" width="1.3" height="1.3" fill="#E060C8"/>
<rect x="468.60" y="203.73" width="1.3" height="1.3" fill="#E060C8"/>
<rect x="468.79" y="207.80" width="1.3" height="1.3" fill="#E060C8"/>
<rect x="468.86" y="228.75" width="1.3" height="1.3" fill="#E060C8"/>
<rect x="467.46" y="209.67" width="1.3" height="1.3" fill="#E060C8"/>
<rect x="467.25" y="223.97" width="1.3" height="1.3" fill="#E060C8"/>
<rect x="468.44" y="203.82" width="1.3" height="1.3" fill="#E060C8"/>
<rect x="461.82" y="240.02" width="1.3" height="1.3" fill="#E060C8"/>
<rect x="458.98" y="254.91" width="1.3" height="1.3" fill="#E060C8"/>
<rect x="461.45" y="235.31" width="1.3" height="1.3" fill="#E060C8"/>
<rect x="461.80" y="255.32" width="1.3" height="1.3" fill="#E060C8"/>
<rect x="461.43" y="244.15" width="1.3" height="1.3" fill="#E060C8"/>
<rect x="464.14" y="260.78" width="1.3" height="1.3" fill="#E060C8"/>
<rect x="464.26" y="281.97" width="1.3" height="1.3" fill="#E060C8"/>
<rect x="464.57" y="263.98" width="1.3" height="1.3" fill="#E060C8"/>
<rect x="464.33" y="276.04" width="1.3" height="1.3" fill="#E060C8"/>
<rect x="463.12" y="281.40" width="1.3" height="1.3" fill="#E060C8"/>
<rect x="462.88" y="260.08" width="1.3" height="1.3" fill="#E060C8"/>
<rect x="471.39" y="263.82" width="1.3" height="1.3" fill="#E060C8"/>
<rect x="472.15" y="283.77" width="1.3" height="1.3" fill="#E060C8"/>
<rect x="472.71" y="275.63" width="1.3" height="1.3" fill="#E060C8"/>
<rect x="472.34" y="271.92" width="1.3" height="1.3" fill="#E060C8"/>
<rect x="470.79" y="273.90" width="1.3" height="1.3" fill="#E060C8"/>
<rect x="472.06" y="270.34" width="1.3" height="1.3" fill="#E060C8"/>
<rect x="472.08" y="244.29" width="1.3" height="1.3" fill="#E060C8"/>
<rect x="472.07" y="278.85" width="1.3" height="1.3" fill="#E060C8"/>
<rect x="451.38" y="232.38" width="1.3" height="1.3" fill="#E060C8"/>
<rect x="453.75" y="228.89" width="1.3" height="1.3" fill="#E060C8"/>
<rect x="452.62" y="231.70" width="1.3" height="1.3" fill="#E060C8"/>
<rect x="453.57" y="230.99" width="1.3" height="1.3" fill="#E060C8"/>
<rect x="481.70" y="250.88" width="1.3" height="1.3" fill="#E060C8"/>
<rect x="482.12" y="253.19" width="1.3" height="1.3" fill="#E060C8"/>
<rect x="480.34" y="253.25" width="1.3" height="1.3" fill="#E060C8"/>
<path d="M55.5,178 V213.6 M31.474999999999998,218.6 V216.6 Q31.784999999999997,215.2 36.9,214.79999999999998 Q47.75,213.79999999999998 55.5,213.6 Q63.25,213.79999999999998 74.1,214.79999999999998 Q79.215,215.2 79.525,217.1 V221.1 M43.1,214.5 V235.6 M36.9,238.6 V237.1 Q36.9,235.79999999999998 43.1,235.6 Q49.3,235.79999999999998 49.3,237.1 V265.6 M67.9,214.5 V226.4 M61.39,269.6 V227.9 Q61.39,226.6 67.9,226.4 Q74.1,226.6 74.1,227.9 V235.4" fill="none" stroke="#1e1e1e" stroke-width="1.5"/>
<rect x="52.40" y="177.40" width="6.30" height="1.45" fill="#6ABEC4"/>
<rect x="52.40" y="178.55" width="6.30" height="1.45" fill="#6ABEC4"/>
<rect x="52.40" y="179.70" width="6.30" height="1.45" fill="#6ABEC4"/>
<rect x="52.40" y="180.85" width="6.30" height="1.45" fill="#6ABEC4"/>
<rect x="52.40" y="182.00" width="6.30" height="1.45" fill="#6ABEC4"/>
<rect x="52.40" y="183.15" width="6.30" height="1.45" fill="#6ABEC4"/>
<rect x="52.40" y="184.30" width="6.30" height="1.45" fill="#6ABEC4"/>
<rect x="52.40" y="185.45" width="6.30" height="1.45" fill="#6ABEC4"/>
<rect x="52.40" y="186.60" width="6.30" height="1.45" fill="#6ABEC4"/>
<rect x="52.40" y="187.75" width="6.30" height="1.45" fill="#6ABEC4"/>
<rect x="52.40" y="188.90" width="6.30" height="1.45" fill="#6ABEC4"/>
<rect x="52.40" y="190.05" width="6.30" height="1.45" fill="#6ABEC4"/>
<rect x="52.40" y="191.20" width="6.30" height="1.45" fill="#6ABEC4"/>
<rect x="52.40" y="192.35" width="6.30" height="1.45" fill="#6ABEC4"/>
<rect x="52.40" y="193.50" width="6.30" height="1.45" fill="#6ABEC4"/>
<rect x="52.40" y="194.65" width="6.30" height="1.35" fill="#6ABEC4"/>
<rect x="52.40" y="195.80" width="6.30" height="0.20" fill="#6ABEC4"/>
<rect x="52.40" y="177.40" width="1.30" height="1.30" fill="#6ABEC4"/>
<rect x="53.55" y="177.40" width="1.30" height="1.30" fill="#6ABEC4"/>
<rect x="54.70" y="177.40" width="1.30" height="1.30" fill="#6ABEC4"/>
<rect x="55.85" y="177.40" width="1.30" height="1.30" fill="#6ABEC4"/>
<rect x="57.00" y="177.40" width="1.30" height="1.30" fill="#6ABEC4"/>
<rect x="58.15" y="177.40" width="0.70" height="1.30" fill="#6ABEC4"/>
<rect x="52.40" y="178.55" width="1.30" height="1.30" fill="#6ABEC4"/>
<rect x="53.55" y="178.55" width="1.30" height="1.30" fill="#6ABEC4"/>
<rect x="54.70" y="178.55" width="1.30" height="1.30" fill="#6ABEC4"/>
<rect x="55.85" y="178.55" width="1.30" height="1.30" fill="#6ABEC4"/>
<rect x="57.00" y="178.55" width="1.30" height="1.30" fill="#6ABEC4"/>
<rect x="58.15" y="178.55" width="0.70" height="1.30" fill="#6ABEC4"/>
<rect x="52.40" y="179.70" width="1.30" height="1.30" fill="#6ABEC4"/>
<rect x="53.55" y="179.70" width="1.30" height="1.30" fill="#6ABEC4"/>
<rect x="54.70" y="179.70" width="1.30" height="1.30" fill="#6ABEC4"/>
<rect x="55.85" y="179.70" width="1.30" height="1.30" fill="#6ABEC4"/>
<rect x="57.00" y="179.70" width="1.30" height="1.30" fill="#6ABEC4"/>
<rect x="58.15" y="179.70" width="0.70" height="1.30" fill="#6ABEC4"/>
<rect x="52.40" y="180.85" width="1.30" height="1.30" fill="#6ABEC4"/>
<rect x="53.55" y="180.85" width="1.30" height="1.30" fill="#6ABEC4"/>
<rect x="54.70" y="180.85" width="1.30" height="1.30" fill="#6ABEC4"/>
<rect x="55.85" y="180.85" width="1.30" height="1.30" fill="#6ABEC4"/>
<rect x="57.00" y="180.85" width="1.30" height="1.30" fill="#6ABEC4"/>
<rect x="58.15" y="180.85" width="0.70" height="1.30" fill="#6ABEC4"/>
<rect x="52.40" y="182.00" width="1.30" height="1.30" fill="#6ABEC4"/>
<rect x="53.55" y="182.00" width="1.30" height="1.30" fill="#6ABEC4"/>
<rect x="54.70" y="182.00" width="1.30" height="1.30" fill="#6ABEC4"/>
<rect x="55.85" y="182.00" width="1.30" height="1.30" fill="#6ABEC4"/>
<rect x="57.00" y="182.00" width="1.30" height="1.30" fill="#6ABEC4"/>
<rect x="58.15" y="182.00" width="0.70" height="1.30" fill="#6ABEC4"/>
<rect x="52.40" y="183.15" width="1.30" height="1.30" fill="#6ABEC4"/>
<rect x="53.55" y="183.15" width="1.30" height="1.30" fill="#6ABEC4"/>
<rect x="54.70" y="183.15" width="1.30" height="1.30" fill="#6ABEC4"/>
<rect x="55.85" y="183.15" width="1.30" height="1.30" fill="#6ABEC4"/>
<rect x="57.00" y="183.15" width="1.30" height="1.30" fill="#6ABEC4"/>
<rect x="58.15" y="183.15" width="0.70" height="1.30" fill="#6ABEC4"/>
<rect x="52.40" y="184.30" width="1.30" height="1.30" fill="#6ABEC4"/>
<rect x="53.55" y="184.30" width="1.30" height="1.30" fill="#6ABEC4"/>
<rect x="54.70" y="184.30" width="1.30" height="1.30" fill="#6ABEC4"/>
<rect x="55.85" y="184.30" width="1.30" height="1.30" fill="#6ABEC4"/>
<rect x="57.00" y="184.30" width="1.30" height="1.30" fill="#DE746C"/>
<rect x="58.15" y="184.30" width="0.70" height="1.30" fill="#6ABEC4"/>
<rect x="52.40" y="185.45" width="1.30" height="1.30" fill="#6ABEC4"/>
<rect x="53.55" y="185.45" width="1.30" height="1.30" fill="#6ABEC4"/>
<rect x="54.70" y="185.45" width="1.30" height="1.30" fill="#6ABEC4"/>
<rect x="55.85" y="185.45" width="1.30" height="1.30" fill="#6ABEC4"/>
<rect x="57.00" y="185.45" width="1.30" height="1.30" fill="#6ABEC4"/>
<rect x="58.15" y="185.45" width="0.70" height="1.30" fill="#6ABEC4"/>
<rect x="52.40" y="186.60" width="1.30" height="1.30" fill="#6ABEC4"/>
<rect x="53.55" y="186.60" width="1.30" height="1.30" fill="#6ABEC4"/>
<rect x="54.70" y="186.60" width="1.30" height="1.30" fill="#6ABEC4"/>
<rect x="55.85" y="186.60" width="1.30" height="1.30" fill="#6ABEC4"/>
<rect x="57.00" y="186.60" width="1.30" height="1.30" fill="#6ABEC4"/>
<rect x="58.15" y="186.60" width="0.70" height="1.30" fill="#6ABEC4"/>
<rect x="52.40" y="187.75" width="1.30" height="1.30" fill="#6ABEC4"/>
<rect x="53.55" y="187.75" width="1.30" height="1.30" fill="#6ABEC4"/>
<rect x="54.70" y="187.75" width="1.30" height="1.30" fill="#DE746C"/>
<rect x="55.85" y="187.75" width="1.30" height="1.30" fill="#6ABEC4"/>
<rect x="57.00" y="187.75" width="1.30" height="1.30" fill="#6ABEC4"/>
<rect x="58.15" y="187.75" width="0.70" height="1.30" fill="#6ABEC4"/>
<rect x="52.40" y="188.90" width="1.30" height="1.30" fill="#6ABEC4"/>
<rect x="53.55" y="188.90" width="1.30" height="1.30" fill="#6ABEC4"/>
<rect x="54.70" y="188.90" width="1.30" height="1.30" fill="#6ABEC4"/>
<rect x="55.85" y="188.90" width="1.30" height="1.30" fill="#6ABEC4"/>
<rect x="57.00" y="188.90" width="1.30" height="1.30" fill="#6ABEC4"/>
<rect x="58.15" y="188.90" width="0.70" height="1.30" fill="#DE746C"/>
<rect x="52.40" y="190.05" width="1.30" height="1.30" fill="#6ABEC4"/>
<rect x="53.55" y="190.05" width="1.30" height="1.30" fill="#6ABEC4"/>
<rect x="54.70" y="190.05" width="1.30" height="1.30" fill="#6ABEC4"/>
<rect x="55.85" y="190.05" width="1.30" height="1.30" fill="#DE746C"/>
<rect x="57.00" y="190.05" width="1.30" height="1.30" fill="#6ABEC4"/>
<rect x="58.15" y="190.05" width="0.70" height="1.30" fill="#6ABEC4"/>
<rect x="52.40" y="191.20" width="1.30" height="1.30" fill="#6ABEC4"/>
<rect x="53.55" y="191.20" width="1.30" height="1.30" fill="#DE746C"/>
<rect x="54.70" y="191.20" width="1.30" height="1.30" fill="#6ABEC4"/>
<rect x="55.85" y="191.20" width="1.30" height="1.30" fill="#6ABEC4"/>
<rect x="57.00" y="191.20" width="1.30" height="1.30" fill="#6ABEC4"/>
<rect x="58.15" y="191.20" width="0.70" height="1.30" fill="#6ABEC4"/>
<rect x="52.40" y="192.35" width="1.30" height="1.30" fill="#6ABEC4"/>
<rect x="53.55" y="192.35" width="1.30" height="1.30" fill="#6ABEC4"/>
<rect x="54.70" y="192.35" width="1.30" height="1.30" fill="#6ABEC4"/>
<rect x="55.85" y="192.35" width="1.30" height="1.30" fill="#6ABEC4"/>
<rect x="57.00" y="192.35" width="1.30" height="1.30" fill="#6ABEC4"/>
<rect x="58.15" y="192.35" width="0.70" height="1.30" fill="#6ABEC4"/>
<rect x="52.40" y="193.50" width="1.30" height="1.30" fill="#DE746C"/>
<rect x="53.55" y="193.50" width="1.30" height="1.30" fill="#6ABEC4"/>
<rect x="54.70" y="193.50" width="1.30" height="1.30" fill="#6ABEC4"/>
<rect x="55.85" y="193.50" width="1.30" height="1.30" fill="#6ABEC4"/>
<rect x="57.00" y="193.50" width="1.30" height="1.30" fill="#6ABEC4"/>
<rect x="58.15" y="193.50" width="0.70" height="1.30" fill="#DE746C"/>
<rect x="52.40" y="194.65" width="1.30" height="1.30" fill="#6ABEC4"/>
<rect x="53.55" y="194.65" width="1.30" height="1.30" fill="#6ABEC4"/>
<rect x="54.70" y="194.65" width="1.30" height="1.30" fill="#DE746C"/>
<rect x="55.85" y="194.65" width="1.30" height="1.30" fill="#6ABEC4"/>
<rect x="57.00" y="194.65" width="1.30" height="1.30" fill="#6ABEC4"/>
<rect x="58.15" y="194.65" width="0.70" height="1.30" fill="#6ABEC4"/>
<rect x="52.40" y="195.80" width="1.30" height="0.35" fill="#DE746C"/>
<rect x="53.55" y="195.80" width="1.30" height="0.35" fill="#6ABEC4"/>
<rect x="54.70" y="195.80" width="1.30" height="0.35" fill="#6ABEC4"/>
<rect x="55.85" y="195.80" width="1.30" height="0.35" fill="#6ABEC4"/>
<rect x="57.00" y="195.80" width="1.30" height="0.35" fill="#6ABEC4"/>
<rect x="58.15" y="195.80" width="0.70" height="0.35" fill="#DE746C"/>
<rect x="58.20" y="184.65" width="1.1" height="1.1" fill="#6ABEC4"/>
<rect x="51.80" y="191.54" width="1.1" height="1.1" fill="#6ABEC4"/>
<rect x="58.20" y="186.16" width="1.1" height="1.1" fill="#6ABEC4"/>
<rect x="58.20" y="193.34" width="1.1" height="1.1" fill="#6ABEC4"/>
<rect x="58.20" y="178.15" width="1.1" height="1.1" fill="#6ABEC4"/>
<rect x="58.20" y="195.02" width="1.1" height="1.1" fill="#6ABEC4"/>
<rect x="51.80" y="180.86" width="1.1" height="1.1" fill="#6ABEC4"/>
<rect x="58.20" y="193.28" width="1.1" height="1.1" fill="#6ABEC4"/>
<rect x="51.80" y="193.54" width="1.1" height="1.1" fill="#6ABEC4"/>
<rect x="52.40" y="196.00" width="6.30" height="1.45" fill="#DE746C"/>
<rect x="52.40" y="197.15" width="6.30" height="1.45" fill="#DE746C"/>
<rect x="52.40" y="198.30" width="6.30" height="1.45" fill="#DE746C"/>
<rect x="52.40" y="199.45" width="6.30" height="1.45" fill="#DE746C"/>
<rect x="52.40" y="200.60" width="6.30" height="1.45" fill="#DE746C"/>
<rect x="52.40" y="201.75" width="6.30" height="1.45" fill="#DE746C"/>
<rect x="52.40" y="202.90" width="6.30" height="1.45" fill="#DE746C"/>
<rect x="52.40" y="204.05" width="6.30" height="1.45" fill="#DE746C"/>
<rect x="52.40" y="205.20" width="6.30" height="1.45" fill="#DE746C"/>
<rect x="52.40" y="206.35" width="6.30" height="1.45" fill="#DE746C"/>
<rect x="52.40" y="207.50" width="6.30" height="1.45" fill="#DE746C"/>
<rect x="52.40" y="208.65" width="6.30" height="1.45" fill="#DE746C"/>
<rect x="52.40" y="209.80" width="6.30" height="1.45" fill="#DE746C"/>
<rect x="52.40" y="210.95" width="6.30" height="1.45" fill="#DE746C"/>
<rect x="52.40" y="212.10" width="6.30" height="1.45" fill="#DE746C"/>
<rect x="52.40" y="213.25" width="6.30" height="1.45" fill="#DE746C"/>
<rect x="52.40" y="214.40" width="6.30" height="1.45" fill="#DE746C"/>
<rect x="52.40" y="215.55" width="6.30" height="0.85" fill="#DE746C"/>
<rect x="52.40" y="196.00" width="1.30" height="1.30" fill="#DE746C"/>
<rect x="53.55" y="196.00" width="1.30" height="1.30" fill="#DE746C"/>
<rect x="54.70" y="196.00" width="1.30" height="1.30" fill="#DE746C"/>
<rect x="55.85" y="196.00" width="1.30" height="1.30" fill="#DE746C"/>
<rect x="57.00" y="196.00" width="1.30" height="1.30" fill="#6ABEC4"/>
<rect x="58.15" y="196.00" width="0.70" height="1.30" fill="#6ABEC4"/>
<rect x="52.40" y="197.15" width="1.30" height="1.30" fill="#DE746C"/>
<rect x="53.55" y="197.15" width="1.30" height="1.30" fill="#6ABEC4"/>
<rect x="54.70" y="197.15" width="1.30" height="1.30" fill="#6ABEC4"/>
<rect x="55.85" y="197.15" width="1.30" height="1.30" fill="#DE746C"/>
<rect x="57.00" y="197.15" width="1.30" height="1.30" fill="#6ABEC4"/>
<rect x="58.15" y="197.15" width="0.70" height="1.30" fill="#DE746C"/>
<rect x="52.40" y="198.30" width="1.30" height="1.30" fill="#6CBE6C"/>
<rect x="53.55" y="198.30" width="1.30" height="1.30" fill="#6ABEC4"/>
<rect x="54.70" y="198.30" width="1.30" height="1.30" fill="#DE746C"/>
<rect x="55.85" y="198.30" width="1.30" height="1.30" fill="#DE746C"/>
<rect x="57.00" y="198.30" width="1.30" height="1.30" fill="#DE746C"/>
<rect x="58.15" y="198.30" width="0.70" height="1.30" fill="#6ABEC4"/>
<rect x="52.40" y="199.45" width="1.30" height="1.30" fill="#6ABEC4"/>
<rect x="53.55" y="199.45" width="1.30" height="1.30" fill="#6ABEC4"/>
<rect x="54.70" y="199.45" width="1.30" height="1.30" fill="#DE746C"/>
<rect x="55.85" y="199.45" width="1.30" height="1.30" fill="#DE746C"/>
<rect x="57.00" y="199.45" width="1.30" height="1.30" fill="#DE746C"/>
<rect x="58.15" y="199.45" width="0.70" height="1.30" fill="#DE746C"/>
<rect x="52.40" y="200.60" width="1.30" height="1.30" fill="#DE746C"/>
<rect x="53.55" y="200.60" width="1.30" height="1.30" fill="#DE746C"/>
<rect x="54.70" y="200.60" width="1.30" height="1.30" fill="#DE746C"/>
<rect x="55.85" y="200.60" width="1.30" height="1.30" fill="#DE746C"/>
<rect x="57.00" y="200.60" width="1.30" height="1.30" fill="#6ABEC4"/>
<rect x="58.15" y="200.60" width="0.70" height="1.30" fill="#6ABEC4"/>
<rect x="52.40" y="201.75" width="1.30" height="1.30" fill="#6ABEC4"/>
<rect x="53.55" y="201.75" width="1.30" height="1.30" fill="#DE746C"/>
<rect x="54.70" y="201.75" width="1.30" height="1.30" fill="#6ABEC4"/>
<rect x="55.85" y="201.75" width="1.30" height="1.30" fill="#DE746C"/>
<rect x="57.00" y="201.75" width="1.30" height="1.30" fill="#DE746C"/>
<rect x="58.15" y="201.75" width="0.70" height="1.30" fill="#6ABEC4"/>
<rect x="52.40" y="202.90" width="1.30" height="1.30" fill="#6ABEC4"/>
<rect x="54.70" y="202.90" width="1.30" height="1.30" fill="#DE746C"/>
<rect x="55.85" y="202.90" width="1.30" height="1.30" fill="#6ABEC4"/>
<rect x="57.00" y="202.90" width="1.30" height="1.30" fill="#DE746C"/>
<rect x="58.15" y="202.90" width="0.70" height="1.30" fill="#DE746C"/>
<rect x="52.40" y="204.05" width="1.30" height="1.30" fill="#DE746C"/>
<rect x="53.55" y="204.05" width="1.30" height="1.30" fill="#DE746C"/>
<rect x="54.70" y="204.05" width="1.30" height="1.30" fill="#DE746C"/>
<rect x="55.85" y="204.05" width="1.30" height="1.30" fill="#6ABEC4"/>
<rect x="57.00" y="204.05" width="1.30" height="1.30" fill="#DE746C"/>
<rect x="52.40" y="205.20" width="1.30" height="1.30" fill="#DE746C"/>
<rect x="53.55" y="205.20" width="1.30" height="1.30" fill="#DE746C"/>
<rect x="54.70" y="205.20" width="1.30" height="1.30" fill="#DE746C"/>
<rect x="55.85" y="205.20" width="1.30" height="1.30" fill="#6CBE6C"/>
<rect x="57.00" y="205.20" width="1.30" height="1.30" fill="#DE746C"/>
<rect x="58.15" y="205.20" width="0.70" height="1.30" fill="#DE746C"/>
<rect x="52.40" y="206.35" width="1.30" height="1.30" fill="#DE746C"/>
<rect x="53.55" y="206.35" width="1.30" height="1.30" fill="#DE746C"/>
<rect x="54.70" y="206.35" width="1.30" height="1.30" fill="#DE746C"/>
<rect x="55.85" y="206.35" width="1.30" height="1.30" fill="#DE746C"/>
<rect x="57.00" y="206.35" width="1.30" height="1.30" fill="#DE746C"/>
<rect x="58.15" y="206.35" width="0.70" height="1.30" fill="#DE746C"/>
<rect x="52.40" y="207.50" width="1.30" height="1.30" fill="#DE746C"/>
<rect x="53.55" y="207.50" width="1.30" height="1.30" fill="#6ABEC4"/>
<rect x="54.70" y="207.50" width="1.30" height="1.30" fill="#DE746C"/>
<rect x="55.85" y="207.50" width="1.30" height="1.30" fill="#DE746C"/>
<rect x="57.00" y="207.50" width="1.30" height="1.30" fill="#DE746C"/>
<rect x="58.15" y="207.50" width="0.70" height="1.30" fill="#DE746C"/>
<rect x="52.40" y="208.65" width="1.30" height="1.30" fill="#DE746C"/>
<rect x="53.55" y="208.65" width="1.30" height="1.30" fill="#DE746C"/>
<rect x="54.70" y="208.65" width="1.30" height="1.30" fill="#DE746C"/>
<rect x="55.85" y="208.65" width="1.30" height="1.30" fill="#6ABEC4"/>
<rect x="57.00" y="208.65" width="1.30" height="1.30" fill="#DE746C"/>
<rect x="58.15" y="208.65" width="0.70" height="1.30" fill="#DE746C"/>
<rect x="52.40" y="209.80" width="1.30" height="1.30" fill="#DE746C"/>
<rect x="53.55" y="209.80" width="1.30" height="1.30" fill="#DE746C"/>
<rect x="54.70" y="209.80" width="1.30" height="1.30" fill="#DE746C"/>
<rect x="55.85" y="209.80" width="1.30" height="1.30" fill="#DE746C"/>
<rect x="57.00" y="209.80" width="1.30" height="1.30" fill="#6ABEC4"/>
<rect x="58.15" y="209.80" width="0.70" height="1.30" fill="#DE746C"/>
<rect x="52.40" y="210.95" width="1.30" height="1.30" fill="#DE746C"/>
<rect x="53.55" y="210.95" width="1.30" height="1.30" fill="#DE746C"/>
<rect x="54.70" y="210.95" width="1.30" height="1.30" fill="#DE746C"/>
<rect x="55.85" y="210.95" width="1.30" height="1.30" fill="#DE746C"/>
<rect x="57.00" y="210.95" width="1.30" height="1.30" fill="#DE746C"/>
<rect x="52.40" y="212.10" width="1.30" height="1.30" fill="#DE746C"/>
<rect x="53.55" y="212.10" width="1.30" height="1.30" fill="#DE746C"/>
<rect x="54.70" y="212.10" width="1.30" height="1.30" fill="#6ABEC4"/>
<rect x="55.85" y="212.10" width="1.30" height="1.30" fill="#6CBE6C"/>
<rect x="57.00" y="212.10" width="1.30" height="1.30" fill="#DE746C"/>
<rect x="58.15" y="212.10" width="0.70" height="1.30" fill="#DE746C"/>
<rect x="52.40" y="213.25" width="1.30" height="1.30" fill="#DE746C"/>
<rect x="53.55" y="213.25" width="1.30" height="1.30" fill="#DE746C"/>
<rect x="54.70" y="213.25" width="1.30" height="1.30" fill="#DE746C"/>
<rect x="55.85" y="213.25" width="1.30" height="1.30" fill="#DE746C"/>
<rect x="57.00" y="213.25" width="1.30" height="1.30" fill="#DE746C"/>
<rect x="58.15" y="213.25" width="0.70" height="1.30" fill="#DE746C"/>
<rect x="52.40" y="214.40" width="1.30" height="1.30" fill="#DE746C"/>
<rect x="53.55" y="214.40" width="1.30" height="1.30" fill="#DE746C"/>
<rect x="54.70" y="214.40" width="1.30" height="1.30" fill="#6ABEC4"/>
<rect x="55.85" y="214.40" width="1.30" height="1.30" fill="#DE746C"/>
<rect x="57.00" y="214.40" width="1.30" height="1.30" fill="#DE746C"/>
<rect x="52.40" y="215.55" width="1.30" height="1.00" fill="#DE746C"/>
<rect x="53.55" y="215.55" width="1.30" height="1.00" fill="#DE746C"/>
<rect x="54.70" y="215.55" width="1.30" height="1.00" fill="#6ABEC4"/>
<rect x="55.85" y="215.55" width="1.30" height="1.00" fill="#DE746C"/>
<rect x="57.00" y="215.55" width="1.30" height="1.00" fill="#DE746C"/>
<rect x="58.15" y="215.55" width="0.70" height="1.00" fill="#6CBE6C"/>
<rect x="51.80" y="214.42" width="1.1" height="1.1" fill="#DE746C"/>
<rect x="51.80" y="206.69" width="1.1" height="1.1" fill="#DE746C"/>
<rect x="58.20" y="212.10" width="1.1" height="1.1" fill="#DE746C"/>
<rect x="51.80" y="212.51" width="1.1" height="1.1" fill="#DE746C"/>
<rect x="51.80" y="212.15" width="1.1" height="1.1" fill="#DE746C"/>
<rect x="58.20" y="201.49" width="1.1" height="1.1" fill="#DE746C"/>
<rect x="51.80" y="197.89" width="1.1" height="1.1" fill="#DE746C"/>
<rect x="51.80" y="204.07" width="1.1" height="1.1" fill="#DE746C"/>
<rect x="58.20" y="198.46" width="1.1" height="1.1" fill="#DE746C"/>
<rect x="58.20" y="208.40" width="1.1" height="1.1" fill="#DE746C"/>
<rect x="26.20" y="210.80" width="5.70" height="1.45" fill="#DE746C"/>
<rect x="26.20" y="211.95" width="5.70" height="1.45" fill="#DE746C"/>
<rect x="26.20" y="213.10" width="5.70" height="1.45" fill="#DE746C"/>
<rect x="26.20" y="214.25" width="5.70" height="1.45" fill="#DE746C"/>
<rect x="26.20" y="215.40" width="5.70" height="1.45" fill="#DE746C"/>
<rect x="26.20" y="216.55" width="5.70" height="1.45" fill="#DE746C"/>
<rect x="26.20" y="217.70" width="5.70" height="1.45" fill="#DE746C"/>
<rect x="26.20" y="218.85" width="5.70" height="1.45" fill="#DE746C"/>
<rect x="26.20" y="220.00" width="5.70" height="1.45" fill="#DE746C"/>
<rect x="26.20" y="221.15" width="5.70" height="1.45" fill="#DE746C"/>
<rect x="26.20" y="222.30" width="5.70" height="0.40" fill="#DE746C"/>
<rect x="26.20" y="210.80" width="1.30" height="1.30" fill="#6CBE6C"/>
<rect x="27.35" y="210.80" width="1.30" height="1.30" fill="#DE746C"/>
<rect x="28.50" y="210.80" width="1.30" height="1.30" fill="#DE746C"/>
<rect x="29.65" y="210.80" width="1.30" height="1.30" fill="#DE746C"/>
<rect x="30.80" y="210.80" width="1.25" height="1.30" fill="#DE746C"/>
<rect x="26.20" y="211.95" width="1.30" height="1.30" fill="#6CBE6C"/>
<rect x="27.35" y="211.95" width="1.30" height="1.30" fill="#DE746C"/>
<rect x="28.50" y="211.95" width="1.30" height="1.30" fill="#DE746C"/>
<rect x="29.65" y="211.95" width="1.30" height="1.30" fill="#DE746C"/>
<rect x="30.80" y="211.95" width="1.25" height="1.30" fill="#DE746C"/>
<rect x="27.35" y="213.10" width="1.30" height="1.30" fill="#6CBE6C"/>
<rect x="28.50" y="213.10" width="1.30" height="1.30" fill="#DE746C"/>
<rect x="29.65" y="213.10" width="1.30" height="1.30" fill="#DE746C"/>
<rect x="30.80" y="213.10" width="1.25" height="1.30" fill="#DE746C"/>
<rect x="26.20" y="214.25" width="1.30" height="1.30" fill="#DE746C"/>
<rect x="27.35" y="214.25" width="1.30" height="1.30" fill="#DE746C"/>
<rect x="28.50" y="214.25" width="1.30" height="1.30" fill="#DE746C"/>
<rect x="29.65" y="214.25" width="1.30" height="1.30" fill="#DE746C"/>
<rect x="30.80" y="214.25" width="1.25" height="1.30" fill="#DE746C"/>
<rect x="26.20" y="215.40" width="1.30" height="1.30" fill="#DE746C"/>
<rect x="28.50" y="215.40" width="1.30" height="1.30" fill="#DE746C"/>
<rect x="29.65" y="215.40" width="1.30" height="1.30" fill="#DE746C"/>
<rect x="30.80" y="215.40" width="1.25" height="1.30" fill="#DE746C"/>
<rect x="26.20" y="216.55" width="1.30" height="1.30" fill="#DE746C"/>
<rect x="27.35" y="216.55" width="1.30" height="1.30" fill="#DE746C"/>
<rect x="28.50" y="216.55" width="1.30" height="1.30" fill="#DE746C"/>
<rect x="29.65" y="216.55" width="1.30" height="1.30" fill="#DE746C"/>
<rect x="30.80" y="216.55" width="1.25" height="1.30" fill="#DE746C"/>
<rect x="26.20" y="217.70" width="1.30" height="1.30" fill="#DE746C"/>
<rect x="27.35" y="217.70" width="1.30" height="1.30" fill="#DE746C"/>
<rect x="28.50" y="217.70" width="1.30" height="1.30" fill="#DE746C"/>
<rect x="29.65" y="217.70" width="1.30" height="1.30" fill="#DE746C"/>
<rect x="30.80" y="217.70" width="1.25" height="1.30" fill="#DE746C"/>
<rect x="26.20" y="218.85" width="1.30" height="1.30" fill="#DE746C"/>
<rect x="27.35" y="218.85" width="1.30" height="1.30" fill="#DE746C"/>
<rect x="28.50" y="218.85" width="1.30" height="1.30" fill="#DE746C"/>
<rect x="29.65" y="218.85" width="1.30" height="1.30" fill="#DE746C"/>
<rect x="30.80" y="218.85" width="1.25" height="1.30" fill="#DE746C"/>
<rect x="26.20" y="220.00" width="1.30" height="1.30" fill="#DE746C"/>
<rect x="27.35" y="220.00" width="1.30" height="1.30" fill="#DE746C"/>
<rect x="28.50" y="220.00" width="1.30" height="1.30" fill="#DE746C"/>
<rect x="29.65" y="220.00" width="1.30" height="1.30" fill="#DE746C"/>
<rect x="30.80" y="220.00" width="1.25" height="1.30" fill="#DE746C"/>
<rect x="26.20" y="221.15" width="1.30" height="1.30" fill="#DE746C"/>
<rect x="27.35" y="221.15" width="1.30" height="1.30" fill="#DE746C"/>
<rect x="28.50" y="221.15" width="1.30" height="1.30" fill="#DE746C"/>
<rect x="29.65" y="221.15" width="1.30" height="1.30" fill="#DE746C"/>
<rect x="30.80" y="221.15" width="1.25" height="1.30" fill="#DE746C"/>
<rect x="26.20" y="222.30" width="1.30" height="0.55" fill="#DE746C"/>
<rect x="27.35" y="222.30" width="1.30" height="0.55" fill="#DE746C"/>
<rect x="28.50" y="222.30" width="1.30" height="0.55" fill="#DE746C"/>
<rect x="29.65" y="222.30" width="1.30" height="0.55" fill="#DE746C"/>
<rect x="30.80" y="222.30" width="1.25" height="0.55" fill="#DE746C"/>
<rect x="25.60" y="218.63" width="1.1" height="1.1" fill="#DE746C"/>
<rect x="31.40" y="220.77" width="1.1" height="1.1" fill="#DE746C"/>
<rect x="25.60" y="211.70" width="1.1" height="1.1" fill="#DE746C"/>
<rect x="31.40" y="212.84" width="1.1" height="1.1" fill="#DE746C"/>
<rect x="31.40" y="212.18" width="1.1" height="1.1" fill="#DE746C"/>
<rect x="39.50" y="212.50" width="5.60" height="1.45" fill="#DE746C"/>
<rect x="39.50" y="213.65" width="5.60" height="1.45" fill="#DE746C"/>
<rect x="39.50" y="214.80" width="5.60" height="1.45" fill="#DE746C"/>
<rect x="39.50" y="215.95" width="5.60" height="1.45" fill="#DE746C"/>
<rect x="39.50" y="217.10" width="5.60" height="1.45" fill="#DE746C"/>
<rect x="39.50" y="218.25" width="5.60" height="1.45" fill="#DE746C"/>
<rect x="39.50" y="219.40" width="5.60" height="1.45" fill="#DE746C"/>
<rect x="39.50" y="220.55" width="5.60" height="1.45" fill="#DE746C"/>
<rect x="39.50" y="221.70" width="5.60" height="1.45" fill="#DE746C"/>
<rect x="39.50" y="222.85" width="5.60" height="1.45" fill="#DE746C"/>
<rect x="39.50" y="224.00" width="5.60" height="1.45" fill="#DE746C"/>
<rect x="39.50" y="225.15" width="5.60" height="1.45" fill="#DE746C"/>
<rect x="39.50" y="226.30" width="5.60" height="1.45" fill="#DE746C"/>
<rect x="39.50" y="227.45" width="5.60" height="1.45" fill="#DE746C"/>
<rect x="39.50" y="228.60" width="5.60" height="1.45" fill="#DE746C"/>
<rect x="39.50" y="229.75" width="5.60" height="1.45" fill="#DE746C"/>
<rect x="39.50" y="230.90" width="5.60" height="1.45" fill="#DE746C"/>
<rect x="39.50" y="232.05" width="5.60" height="1.45" fill="#DE746C"/>
<rect x="39.50" y="233.20" width="5.60" height="1.45" fill="#DE746C"/>
<rect x="39.50" y="234.35" width="5.60" height="0.85" fill="#DE746C"/>
<rect x="39.50" y="212.50" width="1.30" height="1.30" fill="#DE746C"/>
<rect x="40.65" y="212.50" width="1.30" height="1.30" fill="#DE746C"/>
<rect x="41.80" y="212.50" width="1.30" height="1.30" fill="#DE746C"/>
<rect x="42.95" y="212.50" width="1.30" height="1.30" fill="#DE746C"/>
<rect x="44.10" y="212.50" width="1.15" height="1.30" fill="#DE746C"/>
<rect x="39.50" y="213.65" width="1.30" height="1.30" fill="#DE746C"/>
<rect x="40.65" y="213.65" width="1.30" height="1.30" fill="#DE746C"/>
<rect x="41.80" y="213.65" width="1.30" height="1.30" fill="#DE746C"/>
<rect x="42.95" y="213.65" width="1.30" height="1.30" fill="#DE746C"/>
<rect x="44.10" y="213.65" width="1.15" height="1.30" fill="#DE746C"/>
<rect x="39.50" y="214.80" width="1.30" height="1.30" fill="#DE746C"/>
<rect x="40.65" y="214.80" width="1.30" height="1.30" fill="#DE746C"/>
<rect x="41.80" y="214.80" width="1.30" height="1.30" fill="#DE746C"/>
<rect x="42.95" y="214.80" width="1.30" height="1.30" fill="#DE746C"/>
<rect x="44.10" y="214.80" width="1.15" height="1.30" fill="#DE746C"/>
<rect x="39.50" y="215.95" width="1.30" height="1.30" fill="#DE746C"/>
<rect x="40.65" y="215.95" width="1.30" height="1.30" fill="#DE746C"/>
<rect x="41.80" y="215.95" width="1.30" height="1.30" fill="#DE746C"/>
<rect x="42.95" y="215.95" width="1.30" height="1.30" fill="#DE746C"/>
<rect x="44.10" y="215.95" width="1.15" height="1.30" fill="#DE746C"/>
<rect x="39.50" y="217.10" width="1.30" height="1.30" fill="#DE746C"/>
<rect x="40.65" y="217.10" width="1.30" height="1.30" fill="#6CBE6C"/>
<rect x="41.80" y="217.10" width="1.30" height="1.30" fill="#DE746C"/>
<rect x="42.95" y="217.10" width="1.30" height="1.30" fill="#6ABEC4"/>
<rect x="44.10" y="217.10" width="1.15" height="1.30" fill="#6ABEC4"/>
<rect x="39.50" y="218.25" width="1.30" height="1.30" fill="#DE746C"/>
<rect x="40.65" y="218.25" width="1.30" height="1.30" fill="#DE746C"/>
<rect x="41.80" y="218.25" width="1.30" height="1.30" fill="#6ABEC4"/>
<rect x="42.95" y="218.25" width="1.30" height="1.30" fill="#DE746C"/>
<rect x="44.10" y="218.25" width="1.15" height="1.30" fill="#DE746C"/>
<rect x="39.50" y="219.40" width="1.30" height="1.30" fill="#DE746C"/>
<rect x="40.65" y="219.40" width="1.30" height="1.30" fill="#DE746C"/>
<rect x="41.80" y="219.40" width="1.30" height="1.30" fill="#DE746C"/>
<rect x="42.95" y="219.40" width="1.30" height="1.30" fill="#DE746C"/>
<rect x="44.10" y="219.40" width="1.15" height="1.30" fill="#DE746C"/>
<rect x="39.50" y="220.55" width="1.30" height="1.30" fill="#DE746C"/>
<rect x="40.65" y="220.55" width="1.30" height="1.30" fill="#DE746C"/>
<rect x="41.80" y="220.55" width="1.30" height="1.30" fill="#DE746C"/>
<rect x="42.95" y="220.55" width="1.30" height="1.30" fill="#DE746C"/>
<rect x="44.10" y="220.55" width="1.15" height="1.30" fill="#6ABEC4"/>
<rect x="39.50" y="221.70" width="1.30" height="1.30" fill="#6CBE6C"/>
<rect x="40.65" y="221.70" width="1.30" height="1.30" fill="#DE746C"/>
<rect x="41.80" y="221.70" width="1.30" height="1.30" fill="#DE746C"/>
<rect x="42.95" y="221.70" width="1.30" height="1.30" fill="#DE746C"/>
<rect x="44.10" y="221.70" width="1.15" height="1.30" fill="#DE746C"/>
<rect x="39.50" y="222.85" width="1.30" height="1.30" fill="#DE746C"/>
<rect x="40.65" y="222.85" width="1.30" height="1.30" fill="#DE746C"/>
<rect x="41.80" y="222.85" width="1.30" height="1.30" fill="#6ABEC4"/>
<rect x="42.95" y="222.85" width="1.30" height="1.30" fill="#6CBE6C"/>
<rect x="44.10" y="222.85" width="1.15" height="1.30" fill="#DE746C"/>
<rect x="39.50" y="224.00" width="1.30" height="1.30" fill="#DE746C"/>
<rect x="40.65" y="224.00" width="1.30" height="1.30" fill="#DE746C"/>
<rect x="41.80" y="224.00" width="1.30" height="1.30" fill="#6CBE6C"/>
<rect x="42.95" y="224.00" width="1.30" height="1.30" fill="#DE746C"/>
<rect x="44.10" y="224.00" width="1.15" height="1.30" fill="#DE746C"/>
<rect x="39.50" y="225.15" width="1.30" height="1.30" fill="#DE746C"/>
<rect x="40.65" y="225.15" width="1.30" height="1.30" fill="#DE746C"/>
<rect x="41.80" y="225.15" width="1.30" height="1.30" fill="#DE746C"/>
<rect x="42.95" y="225.15" width="1.30" height="1.30" fill="#DE746C"/>
<rect x="44.10" y="225.15" width="1.15" height="1.30" fill="#DE746C"/>
<rect x="39.50" y="226.30" width="1.30" height="1.30" fill="#DE746C"/>
<rect x="40.65" y="226.30" width="1.30" height="1.30" fill="#DE746C"/>
<rect x="41.80" y="226.30" width="1.30" height="1.30" fill="#DE746C"/>
<rect x="42.95" y="226.30" width="1.30" height="1.30" fill="#6ABEC4"/>
<rect x="44.10" y="226.30" width="1.15" height="1.30" fill="#DE746C"/>
<rect x="39.50" y="227.45" width="1.30" height="1.30" fill="#DE746C"/>
<rect x="40.65" y="227.45" width="1.30" height="1.30" fill="#DE746C"/>
<rect x="41.80" y="227.45" width="1.30" height="1.30" fill="#DE746C"/>
<rect x="42.95" y="227.45" width="1.30" height="1.30" fill="#DE746C"/>
<rect x="44.10" y="227.45" width="1.15" height="1.30" fill="#6CBE6C"/>
<rect x="39.50" y="228.60" width="1.30" height="1.30" fill="#DE746C"/>
<rect x="40.65" y="228.60" width="1.30" height="1.30" fill="#6ABEC4"/>
<rect x="41.80" y="228.60" width="1.30" height="1.30" fill="#DE746C"/>
<rect x="42.95" y="228.60" width="1.30" height="1.30" fill="#8EAD28"/>
<rect x="44.10" y="228.60" width="1.15" height="1.30" fill="#DE746C"/>
<rect x="39.50" y="229.75" width="1.30" height="1.30" fill="#DE746C"/>
<rect x="41.80" y="229.75" width="1.30" height="1.30" fill="#DE746C"/>
<rect x="42.95" y="229.75" width="1.30" height="1.30" fill="#8EAD28"/>
<rect x="44.10" y="229.75" width="1.15" height="1.30" fill="#DE746C"/>
<rect x="39.50" y="230.90" width="1.30" height="1.30" fill="#DE746C"/>
<rect x="40.65" y="230.90" width="1.30" height="1.30" fill="#8EAD28"/>
<rect x="41.80" y="230.90" width="1.30" height="1.30" fill="#6ABEC4"/>
<rect x="42.95" y="230.90" width="1.30" height="1.30" fill="#DE746C"/>
<rect x="44.10" y="230.90" width="1.15" height="1.30" fill="#6ABEC4"/>
<rect x="39.50" y="232.05" width="1.30" height="1.30" fill="#6CBE6C"/>
<rect x="40.65" y="232.05" width="1.30" height="1.30" fill="#DE746C"/>
<rect x="41.80" y="232.05" width="1.30" height="1.30" fill="#8EAD28"/>
<rect x="42.95" y="232.05" width="1.30" height="1.30" fill="#6CBE6C"/>
<rect x="44.10" y="232.05" width="1.15" height="1.30" fill="#DE746C"/>
<rect x="39.50" y="233.20" width="1.30" height="1.30" fill="#E060C8"/>
<rect x="40.65" y="233.20" width="1.30" height="1.30" fill="#DE746C"/>
<rect x="41.80" y="233.20" width="1.30" height="1.30" fill="#6CBE6C"/>
<rect x="42.95" y="233.20" width="1.30" height="1.30" fill="#6ABEC4"/>
<rect x="44.10" y="233.20" width="1.15" height="1.30" fill="#6ABEC4"/>
<rect x="39.50" y="234.35" width="1.30" height="1.00" fill="#8EAD28"/>
<rect x="40.65" y="234.35" width="1.30" height="1.00" fill="#8EAD28"/>
<rect x="41.80" y="234.35" width="1.30" height="1.00" fill="#6CBE6C"/>
<rect x="42.95" y="234.35" width="1.30" height="1.00" fill="#DE746C"/>
<rect x="44.10" y="234.35" width="1.15" height="1.00" fill="#DE746C"/>
<rect x="38.90" y="213.98" width="1.1" height="1.1" fill="#DE746C"/>
<rect x="38.90" y="222.11" width="1.1" height="1.1" fill="#DE746C"/>
<rect x="38.90" y="217.57" width="1.1" height="1.1" fill="#DE746C"/>
<rect x="38.90" y="217.67" width="1.1" height="1.1" fill="#DE746C"/>
<rect x="38.90" y="219.84" width="1.1" height="1.1" fill="#DE746C"/>
<rect x="44.60" y="230.03" width="1.1" height="1.1" fill="#DE746C"/>
<rect x="38.90" y="214.72" width="1.1" height="1.1" fill="#DE746C"/>
<rect x="38.90" y="231.11" width="1.1" height="1.1" fill="#DE746C"/>
<rect x="38.90" y="224.74" width="1.1" height="1.1" fill="#DE746C"/>
<rect x="44.60" y="223.25" width="1.1" height="1.1" fill="#DE746C"/>
<rect x="38.90" y="231.48" width="1.1" height="1.1" fill="#DE746C"/>
<rect x="32.70" y="232.60" width="5.70" height="1.45" fill="#8EAD28"/>
<rect x="32.70" y="233.75" width="5.70" height="1.45" fill="#8EAD28"/>
<rect x="32.70" y="234.90" width="5.70" height="1.45" fill="#8EAD28"/>
<rect x="32.70" y="236.05" width="5.70" height="1.45" fill="#8EAD28"/>
<rect x="32.70" y="237.20" width="5.70" height="1.45" fill="#8EAD28"/>
<rect x="32.70" y="238.35" width="5.70" height="1.45" fill="#8EAD28"/>
<rect x="32.70" y="239.50" width="5.70" height="1.45" fill="#8EAD28"/>
<rect x="32.70" y="240.65" width="5.70" height="1.45" fill="#8EAD28"/>
<rect x="32.70" y="241.80" width="5.70" height="1.45" fill="#8EAD28"/>
<rect x="32.70" y="242.95" width="5.70" height="1.45" fill="#8EAD28"/>
<rect x="32.70" y="244.10" width="5.70" height="0.90" fill="#8EAD28"/>
<rect x="32.70" y="232.60" width="1.30" height="1.30" fill="#8EAD28"/>
<rect x="33.85" y="232.60" width="1.30" height="1.30" fill="#8EAD28"/>
<rect x="35.00" y="232.60" width="1.30" height="1.30" fill="#8EAD28"/>
<rect x="36.15" y="232.60" width="1.30" height="1.30" fill="#6CBE6C"/>
<rect x="37.30" y="232.60" width="1.25" height="1.30" fill="#8EAD28"/>
<rect x="32.70" y="233.75" width="1.30" height="1.30" fill="#8EAD28"/>
<rect x="33.85" y="233.75" width="1.30" height="1.30" fill="#8EAD28"/>
<rect x="35.00" y="233.75" width="1.30" height="1.30" fill="#8EAD28"/>
<rect x="36.15" y="233.75" width="1.30" height="1.30" fill="#8EAD28"/>
<rect x="37.30" y="233.75" width="1.25" height="1.30" fill="#8EAD28"/>
<rect x="32.70" y="234.90" width="1.30" height="1.30" fill="#8EAD28"/>
<rect x="35.00" y="234.90" width="1.30" height="1.30" fill="#6CBE6C"/>
<rect x="36.15" y="234.90" width="1.30" height="1.30" fill="#8EAD28"/>
<rect x="37.30" y="234.90" width="1.25" height="1.30" fill="#8EAD28"/>
<rect x="32.70" y="236.05" width="1.30" height="1.30" fill="#8EAD28"/>
<rect x="33.85" y="236.05" width="1.30" height="1.30" fill="#8EAD28"/>
<rect x="35.00" y="236.05" width="1.30" height="1.30" fill="#8EAD28"/>
<rect x="36.15" y="236.05" width="1.30" height="1.30" fill="#8EAD28"/>
<rect x="37.30" y="236.05" width="1.25" height="1.30" fill="#8EAD28"/>
<rect x="32.70" y="237.20" width="1.30" height="1.30" fill="#8EAD28"/>
<rect x="33.85" y="237.20" width="1.30" height="1.30" fill="#8EAD28"/>
<rect x="35.00" y="237.20" width="1.30" height="1.30" fill="#8EAD28"/>
<rect x="36.15" y="237.20" width="1.30" height="1.30" fill="#8EAD28"/>
<rect x="37.30" y="237.20" width="1.25" height="1.30" fill="#8EAD28"/>
<rect x="32.70" y="238.35" width="1.30" height="1.30" fill="#8EAD28"/>
<rect x="33.85" y="238.35" width="1.30" height="1.30" fill="#8EAD28"/>
<rect x="35.00" y="238.35" width="1.30" height="1.30" fill="#8EAD28"/>
<rect x="36.15" y="238.35" width="1.30" height="1.30" fill="#8EAD28"/>
<rect x="37.30" y="238.35" width="1.25" height="1.30" fill="#8EAD28"/>
<rect x="32.70" y="239.50" width="1.30" height="1.30" fill="#8EAD28"/>
<rect x="33.85" y="239.50" width="1.30" height="1.30" fill="#8EAD28"/>
<rect x="35.00" y="239.50" width="1.30" height="1.30" fill="#8EAD28"/>
<rect x="36.15" y="239.50" width="1.30" height="1.30" fill="#8EAD28"/>
<rect x="37.30" y="239.50" width="1.25" height="1.30" fill="#8EAD28"/>
<rect x="32.70" y="240.65" width="1.30" height="1.30" fill="#8EAD28"/>
<rect x="33.85" y="240.65" width="1.30" height="1.30" fill="#8EAD28"/>
<rect x="35.00" y="240.65" width="1.30" height="1.30" fill="#8EAD28"/>
<rect x="36.15" y="240.65" width="1.30" height="1.30" fill="#8EAD28"/>
<rect x="37.30" y="240.65" width="1.25" height="1.30" fill="#8EAD28"/>
<rect x="32.70" y="241.80" width="1.30" height="1.30" fill="#6CBE6C"/>
<rect x="33.85" y="241.80" width="1.30" height="1.30" fill="#8EAD28"/>
<rect x="35.00" y="241.80" width="1.30" height="1.30" fill="#8EAD28"/>
<rect x="36.15" y="241.80" width="1.30" height="1.30" fill="#8EAD28"/>
<rect x="37.30" y="241.80" width="1.25" height="1.30" fill="#8EAD28"/>
<rect x="32.70" y="242.95" width="1.30" height="1.30" fill="#8EAD28"/>
<rect x="33.85" y="242.95" width="1.30" height="1.30" fill="#8EAD28"/>
<rect x="35.00" y="242.95" width="1.30" height="1.30" fill="#8EAD28"/>
<rect x="36.15" y="242.95" width="1.30" height="1.30" fill="#8EAD28"/>
<rect x="37.30" y="242.95" width="1.25" height="1.30" fill="#8EAD28"/>
<rect x="32.70" y="244.10" width="1.30" height="1.05" fill="#8EAD28"/>
<rect x="33.85" y="244.10" width="1.30" height="1.05" fill="#8EAD28"/>
<rect x="35.00" y="244.10" width="1.30" height="1.05" fill="#8EAD28"/>
<rect x="36.15" y="244.10" width="1.30" height="1.05" fill="#8EAD28"/>
<rect x="37.30" y="244.10" width="1.25" height="1.05" fill="#6CBE6C"/>
<rect x="32.10" y="238.65" width="1.1" height="1.1" fill="#8EAD28"/>
<rect x="32.10" y="236.59" width="1.1" height="1.1" fill="#8EAD28"/>
<rect x="32.10" y="233.67" width="1.1" height="1.1" fill="#8EAD28"/>
<rect x="37.90" y="238.91" width="1.1" height="1.1" fill="#8EAD28"/>
<rect x="32.10" y="237.03" width="1.1" height="1.1" fill="#8EAD28"/>
<rect x="32.10" y="242.05" width="1.1" height="1.1" fill="#8EAD28"/>
<rect x="46.00" y="237.50" width="5.60" height="1.45" fill="#8EAD28"/>
<rect x="46.00" y="238.65" width="5.60" height="1.45" fill="#8EAD28"/>
<rect x="46.00" y="239.80" width="5.60" height="1.45" fill="#8EAD28"/>
<rect x="46.00" y="240.95" width="5.60" height="1.45" fill="#8EAD28"/>
<rect x="46.00" y="242.10" width="5.60" height="1.45" fill="#8EAD28"/>
<rect x="46.00" y="243.25" width="5.60" height="1.45" fill="#8EAD28"/>
<rect x="46.00" y="244.40" width="5.60" height="1.45" fill="#8EAD28"/>
<rect x="46.00" y="245.55" width="5.60" height="1.45" fill="#8EAD28"/>
<rect x="46.00" y="246.70" width="5.60" height="1.45" fill="#8EAD28"/>
<rect x="46.00" y="247.85" width="5.60" height="1.45" fill="#8EAD28"/>
<rect x="46.00" y="249.00" width="5.60" height="1.45" fill="#8EAD28"/>
<rect x="46.00" y="250.15" width="5.60" height="1.45" fill="#8EAD28"/>
<rect x="46.00" y="251.30" width="5.60" height="1.45" fill="#8EAD28"/>
<rect x="46.00" y="252.45" width="5.60" height="1.45" fill="#8EAD28"/>
<rect x="46.00" y="253.60" width="5.60" height="1.45" fill="#60A6FA"/>
<rect x="46.00" y="254.75" width="5.60" height="1.45" fill="#60A6FA"/>
<rect x="46.00" y="255.90" width="5.60" height="1.45" fill="#60A6FA"/>
<rect x="46.00" y="257.05" width="5.60" height="1.45" fill="#60A6FA"/>
<rect x="46.00" y="258.20" width="5.60" height="1.45" fill="#60A6FA"/>
<rect x="46.00" y="259.35" width="5.60" height="1.45" fill="#60A6FA"/>
<rect x="46.00" y="260.50" width="5.60" height="1.45" fill="#60A6FA"/>
<rect x="46.00" y="261.65" width="5.60" height="1.45" fill="#60A6FA"/>
<rect x="46.00" y="262.80" width="5.60" height="1.45" fill="#60A6FA"/>
<rect x="46.00" y="263.95" width="5.60" height="1.45" fill="#60A6FA"/>
<rect x="46.00" y="265.10" width="5.60" height="0.90" fill="#60A6FA"/>
<rect x="46.00" y="237.50" width="1.30" height="1.30" fill="#8EAD28"/>
<rect x="47.15" y="237.50" width="1.30" height="1.30" fill="#8EAD28"/>
<rect x="48.30" y="237.50" width="1.30" height="1.30" fill="#6CBE6C"/>
<rect x="49.45" y="237.50" width="1.30" height="1.30" fill="#8EAD28"/>
<rect x="46.00" y="238.65" width="1.30" height="1.30" fill="#8EAD28"/>
<rect x="47.15" y="238.65" width="1.30" height="1.30" fill="#8EAD28"/>
<rect x="48.30" y="238.65" width="1.30" height="1.30" fill="#8EAD28"/>
<rect x="49.45" y="238.65" width="1.30" height="1.30" fill="#60A6FA"/>
<rect x="50.60" y="238.65" width="1.15" height="1.30" fill="#8EAD28"/>
<rect x="46.00" y="239.80" width="1.30" height="1.30" fill="#8EAD28"/>
<rect x="47.15" y="239.80" width="1.30" height="1.30" fill="#8EAD28"/>
<rect x="48.30" y="239.80" width="1.30" height="1.30" fill="#8EAD28"/>
<rect x="49.45" y="239.80" width="1.30" height="1.30" fill="#8EAD28"/>
<rect x="50.60" y="239.80" width="1.15" height="1.30" fill="#8EAD28"/>
<rect x="46.00" y="240.95" width="1.30" height="1.30" fill="#8EAD28"/>
<rect x="47.15" y="240.95" width="1.30" height="1.30" fill="#8EAD28"/>
<rect x="48.30" y="240.95" width="1.30" height="1.30" fill="#8EAD28"/>
<rect x="49.45" y="240.95" width="1.30" height="1.30" fill="#8EAD28"/>
<rect x="50.60" y="240.95" width="1.15" height="1.30" fill="#8EAD28"/>
<rect x="46.00" y="242.10" width="1.30" height="1.30" fill="#8EAD28"/>
<rect x="47.15" y="242.10" width="1.30" height="1.30" fill="#8EAD28"/>
<rect x="48.30" y="242.10" width="1.30" height="1.30" fill="#8EAD28"/>
<rect x="49.45" y="242.10" width="1.30" height="1.30" fill="#8EAD28"/>
<rect x="50.60" y="242.10" width="1.15" height="1.30" fill="#60A6FA"/>
<rect x="46.00" y="243.25" width="1.30" height="1.30" fill="#8EAD28"/>
<rect x="47.15" y="243.25" width="1.30" height="1.30" fill="#8EAD28"/>
<rect x="48.30" y="243.25" width="1.30" height="1.30" fill="#8EAD28"/>
<rect x="49.45" y="243.25" width="1.30" height="1.30" fill="#8EAD28"/>
<rect x="50.60" y="243.25" width="1.15" height="1.30" fill="#8EAD28"/>
<rect x="46.00" y="244.40" width="1.30" height="1.30" fill="#8EAD28"/>
<rect x="47.15" y="244.40" width="1.30" height="1.30" fill="#8EAD28"/>
<rect x="48.30" y="244.40" width="1.30" height="1.30" fill="#8EAD28"/>
<rect x="49.45" y="244.40" width="1.30" height="1.30" fill="#8EAD28"/>
<rect x="50.60" y="244.40" width="1.15" height="1.30" fill="#8EAD28"/>
<rect x="46.00" y="245.55" width="1.30" height="1.30" fill="#8EAD28"/>
<rect x="47.15" y="245.55" width="1.30" height="1.30" fill="#8EAD28"/>
<rect x="48.30" y="245.55" width="1.30" height="1.30" fill="#8EAD28"/>
<rect x="49.45" y="245.55" width="1.30" height="1.30" fill="#8EAD28"/>
<rect x="50.60" y="245.55" width="1.15" height="1.30" fill="#60A6FA"/>
<rect x="46.00" y="246.70" width="1.30" height="1.30" fill="#8EAD28"/>
<rect x="47.15" y="246.70" width="1.30" height="1.30" fill="#8EAD28"/>
<rect x="48.30" y="246.70" width="1.30" height="1.30" fill="#8EAD28"/>
<rect x="49.45" y="246.70" width="1.30" height="1.30" fill="#8EAD28"/>
<rect x="50.60" y="246.70" width="1.15" height="1.30" fill="#8EAD28"/>
<rect x="46.00" y="247.85" width="1.30" height="1.30" fill="#8EAD28"/>
<rect x="47.15" y="247.85" width="1.30" height="1.30" fill="#60A6FA"/>
<rect x="48.30" y="247.85" width="1.30" height="1.30" fill="#8EAD28"/>
<rect x="49.45" y="247.85" width="1.30" height="1.30" fill="#8EAD28"/>
<rect x="50.60" y="247.85" width="1.15" height="1.30" fill="#8EAD28"/>
<rect x="46.00" y="249.00" width="1.30" height="1.30" fill="#8EAD28"/>
<rect x="47.15" y="249.00" width="1.30" height="1.30" fill="#8EAD28"/>
<rect x="48.30" y="249.00" width="1.30" height="1.30" fill="#8EAD28"/>
<rect x="49.45" y="249.00" width="1.30" height="1.30" fill="#8EAD28"/>
<rect x="50.60" y="249.00" width="1.15" height="1.30" fill="#8EAD28"/>
<rect x="46.00" y="250.15" width="1.30" height="1.30" fill="#8EAD28"/>
<rect x="47.15" y="250.15" width="1.30" height="1.30" fill="#6CBE6C"/>
<rect x="48.30" y="250.15" width="1.30" height="1.30" fill="#8EAD28"/>
<rect x="49.45" y="250.15" width="1.30" height="1.30" fill="#8EAD28"/>
<rect x="50.60" y="250.15" width="1.15" height="1.30" fill="#8EAD28"/>
<rect x="46.00" y="251.30" width="1.30" height="1.30" fill="#8EAD28"/>
<rect x="47.15" y="251.30" width="1.30" height="1.30" fill="#8EAD28"/>
<rect x="48.30" y="251.30" width="1.30" height="1.30" fill="#8EAD28"/>
<rect x="49.45" y="251.30" width="1.30" height="1.30" fill="#8EAD28"/>
<rect x="50.60" y="251.30" width="1.15" height="1.30" fill="#8EAD28"/>
<rect x="47.15" y="252.45" width="1.30" height="1.30" fill="#8EAD28"/>
<rect x="48.30" y="252.45" width="1.30" height="1.30" fill="#8EAD28"/>
<rect x="49.45" y="252.45" width="1.30" height="1.30" fill="#8EAD28"/>
<rect x="50.60" y="252.45" width="1.15" height="1.30" fill="#8EAD28"/>
<rect x="46.00" y="253.60" width="1.30" height="1.30" fill="#8EAD28"/>
<rect x="47.15" y="253.60" width="1.30" height="1.30" fill="#60A6FA"/>
<rect x="48.30" y="253.60" width="1.30" height="1.30" fill="#60A6FA"/>
<rect x="49.45" y="253.60" width="1.30" height="1.30" fill="#60A6FA"/>
<rect x="50.60" y="253.60" width="1.15" height="1.30" fill="#60A6FA"/>
<rect x="46.00" y="254.75" width="1.30" height="1.30" fill="#8EAD28"/>
<rect x="47.15" y="254.75" width="1.30" height="1.30" fill="#8EAD28"/>
<rect x="48.30" y="254.75" width="1.30" height="1.30" fill="#60A6FA"/>
<rect x="49.45" y="254.75" width="1.30" height="1.30" fill="#60A6FA"/>
<rect x="50.60" y="254.75" width="1.15" height="1.30" fill="#60A6FA"/>
<rect x="46.00" y="255.90" width="1.30" height="1.30" fill="#60A6FA"/>
<rect x="47.15" y="255.90" width="1.30" height="1.30" fill="#60A6FA"/>
<rect x="48.30" y="255.90" width="1.30" height="1.30" fill="#60A6FA"/>
<rect x="49.45" y="255.90" width="1.30" height="1.30" fill="#60A6FA"/>
<rect x="46.00" y="257.05" width="1.30" height="1.30" fill="#60A6FA"/>
<rect x="47.15" y="257.05" width="1.30" height="1.30" fill="#60A6FA"/>
<rect x="48.30" y="257.05" width="1.30" height="1.30" fill="#8EAD28"/>
<rect x="49.45" y="257.05" width="1.30" height="1.30" fill="#60A6FA"/>
<rect x="50.60" y="257.05" width="1.15" height="1.30" fill="#8EAD28"/>
<rect x="46.00" y="258.20" width="1.30" height="1.30" fill="#8EAD28"/>
<rect x="47.15" y="258.20" width="1.30" height="1.30" fill="#60A6FA"/>
<rect x="48.30" y="258.20" width="1.30" height="1.30" fill="#60A6FA"/>
<rect x="49.45" y="258.20" width="1.30" height="1.30" fill="#60A6FA"/>
<rect x="50.60" y="258.20" width="1.15" height="1.30" fill="#60A6FA"/>
<rect x="46.00" y="259.35" width="1.30" height="1.30" fill="#60A6FA"/>
<rect x="47.15" y="259.35" width="1.30" height="1.30" fill="#60A6FA"/>
<rect x="48.30" y="259.35" width="1.30" height="1.30" fill="#60A6FA"/>
<rect x="49.45" y="259.35" width="1.30" height="1.30" fill="#60A6FA"/>
<rect x="50.60" y="259.35" width="1.15" height="1.30" fill="#60A6FA"/>
<rect x="46.00" y="260.50" width="1.30" height="1.30" fill="#8EAD28"/>
<rect x="47.15" y="260.50" width="1.30" height="1.30" fill="#60A6FA"/>
<rect x="48.30" y="260.50" width="1.30" height="1.30" fill="#60A6FA"/>
<rect x="49.45" y="260.50" width="1.30" height="1.30" fill="#60A6FA"/>
<rect x="50.60" y="260.50" width="1.15" height="1.30" fill="#60A6FA"/>
<rect x="46.00" y="261.65" width="1.30" height="1.30" fill="#60A6FA"/>
<rect x="47.15" y="261.65" width="1.30" height="1.30" fill="#60A6FA"/>
<rect x="48.30" y="261.65" width="1.30" height="1.30" fill="#60A6FA"/>
<rect x="49.45" y="261.65" width="1.30" height="1.30" fill="#60A6FA"/>
<rect x="50.60" y="261.65" width="1.15" height="1.30" fill="#60A6FA"/>
<rect x="46.00" y="262.80" width="1.30" height="1.30" fill="#60A6FA"/>
<rect x="47.15" y="262.80" width="1.30" height="1.30" fill="#8EAD28"/>
<rect x="48.30" y="262.80" width="1.30" height="1.30" fill="#60A6FA"/>
<rect x="49.45" y="262.80" width="1.30" height="1.30" fill="#60A6FA"/>
<rect x="50.60" y="262.80" width="1.15" height="1.30" fill="#8EAD28"/>
<rect x="46.00" y="263.95" width="1.30" height="1.30" fill="#60A6FA"/>
<rect x="47.15" y="263.95" width="1.30" height="1.30" fill="#60A6FA"/>
<rect x="48.30" y="263.95" width="1.30" height="1.30" fill="#60A6FA"/>
<rect x="49.45" y="263.95" width="1.30" height="1.30" fill="#60A6FA"/>
<rect x="50.60" y="263.95" width="1.15" height="1.30" fill="#60A6FA"/>
<rect x="46.00" y="265.10" width="1.30" height="1.05" fill="#60A6FA"/>
<rect x="47.15" y="265.10" width="1.30" height="1.05" fill="#8EAD28"/>
<rect x="48.30" y="265.10" width="1.30" height="1.05" fill="#60A6FA"/>
<rect x="49.45" y="265.10" width="1.30" height="1.05" fill="#60A6FA"/>
<rect x="50.60" y="265.10" width="1.15" height="1.05" fill="#60A6FA"/>
<rect x="51.10" y="247.59" width="1.1" height="1.1" fill="#8EAD28"/>
<rect x="51.10" y="249.52" width="1.1" height="1.1" fill="#8EAD28"/>
<rect x="45.40" y="240.70" width="1.1" height="1.1" fill="#8EAD28"/>
<rect x="45.40" y="247.46" width="1.1" height="1.1" fill="#8EAD28"/>
<rect x="51.10" y="262.76" width="1.1" height="1.1" fill="#60A6FA"/>
<rect x="45.40" y="244.16" width="1.1" height="1.1" fill="#8EAD28"/>
<rect x="45.40" y="260.29" width="1.1" height="1.1" fill="#60A6FA"/>
<rect x="51.10" y="250.70" width="1.1" height="1.1" fill="#8EAD28"/>
<rect x="45.40" y="239.89" width="1.1" height="1.1" fill="#8EAD28"/>
<rect x="51.10" y="256.76" width="1.1" height="1.1" fill="#60A6FA"/>
<rect x="51.10" y="262.20" width="1.1" height="1.1" fill="#60A6FA"/>
<rect x="51.10" y="258.59" width="1.1" height="1.1" fill="#60A6FA"/>
<rect x="51.10" y="251.06" width="1.1" height="1.1" fill="#8EAD28"/>
<rect x="45.40" y="240.83" width="1.1" height="1.1" fill="#8EAD28"/>
<rect x="59.30" y="225.00" width="5.70" height="1.45" fill="#BE9423"/>
<rect x="59.30" y="226.15" width="5.70" height="1.45" fill="#BE9423"/>
<rect x="59.30" y="227.30" width="5.70" height="1.45" fill="#BE9423"/>
<rect x="59.30" y="228.45" width="5.70" height="1.45" fill="#BE9423"/>
<rect x="59.30" y="229.60" width="5.70" height="1.45" fill="#BE9423"/>
<rect x="59.30" y="230.75" width="5.70" height="1.45" fill="#BE9423"/>
<rect x="59.30" y="231.90" width="5.70" height="1.45" fill="#BE9423"/>
<rect x="59.30" y="233.05" width="5.70" height="1.45" fill="#6CBE6C"/>
<rect x="59.30" y="234.20" width="5.70" height="1.45" fill="#6CBE6C"/>
<rect x="59.30" y="235.35" width="5.70" height="1.45" fill="#6CBE6C"/>
<rect x="59.30" y="236.50" width="5.70" height="1.45" fill="#6CBE6C"/>
<rect x="59.30" y="237.65" width="5.70" height="1.45" fill="#6CBE6C"/>
<rect x="59.30" y="238.80" width="5.70" height="1.45" fill="#6CBE6C"/>
<rect x="59.30" y="239.95" width="5.70" height="1.45" fill="#6CBE6C"/>
<rect x="59.30" y="241.10" width="5.70" height="1.45" fill="#6CBE6C"/>
<rect x="59.30" y="242.25" width="5.70" height="1.45" fill="#6CBE6C"/>
<rect x="59.30" y="243.40" width="5.70" height="1.45" fill="#6CBE6C"/>
<rect x="59.30" y="244.55" width="5.70" height="1.45" fill="#6CBE6C"/>
<rect x="59.30" y="245.70" width="5.70" height="1.45" fill="#6CBE6C"/>
<rect x="59.30" y="246.85" width="5.70" height="1.45" fill="#6CBE6C"/>
<rect x="59.30" y="248.00" width="5.70" height="1.45" fill="#6CBE6C"/>
<rect x="59.30" y="249.15" width="5.70" height="1.45" fill="#6CBE6C"/>
<rect x="59.30" y="250.30" width="5.70" height="1.45" fill="#6CBE6C"/>
<rect x="59.30" y="251.45" width="5.70" height="1.45" fill="#6CBE6C"/>
<rect x="59.30" y="252.60" width="5.70" height="1.45" fill="#6CBE6C"/>
<rect x="59.30" y="253.75" width="5.70" height="1.45" fill="#6CBE6C"/>
<rect x="59.30" y="254.90" width="5.70" height="1.45" fill="#6CBE6C"/>
<rect x="59.30" y="256.05" width="5.70" height="1.45" fill="#6CBE6C"/>
<rect x="59.30" y="257.20" width="5.70" height="1.45" fill="#6CBE6C"/>
<rect x="59.30" y="258.35" width="5.70" height="1.45" fill="#6CBE6C"/>
<rect x="59.30" y="259.50" width="5.70" height="1.45" fill="#6CBE6C"/>
<rect x="59.30" y="260.65" width="5.70" height="1.45" fill="#B07CFA"/>
<rect x="59.30" y="261.80" width="5.70" height="1.45" fill="#B07CFA"/>
<rect x="59.30" y="262.95" width="5.70" height="1.45" fill="#B07CFA"/>
<rect x="59.30" y="264.10" width="5.70" height="1.45" fill="#B07CFA"/>
<rect x="59.30" y="265.25" width="5.70" height="1.45" fill="#B07CFA"/>
<rect x="59.30" y="266.40" width="5.70" height="1.45" fill="#B07CFA"/>
<rect x="59.30" y="267.55" width="5.70" height="1.45" fill="#B07CFA"/>
<rect x="59.30" y="268.70" width="5.70" height="1.45" fill="#B07CFA"/>
<rect x="59.30" y="269.85" width="5.70" height="0.55" fill="#B07CFA"/>
<rect x="59.30" y="225.00" width="1.30" height="1.30" fill="#6CBE6C"/>
<rect x="60.45" y="225.00" width="1.30" height="1.30" fill="#BE9423"/>
<rect x="61.60" y="225.00" width="1.30" height="1.30" fill="#BE9423"/>
<rect x="62.75" y="225.00" width="1.30" height="1.30" fill="#BE9423"/>
<rect x="63.90" y="225.00" width="1.25" height="1.30" fill="#6CBE6C"/>
<rect x="59.30" y="226.15" width="1.30" height="1.30" fill="#BE9423"/>
<rect x="60.45" y="226.15" width="1.30" height="1.30" fill="#BE9423"/>
<rect x="61.60" y="226.15" width="1.30" height="1.30" fill="#BE9423"/>
<rect x="62.75" y="226.15" width="1.30" height="1.30" fill="#6CBE6C"/>
<rect x="63.90" y="226.15" width="1.25" height="1.30" fill="#BE9423"/>
<rect x="59.30" y="227.30" width="1.30" height="1.30" fill="#BE9423"/>
<rect x="60.45" y="227.30" width="1.30" height="1.30" fill="#8EAD28"/>
<rect x="61.60" y="227.30" width="1.30" height="1.30" fill="#BE9423"/>
<rect x="62.75" y="227.30" width="1.30" height="1.30" fill="#6CBE6C"/>
<rect x="63.90" y="227.30" width="1.25" height="1.30" fill="#BE9423"/>
<rect x="59.30" y="228.45" width="1.30" height="1.30" fill="#6CBE6C"/>
<rect x="60.45" y="228.45" width="1.30" height="1.30" fill="#6CBE6C"/>
<rect x="61.60" y="228.45" width="1.30" height="1.30" fill="#6CBE6C"/>
<rect x="62.75" y="228.45" width="1.30" height="1.30" fill="#BE9423"/>
<rect x="63.90" y="228.45" width="1.25" height="1.30" fill="#6CBE6C"/>
<rect x="59.30" y="229.60" width="1.30" height="1.30" fill="#BE9423"/>
<rect x="60.45" y="229.60" width="1.30" height="1.30" fill="#6CBE6C"/>
<rect x="61.60" y="229.60" width="1.30" height="1.30" fill="#6CBE6C"/>
<rect x="62.75" y="229.60" width="1.30" height="1.30" fill="#6CBE6C"/>
<rect x="63.90" y="229.60" width="1.25" height="1.30" fill="#6CBE6C"/>
<rect x="59.30" y="230.75" width="1.30" height="1.30" fill="#BE9423"/>
<rect x="60.45" y="230.75" width="1.30" height="1.30" fill="#6CBE6C"/>
<rect x="61.60" y="230.75" width="1.30" height="1.30" fill="#BE9423"/>
<rect x="62.75" y="230.75" width="1.30" height="1.30" fill="#BE9423"/>
<rect x="63.90" y="230.75" width="1.25" height="1.30" fill="#8EAD28"/>
<rect x="59.30" y="231.90" width="1.30" height="1.30" fill="#BE9423"/>
<rect x="60.45" y="231.90" width="1.30" height="1.30" fill="#6CBE6C"/>
<rect x="61.60" y="231.90" width="1.30" height="1.30" fill="#6CBE6C"/>
<rect x="62.75" y="231.90" width="1.30" height="1.30" fill="#BE9423"/>
<rect x="63.90" y="231.90" width="1.25" height="1.30" fill="#BE9423"/>
<rect x="59.30" y="233.05" width="1.30" height="1.30" fill="#6CBE6C"/>
<rect x="61.60" y="233.05" width="1.30" height="1.30" fill="#6CBE6C"/>
<rect x="62.75" y="233.05" width="1.30" height="1.30" fill="#6CBE6C"/>
<rect x="59.30" y="234.20" width="1.30" height="1.30" fill="#BE9423"/>
<rect x="60.45" y="234.20" width="1.30" height="1.30" fill="#BE9423"/>
<rect x="61.60" y="234.20" width="1.30" height="1.30" fill="#8EAD28"/>
<rect x="62.75" y="234.20" width="1.30" height="1.30" fill="#BE9423"/>
<rect x="63.90" y="234.20" width="1.25" height="1.30" fill="#BE9423"/>
<rect x="59.30" y="235.35" width="1.30" height="1.30" fill="#BE9423"/>
<rect x="60.45" y="235.35" width="1.30" height="1.30" fill="#6CBE6C"/>
<rect x="61.60" y="235.35" width="1.30" height="1.30" fill="#6CBE6C"/>
<rect x="62.75" y="235.35" width="1.30" height="1.30" fill="#6CBE6C"/>
<rect x="63.90" y="235.35" width="1.25" height="1.30" fill="#6CBE6C"/>
<rect x="59.30" y="236.50" width="1.30" height="1.30" fill="#8EAD28"/>
<rect x="60.45" y="236.50" width="1.30" height="1.30" fill="#BE9423"/>
<rect x="61.60" y="236.50" width="1.30" height="1.30" fill="#BE9423"/>
<rect x="62.75" y="236.50" width="1.30" height="1.30" fill="#BE9423"/>
<rect x="63.90" y="236.50" width="1.25" height="1.30" fill="#BE9423"/>
<rect x="59.30" y="237.65" width="1.30" height="1.30" fill="#6CBE6C"/>
<rect x="60.45" y="237.65" width="1.30" height="1.30" fill="#BE9423"/>
<rect x="61.60" y="237.65" width="1.30" height="1.30" fill="#6CBE6C"/>
<rect x="62.75" y="237.65" width="1.30" height="1.30" fill="#BE9423"/>
<rect x="63.90" y="237.65" width="1.25" height="1.30" fill="#BE9423"/>
<rect x="59.30" y="238.80" width="1.30" height="1.30" fill="#6CBE6C"/>
<rect x="60.45" y="238.80" width="1.30" height="1.30" fill="#8EAD28"/>
<rect x="61.60" y="238.80" width="1.30" height="1.30" fill="#BE9423"/>
<rect x="62.75" y="238.80" width="1.30" height="1.30" fill="#6CBE6C"/>
<rect x="63.90" y="238.80" width="1.25" height="1.30" fill="#6CBE6C"/>
<rect x="59.30" y="239.95" width="1.30" height="1.30" fill="#6CBE6C"/>
<rect x="60.45" y="239.95" width="1.30" height="1.30" fill="#6CBE6C"/>
<rect x="61.60" y="239.95" width="1.30" height="1.30" fill="#BE9423"/>
<rect x="62.75" y="239.95" width="1.30" height="1.30" fill="#6CBE6C"/>
<rect x="63.90" y="239.95" width="1.25" height="1.30" fill="#6CBE6C"/>
<rect x="59.30" y="241.10" width="1.30" height="1.30" fill="#6CBE6C"/>
<rect x="60.45" y="241.10" width="1.30" height="1.30" fill="#6CBE6C"/>
<rect x="61.60" y="241.10" width="1.30" height="1.30" fill="#8EAD28"/>
<rect x="62.75" y="241.10" width="1.30" height="1.30" fill="#8EAD28"/>
<rect x="63.90" y="241.10" width="1.25" height="1.30" fill="#BE9423"/>
<rect x="59.30" y="242.25" width="1.30" height="1.30" fill="#6CBE6C"/>
<rect x="60.45" y="242.25" width="1.30" height="1.30" fill="#6CBE6C"/>
<rect x="61.60" y="242.25" width="1.30" height="1.30" fill="#BE9423"/>
<rect x="62.75" y="242.25" width="1.30" height="1.30" fill="#6CBE6C"/>
<rect x="63.90" y="242.25" width="1.25" height="1.30" fill="#BE9423"/>
<rect x="59.30" y="243.40" width="1.30" height="1.30" fill="#BE9423"/>
<rect x="60.45" y="243.40" width="1.30" height="1.30" fill="#6CBE6C"/>
<rect x="61.60" y="243.40" width="1.30" height="1.30" fill="#8EAD28"/>
<rect x="62.75" y="243.40" width="1.30" height="1.30" fill="#6CBE6C"/>
<rect x="63.90" y="243.40" width="1.25" height="1.30" fill="#6CBE6C"/>
<rect x="59.30" y="244.55" width="1.30" height="1.30" fill="#6CBE6C"/>
<rect x="60.45" y="244.55" width="1.30" height="1.30" fill="#6CBE6C"/>
<rect x="61.60" y="244.55" width="1.30" height="1.30" fill="#6CBE6C"/>
<rect x="62.75" y="244.55" width="1.30" height="1.30" fill="#B07CFA"/>
<rect x="63.90" y="244.55" width="1.25" height="1.30" fill="#6CBE6C"/>
<rect x="59.30" y="245.70" width="1.30" height="1.30" fill="#BE9423"/>
<rect x="60.45" y="245.70" width="1.30" height="1.30" fill="#6CBE6C"/>
<rect x="61.60" y="245.70" width="1.30" height="1.30" fill="#6CBE6C"/>
<rect x="62.75" y="245.70" width="1.30" height="1.30" fill="#6CBE6C"/>
<rect x="63.90" y="245.70" width="1.25" height="1.30" fill="#6CBE6C"/>
<rect x="59.30" y="246.85" width="1.30" height="1.30" fill="#6CBE6C"/>
<rect x="60.45" y="246.85" width="1.30" height="1.30" fill="#BE9423"/>
<rect x="61.60" y="246.85" width="1.30" height="1.30" fill="#6CBE6C"/>
<rect x="62.75" y="246.85" width="1.30" height="1.30" fill="#6CBE6C"/>
<rect x="63.90" y="246.85" width="1.25" height="1.30" fill="#6CBE6C"/>
<rect x="59.30" y="248.00" width="1.30" height="1.30" fill="#6CBE6C"/>
<rect x="60.45" y="248.00" width="1.30" height="1.30" fill="#6CBE6C"/>
<rect x="61.60" y="248.00" width="1.30" height="1.30" fill="#BE9423"/>
<rect x="62.75" y="248.00" width="1.30" height="1.30" fill="#6CBE6C"/>
<rect x="63.90" y="248.00" width="1.25" height="1.30" fill="#6CBE6C"/>
<rect x="59.30" y="249.15" width="1.30" height="1.30" fill="#6CBE6C"/>
<rect x="60.45" y="249.15" width="1.30" height="1.30" fill="#6CBE6C"/>
<rect x="61.60" y="249.15" width="1.30" height="1.30" fill="#6CBE6C"/>
<rect x="62.75" y="249.15" width="1.30" height="1.30" fill="#6CBE6C"/>
<rect x="63.90" y="249.15" width="1.25" height="1.30" fill="#6CBE6C"/>
<rect x="59.30" y="250.30" width="1.30" height="1.30" fill="#6CBE6C"/>
<rect x="60.45" y="250.30" width="1.30" height="1.30" fill="#6CBE6C"/>
<rect x="61.60" y="250.30" width="1.30" height="1.30" fill="#6CBE6C"/>
<rect x="62.75" y="250.30" width="1.30" height="1.30" fill="#6CBE6C"/>
<rect x="63.90" y="250.30" width="1.25" height="1.30" fill="#6CBE6C"/>
<rect x="59.30" y="251.45" width="1.30" height="1.30" fill="#6CBE6C"/>
<rect x="60.45" y="251.45" width="1.30" height="1.30" fill="#B07CFA"/>
<rect x="61.60" y="251.45" width="1.30" height="1.30" fill="#6CBE6C"/>
<rect x="62.75" y="251.45" width="1.30" height="1.30" fill="#6CBE6C"/>
<rect x="63.90" y="251.45" width="1.25" height="1.30" fill="#6CBE6C"/>
<rect x="60.45" y="252.60" width="1.30" height="1.30" fill="#6CBE6C"/>
<rect x="61.60" y="252.60" width="1.30" height="1.30" fill="#6CBE6C"/>
<rect x="62.75" y="252.60" width="1.30" height="1.30" fill="#6CBE6C"/>
<rect x="63.90" y="252.60" width="1.25" height="1.30" fill="#BE9423"/>
<rect x="59.30" y="253.75" width="1.30" height="1.30" fill="#B07CFA"/>
<rect x="60.45" y="253.75" width="1.30" height="1.30" fill="#6CBE6C"/>
<rect x="61.60" y="253.75" width="1.30" height="1.30" fill="#6CBE6C"/>
<rect x="62.75" y="253.75" width="1.30" height="1.30" fill="#6CBE6C"/>
<rect x="63.90" y="253.75" width="1.25" height="1.30" fill="#B07CFA"/>
<rect x="59.30" y="254.90" width="1.30" height="1.30" fill="#6CBE6C"/>
<rect x="60.45" y="254.90" width="1.30" height="1.30" fill="#6CBE6C"/>
<rect x="61.60" y="254.90" width="1.30" height="1.30" fill="#B07CFA"/>
<rect x="62.75" y="254.90" width="1.30" height="1.30" fill="#6CBE6C"/>
<rect x="63.90" y="254.90" width="1.25" height="1.30" fill="#B07CFA"/>
<rect x="59.30" y="256.05" width="1.30" height="1.30" fill="#6CBE6C"/>
<rect x="60.45" y="256.05" width="1.30" height="1.30" fill="#6CBE6C"/>
<rect x="61.60" y="256.05" width="1.30" height="1.30" fill="#B07CFA"/>
<rect x="62.75" y="256.05" width="1.30" height="1.30" fill="#B07CFA"/>
<rect x="63.90" y="256.05" width="1.25" height="1.30" fill="#6CBE6C"/>
<rect x="59.30" y="257.20" width="1.30" height="1.30" fill="#B07CFA"/>
<rect x="60.45" y="257.20" width="1.30" height="1.30" fill="#6CBE6C"/>
<rect x="61.60" y="257.20" width="1.30" height="1.30" fill="#B07CFA"/>
<rect x="62.75" y="257.20" width="1.30" height="1.30" fill="#B07CFA"/>
<rect x="63.90" y="257.20" width="1.25" height="1.30" fill="#B07CFA"/>
<rect x="59.30" y="258.35" width="1.30" height="1.30" fill="#B07CFA"/>
<rect x="60.45" y="258.35" width="1.30" height="1.30" fill="#B07CFA"/>
<rect x="61.60" y="258.35" width="1.30" height="1.30" fill="#6CBE6C"/>
<rect x="62.75" y="258.35" width="1.30" height="1.30" fill="#6CBE6C"/>
<rect x="59.30" y="259.50" width="1.30" height="1.30" fill="#6CBE6C"/>
<rect x="60.45" y="259.50" width="1.30" height="1.30" fill="#6CBE6C"/>
<rect x="61.60" y="259.50" width="1.30" height="1.30" fill="#6CBE6C"/>
<rect x="62.75" y="259.50" width="1.30" height="1.30" fill="#6CBE6C"/>
<rect x="63.90" y="259.50" width="1.25" height="1.30" fill="#B07CFA"/>
<rect x="59.30" y="260.65" width="1.30" height="1.30" fill="#6CBE6C"/>
<rect x="60.45" y="260.65" width="1.30" height="1.30" fill="#6CBE6C"/>
<rect x="61.60" y="260.65" width="1.30" height="1.30" fill="#6CBE6C"/>
<rect x="62.75" y="260.65" width="1.30" height="1.30" fill="#6CBE6C"/>
<rect x="63.90" y="260.65" width="1.25" height="1.30" fill="#6CBE6C"/>
<rect x="59.30" y="261.80" width="1.30" height="1.30" fill="#B07CFA"/>
<rect x="60.45" y="261.80" width="1.30" height="1.30" fill="#6CBE6C"/>
<rect x="61.60" y="261.80" width="1.30" height="1.30" fill="#6CBE6C"/>
<rect x="62.75" y="261.80" width="1.30" height="1.30" fill="#6CBE6C"/>
<rect x="63.90" y="261.80" width="1.25" height="1.30" fill="#B07CFA"/>
<rect x="59.30" y="262.95" width="1.30" height="1.30" fill="#B07CFA"/>
<rect x="60.45" y="262.95" width="1.30" height="1.30" fill="#B07CFA"/>
<rect x="61.60" y="262.95" width="1.30" height="1.30" fill="#6CBE6C"/>
<rect x="62.75" y="262.95" width="1.30" height="1.30" fill="#6CBE6C"/>
<rect x="63.90" y="262.95" width="1.25" height="1.30" fill="#6CBE6C"/>
<rect x="59.30" y="264.10" width="1.30" height="1.30" fill="#B07CFA"/>
<rect x="60.45" y="264.10" width="1.30" height="1.30" fill="#6CBE6C"/>
<rect x="61.60" y="264.10" width="1.30" height="1.30" fill="#B07CFA"/>
<rect x="62.75" y="264.10" width="1.30" height="1.30" fill="#B07CFA"/>
<rect x="63.90" y="264.10" width="1.25" height="1.30" fill="#B07CFA"/>
<rect x="59.30" y="265.25" width="1.30" height="1.30" fill="#6CBE6C"/>
<rect x="60.45" y="265.25" width="1.30" height="1.30" fill="#B07CFA"/>
<rect x="61.60" y="265.25" width="1.30" height="1.30" fill="#B07CFA"/>
<rect x="62.75" y="265.25" width="1.30" height="1.30" fill="#6CBE6C"/>
<rect x="63.90" y="265.25" width="1.25" height="1.30" fill="#6CBE6C"/>
<rect x="59.30" y="266.40" width="1.30" height="1.30" fill="#B07CFA"/>
<rect x="60.45" y="266.40" width="1.30" height="1.30" fill="#B07CFA"/>
<rect x="61.60" y="266.40" width="1.30" height="1.30" fill="#B07CFA"/>
<rect x="62.75" y="266.40" width="1.30" height="1.30" fill="#6CBE6C"/>
<rect x="63.90" y="266.40" width="1.25" height="1.30" fill="#6CBE6C"/>
<rect x="59.30" y="267.55" width="1.30" height="1.30" fill="#B07CFA"/>
<rect x="60.45" y="267.55" width="1.30" height="1.30" fill="#6CBE6C"/>
<rect x="61.60" y="267.55" width="1.30" height="1.30" fill="#B07CFA"/>
<rect x="62.75" y="267.55" width="1.30" height="1.30" fill="#B07CFA"/>
<rect x="63.90" y="267.55" width="1.25" height="1.30" fill="#B07CFA"/>
<rect x="59.30" y="268.70" width="1.30" height="1.30" fill="#B07CFA"/>
<rect x="60.45" y="268.70" width="1.30" height="1.30" fill="#B07CFA"/>
<rect x="61.60" y="268.70" width="1.30" height="1.30" fill="#B07CFA"/>
<rect x="62.75" y="268.70" width="1.30" height="1.30" fill="#B07CFA"/>
<rect x="63.90" y="268.70" width="1.25" height="1.30" fill="#6CBE6C"/>
<rect x="59.30" y="269.85" width="1.30" height="0.70" fill="#6CBE6C"/>
<rect x="60.45" y="269.85" width="1.30" height="0.70" fill="#B07CFA"/>
<rect x="61.60" y="269.85" width="1.30" height="0.70" fill="#6CBE6C"/>
<rect x="62.75" y="269.85" width="1.30" height="0.70" fill="#B07CFA"/>
<rect x="63.90" y="269.85" width="1.25" height="0.70" fill="#B07CFA"/>
<rect x="64.50" y="268.37" width="1.1" height="1.1" fill="#B07CFA"/>
<rect x="64.50" y="254.82" width="1.1" height="1.1" fill="#6CBE6C"/>
<rect x="58.70" y="269.13" width="1.1" height="1.1" fill="#B07CFA"/>
<rect x="58.70" y="233.26" width="1.1" height="1.1" fill="#6CBE6C"/>
<rect x="64.50" y="238.09" width="1.1" height="1.1" fill="#6CBE6C"/>
<rect x="64.50" y="260.68" width="1.1" height="1.1" fill="#6CBE6C"/>
<rect x="58.70" y="255.55" width="1.1" height="1.1" fill="#6CBE6C"/>
<rect x="64.50" y="229.81" width="1.1" height="1.1" fill="#BE9423"/>
<rect x="64.50" y="250.99" width="1.1" height="1.1" fill="#6CBE6C"/>
<rect x="58.70" y="239.81" width="1.1" height="1.1" fill="#6CBE6C"/>
<rect x="64.50" y="249.42" width="1.1" height="1.1" fill="#6CBE6C"/>
<rect x="64.50" y="237.81" width="1.1" height="1.1" fill="#6CBE6C"/>
<rect x="58.70" y="265.82" width="1.1" height="1.1" fill="#B07CFA"/>
<rect x="58.70" y="249.49" width="1.1" height="1.1" fill="#6CBE6C"/>
<rect x="58.70" y="266.75" width="1.1" height="1.1" fill="#B07CFA"/>
<rect x="58.70" y="256.98" width="1.1" height="1.1" fill="#6CBE6C"/>
<rect x="64.50" y="266.05" width="1.1" height="1.1" fill="#B07CFA"/>
<rect x="64.50" y="270.06" width="1.1" height="1.1" fill="#B07CFA"/>
<rect x="58.70" y="247.69" width="1.1" height="1.1" fill="#6CBE6C"/>
<rect x="58.70" y="234.85" width="1.1" height="1.1" fill="#6CBE6C"/>
<rect x="64.50" y="252.27" width="1.1" height="1.1" fill="#6CBE6C"/>
<rect x="58.70" y="250.62" width="1.1" height="1.1" fill="#6CBE6C"/>
<rect x="72.40" y="220.03" width="1.3" height="1.3" fill="#BE9423"/>
<rect x="73.51" y="212.23" width="1.3" height="1.3" fill="#BE9423"/>
<rect x="71.04" y="227.65" width="1.3" height="1.3" fill="#BE9423"/>
<rect x="73.14" y="221.86" width="1.3" height="1.3" fill="#BE9423"/>
<rect x="69.92" y="219.69" width="1.3" height="1.3" fill="#BE9423"/>
<rect x="65.95" y="222.19" width="1.3" height="1.3" fill="#BE9423"/>
<rect x="64.56" y="217.77" width="1.3" height="1.3" fill="#BE9423"/>
<rect x="68.54" y="211.89" width="1.3" height="1.3" fill="#BE9423"/>
<rect x="67.36" y="212.01" width="1.3" height="1.3" fill="#BE9423"/>
<rect x="72.27" y="224.11" width="1.3" height="1.3" fill="#BE9423"/>
<rect x="69.78" y="218.26" width="1.3" height="1.3" fill="#BE9423"/>
<rect x="72.08" y="225.11" width="1.3" height="1.3" fill="#BE9423"/>
<rect x="66.60" y="219.53" width="1.3" height="1.3" fill="#BE9423"/>
<rect x="67.75" y="229.62" width="1.3" height="1.3" fill="#BE9423"/>
<rect x="67.60" y="230.15" width="1.3" height="1.3" fill="#BE9423"/>
<rect x="70.53" y="226.53" width="1.3" height="1.3" fill="#BE9423"/>
<rect x="65.25" y="216.41" width="1.3" height="1.3" fill="#BE9423"/>
<rect x="70.17" y="229.80" width="1.3" height="1.3" fill="#BE9423"/>
<rect x="65.64" y="221.87" width="1.3" height="1.3" fill="#BE9423"/>
<rect x="71.52" y="220.93" width="1.3" height="1.3" fill="#BE9423"/>
<rect x="66.26" y="213.90" width="1.3" height="1.3" fill="#BE9423"/>
<rect x="72.21" y="218.96" width="1.3" height="1.3" fill="#BE9423"/>
<rect x="67.66" y="223.29" width="1.3" height="1.3" fill="#BE9423"/>
<rect x="72.37" y="212.51" width="1.3" height="1.3" fill="#BE9423"/>
<rect x="69.16" y="224.13" width="1.3" height="1.3" fill="#BE9423"/>
<rect x="71.15" y="210.64" width="1.3" height="1.3" fill="#BE9423"/>
<rect x="73.30" y="229.44" width="1.3" height="1.3" fill="#BE9423"/>
<rect x="68.38" y="209.50" width="1.3" height="1.3" fill="#BE9423"/>
<rect x="63.44" y="210.26" width="1.3" height="1.3" fill="#BE9423"/>
<rect x="68.07" y="224.98" width="1.3" height="1.3" fill="#BE9423"/>
<rect x="67.86" y="215.36" width="1.3" height="1.3" fill="#BE9423"/>
<rect x="65.72" y="229.52" width="1.3" height="1.3" fill="#BE9423"/>
<rect x="68.45" y="214.50" width="1.3" height="1.3" fill="#BE9423"/>
<rect x="66.77" y="220.59" width="1.3" height="1.3" fill="#BE9423"/>
<rect x="68.86" y="216.00" width="1.3" height="1.3" fill="#BE9423"/>
<rect x="71.82" y="215.49" width="1.3" height="1.3" fill="#BE9423"/>
<rect x="72.50" y="220.32" width="1.3" height="1.3" fill="#BE9423"/>
<rect x="64.56" y="227.17" width="1.3" height="1.3" fill="#BE9423"/>
<rect x="70.99" y="219.30" width="1.3" height="1.3" fill="#BE9423"/>
<rect x="69.95" y="218.56" width="1.3" height="1.3" fill="#BE9423"/>
<rect x="67.33" y="225.33" width="1.3" height="1.3" fill="#BE9423"/>
<rect x="67.91" y="217.56" width="1.3" height="1.3" fill="#BE9423"/>
<rect x="68.88" y="216.91" width="1.3" height="1.3" fill="#BE9423"/>
<rect x="73.24" y="212.29" width="1.3" height="1.3" fill="#BE9423"/>
<rect x="63.97" y="216.00" width="1.3" height="1.3" fill="#BE9423"/>
<rect x="73.41" y="223.32" width="1.3" height="1.3" fill="#BE9423"/>
<rect x="68.77" y="224.32" width="1.3" height="1.3" fill="#BE9423"/>
<rect x="70.59" y="214.09" width="1.3" height="1.3" fill="#BE9423"/>
<rect x="66.85" y="209.50" width="1.3" height="1.3" fill="#BE9423"/>
<rect x="66.39" y="226.81" width="1.3" height="1.3" fill="#BE9423"/>
<rect x="65.65" y="224.39" width="1.3" height="1.3" fill="#BE9423"/>
<rect x="71.65" y="228.24" width="1.3" height="1.3" fill="#BE9423"/>
<rect x="66.10" y="217.86" width="1.3" height="1.3" fill="#BE9423"/>
<rect x="63.37" y="227.98" width="1.3" height="1.3" fill="#BE9423"/>
<rect x="63.57" y="214.17" width="1.3" height="1.3" fill="#BE9423"/>
<rect x="64.24" y="227.53" width="1.3" height="1.3" fill="#BE9423"/>
<rect x="70.32" y="224.81" width="1.3" height="1.3" fill="#BE9423"/>
<rect x="70.15" y="222.88" width="1.3" height="1.3" fill="#BE9423"/>
<rect x="71.83" y="214.14" width="1.3" height="1.3" fill="#BE9423"/>
<rect x="72.01" y="230.05" width="1.3" height="1.3" fill="#BE9423"/>
<rect x="65.08" y="215.84" width="1.3" height="1.3" fill="#DE746C"/>
<rect x="64.17" y="226.64" width="1.3" height="1.3" fill="#DE746C"/>
<rect x="71.31" y="215.17" width="1.3" height="1.3" fill="#DE746C"/>
<rect x="72.72" y="212.04" width="1.3" height="1.3" fill="#DE746C"/>
<rect x="74.25" y="212.93" width="1.3" height="1.3" fill="#DE746C"/>
<rect x="65.03" y="212.56" width="1.3" height="1.3" fill="#DE746C"/>
<rect x="70.67" y="212.91" width="1.3" height="1.3" fill="#DE746C"/>
<rect x="70.19" y="216.78" width="1.3" height="1.3" fill="#DE746C"/>
<rect x="70.42" y="221.36" width="1.3" height="1.3" fill="#6CBE6C"/>
<rect x="67.07" y="227.57" width="1.3" height="1.3" fill="#6CBE6C"/>
<rect x="69.84" y="221.61" width="1.3" height="1.3" fill="#6CBE6C"/>
<rect x="68.65" y="222.23" width="1.3" height="1.3" fill="#6CBE6C"/>
<rect x="72.00" y="229.40" width="6.00" height="1.45" fill="#BE9423"/>
<rect x="72.00" y="230.55" width="6.00" height="1.45" fill="#BE9423"/>
<rect x="72.00" y="231.70" width="6.00" height="1.45" fill="#BE9423"/>
<rect x="72.00" y="232.85" width="6.00" height="1.45" fill="#BE9423"/>
<rect x="72.00" y="234.00" width="6.00" height="1.45" fill="#BE9423"/>
<rect x="72.00" y="235.15" width="6.00" height="1.45" fill="#BE9423"/>
<rect x="72.00" y="236.30" width="6.00" height="1.45" fill="#BE9423"/>
<rect x="72.00" y="237.45" width="6.00" height="1.45" fill="#BE9423"/>
<rect x="72.00" y="238.60" width="6.00" height="1.45" fill="#BE9423"/>
<rect x="72.00" y="239.75" width="6.00" height="1.45" fill="#BE9423"/>
<rect x="72.00" y="240.90" width="6.00" height="0.40" fill="#BE9423"/>
<rect x="72.00" y="229.40" width="1.30" height="1.30" fill="#6CBE6C"/>
<rect x="73.15" y="229.40" width="1.30" height="1.30" fill="#BE9423"/>
<rect x="74.30" y="229.40" width="1.30" height="1.30" fill="#BE9423"/>
<rect x="75.45" y="229.40" width="1.30" height="1.30" fill="#BE9423"/>
<rect x="76.60" y="229.40" width="1.30" height="1.30" fill="#BE9423"/>
<rect x="77.75" y="229.40" width="0.40" height="1.30" fill="#BE9423"/>
<rect x="72.00" y="230.55" width="1.30" height="1.30" fill="#BE9423"/>
<rect x="74.30" y="230.55" width="1.30" height="1.30" fill="#BE9423"/>
<rect x="75.45" y="230.55" width="1.30" height="1.30" fill="#BE9423"/>
<rect x="76.60" y="230.55" width="1.30" height="1.30" fill="#BE9423"/>
<rect x="77.75" y="230.55" width="0.40" height="1.30" fill="#BE9423"/>
<rect x="72.00" y="231.70" width="1.30" height="1.30" fill="#BE9423"/>
<rect x="73.15" y="231.70" width="1.30" height="1.30" fill="#BE9423"/>
<rect x="74.30" y="231.70" width="1.30" height="1.30" fill="#6CBE6C"/>
<rect x="75.45" y="231.70" width="1.30" height="1.30" fill="#BE9423"/>
<rect x="76.60" y="231.70" width="1.30" height="1.30" fill="#BE9423"/>
<rect x="77.75" y="231.70" width="0.40" height="1.30" fill="#BE9423"/>
<rect x="72.00" y="232.85" width="1.30" height="1.30" fill="#BE9423"/>
<rect x="73.15" y="232.85" width="1.30" height="1.30" fill="#BE9423"/>
<rect x="74.30" y="232.85" width="1.30" height="1.30" fill="#BE9423"/>
<rect x="75.45" y="232.85" width="1.30" height="1.30" fill="#BE9423"/>
<rect x="76.60" y="232.85" width="1.30" height="1.30" fill="#BE9423"/>
<rect x="77.75" y="232.85" width="0.40" height="1.30" fill="#BE9423"/>
<rect x="72.00" y="234.00" width="1.30" height="1.30" fill="#BE9423"/>
<rect x="73.15" y="234.00" width="1.30" height="1.30" fill="#BE9423"/>
<rect x="74.30" y="234.00" width="1.30" height="1.30" fill="#BE9423"/>
<rect x="75.45" y="234.00" width="1.30" height="1.30" fill="#BE9423"/>
<rect x="76.60" y="234.00" width="1.30" height="1.30" fill="#BE9423"/>
<rect x="77.75" y="234.00" width="0.40" height="1.30" fill="#BE9423"/>
<rect x="72.00" y="235.15" width="1.30" height="1.30" fill="#BE9423"/>
<rect x="73.15" y="235.15" width="1.30" height="1.30" fill="#BE9423"/>
<rect x="74.30" y="235.15" width="1.30" height="1.30" fill="#BE9423"/>
<rect x="75.45" y="235.15" width="1.30" height="1.30" fill="#BE9423"/>
<rect x="76.60" y="235.15" width="1.30" height="1.30" fill="#BE9423"/>
<rect x="77.75" y="235.15" width="0.40" height="1.30" fill="#BE9423"/>
<rect x="72.00" y="236.30" width="1.30" height="1.30" fill="#6CBE6C"/>
<rect x="73.15" y="236.30" width="1.30" height="1.30" fill="#BE9423"/>
<rect x="74.30" y="236.30" width="1.30" height="1.30" fill="#BE9423"/>
<rect x="75.45" y="236.30" width="1.30" height="1.30" fill="#BE9423"/>
<rect x="76.60" y="236.30" width="1.30" height="1.30" fill="#BE9423"/>
<rect x="77.75" y="236.30" width="0.40" height="1.30" fill="#BE9423"/>
<rect x="72.00" y="237.45" width="1.30" height="1.30" fill="#BE9423"/>
<rect x="73.15" y="237.45" width="1.30" height="1.30" fill="#BE9423"/>
<rect x="74.30" y="237.45" width="1.30" height="1.30" fill="#BE9423"/>
<rect x="75.45" y="237.45" width="1.30" height="1.30" fill="#BE9423"/>
<rect x="76.60" y="237.45" width="1.30" height="1.30" fill="#BE9423"/>
<rect x="77.75" y="237.45" width="0.40" height="1.30" fill="#6CBE6C"/>
<rect x="72.00" y="238.60" width="1.30" height="1.30" fill="#BE9423"/>
<rect x="73.15" y="238.60" width="1.30" height="1.30" fill="#BE9423"/>
<rect x="74.30" y="238.60" width="1.30" height="1.30" fill="#BE9423"/>
<rect x="75.45" y="238.60" width="1.30" height="1.30" fill="#BE9423"/>
<rect x="76.60" y="238.60" width="1.30" height="1.30" fill="#6CBE6C"/>
<rect x="77.75" y="238.60" width="0.40" height="1.30" fill="#BE9423"/>
<rect x="72.00" y="239.75" width="1.30" height="1.30" fill="#BE9423"/>
<rect x="73.15" y="239.75" width="1.30" height="1.30" fill="#BE9423"/>
<rect x="74.30" y="239.75" width="1.30" height="1.30" fill="#BE9423"/>
<rect x="75.45" y="239.75" width="1.30" height="1.30" fill="#BE9423"/>
<rect x="76.60" y="239.75" width="1.30" height="1.30" fill="#BE9423"/>
<rect x="77.75" y="239.75" width="0.40" height="1.30" fill="#BE9423"/>
<rect x="72.00" y="240.90" width="1.30" height="0.55" fill="#BE9423"/>
<rect x="73.15" y="240.90" width="1.30" height="0.55" fill="#BE9423"/>
<rect x="74.30" y="240.90" width="1.30" height="0.55" fill="#BE9423"/>
<rect x="75.45" y="240.90" width="1.30" height="0.55" fill="#BE9423"/>
<rect x="76.60" y="240.90" width="1.30" height="0.55" fill="#BE9423"/>
<rect x="77.75" y="240.90" width="0.40" height="0.55" fill="#BE9423"/>
<rect x="77.50" y="230.06" width="1.1" height="1.1" fill="#BE9423"/>
<rect x="77.50" y="230.47" width="1.1" height="1.1" fill="#BE9423"/>
<rect x="71.40" y="230.96" width="1.1" height="1.1" fill="#BE9423"/>
<rect x="77.50" y="234.15" width="1.1" height="1.1" fill="#BE9423"/>
<rect x="71.40" y="239.07" width="1.1" height="1.1" fill="#BE9423"/>
<rect x="79.60" y="212.70" width="5.20" height="1.45" fill="#E060C8"/>
<rect x="79.60" y="213.85" width="5.20" height="1.45" fill="#E060C8"/>
<rect x="79.60" y="215.00" width="5.20" height="1.45" fill="#E060C8"/>
<rect x="79.60" y="216.15" width="5.20" height="1.45" fill="#E060C8"/>
<rect x="79.60" y="217.30" width="5.20" height="1.45" fill="#E060C8"/>
<rect x="79.60" y="218.45" width="5.20" height="1.45" fill="#E060C8"/>
<rect x="79.60" y="219.60" width="5.20" height="1.45" fill="#E060C8"/>
<rect x="79.60" y="220.75" width="5.20" height="1.45" fill="#E060C8"/>
<rect x="79.60" y="221.90" width="5.20" height="1.45" fill="#E060C8"/>
<rect x="79.60" y="223.05" width="5.20" height="1.45" fill="#E060C8"/>
<rect x="79.60" y="224.20" width="5.20" height="1.45" fill="#E060C8"/>
<rect x="79.60" y="225.35" width="5.20" height="1.45" fill="#E060C8"/>
<rect x="79.60" y="226.50" width="5.20" height="0.60" fill="#E060C8"/>
<rect x="79.60" y="212.70" width="1.30" height="1.30" fill="#E060C8"/>
<rect x="80.75" y="212.70" width="1.30" height="1.30" fill="#E060C8"/>
<rect x="81.90" y="212.70" width="1.30" height="1.30" fill="#E060C8"/>
<rect x="83.05" y="212.70" width="1.30" height="1.30" fill="#E060C8"/>
<rect x="84.20" y="212.70" width="0.75" height="1.30" fill="#E060C8"/>
<rect x="79.60" y="213.85" width="1.30" height="1.30" fill="#E060C8"/>
<rect x="80.75" y="213.85" width="1.30" height="1.30" fill="#DE746C"/>
<rect x="81.90" y="213.85" width="1.30" height="1.30" fill="#E060C8"/>
<rect x="83.05" y="213.85" width="1.30" height="1.30" fill="#E060C8"/>
<rect x="84.20" y="213.85" width="0.75" height="1.30" fill="#E060C8"/>
<rect x="79.60" y="215.00" width="1.30" height="1.30" fill="#E060C8"/>
<rect x="80.75" y="215.00" width="1.30" height="1.30" fill="#E060C8"/>
<rect x="81.90" y="215.00" width="1.30" height="1.30" fill="#E060C8"/>
<rect x="83.05" y="215.00" width="1.30" height="1.30" fill="#E060C8"/>
<rect x="84.20" y="215.00" width="0.75" height="1.30" fill="#E060C8"/>
<rect x="79.60" y="216.15" width="1.30" height="1.30" fill="#E060C8"/>
<rect x="80.75" y="216.15" width="1.30" height="1.30" fill="#DE746C"/>
<rect x="81.90" y="216.15" width="1.30" height="1.30" fill="#E060C8"/>
<rect x="83.05" y="216.15" width="1.30" height="1.30" fill="#E060C8"/>
<rect x="84.20" y="216.15" width="0.75" height="1.30" fill="#E060C8"/>
<rect x="79.60" y="217.30" width="1.30" height="1.30" fill="#E060C8"/>
<rect x="80.75" y="217.30" width="1.30" height="1.30" fill="#E060C8"/>
<rect x="81.90" y="217.30" width="1.30" height="1.30" fill="#E060C8"/>
<rect x="83.05" y="217.30" width="1.30" height="1.30" fill="#E060C8"/>
<rect x="84.20" y="217.30" width="0.75" height="1.30" fill="#E060C8"/>
<rect x="79.60" y="218.45" width="1.30" height="1.30" fill="#E060C8"/>
<rect x="80.75" y="218.45" width="1.30" height="1.30" fill="#E060C8"/>
<rect x="81.90" y="218.45" width="1.30" height="1.30" fill="#E060C8"/>
<rect x="83.05" y="218.45" width="1.30" height="1.30" fill="#E060C8"/>
<rect x="84.20" y="218.45" width="0.75" height="1.30" fill="#DE746C"/>
<rect x="79.60" y="219.60" width="1.30" height="1.30" fill="#E060C8"/>
<rect x="80.75" y="219.60" width="1.30" height="1.30" fill="#DE746C"/>
<rect x="81.90" y="219.60" width="1.30" height="1.30" fill="#E060C8"/>
<rect x="83.05" y="219.60" width="1.30" height="1.30" fill="#E060C8"/>
<rect x="84.20" y="219.60" width="0.75" height="1.30" fill="#E060C8"/>
<rect x="79.60" y="220.75" width="1.30" height="1.30" fill="#E060C8"/>
<rect x="80.75" y="220.75" width="1.30" height="1.30" fill="#E060C8"/>
<rect x="81.90" y="220.75" width="1.30" height="1.30" fill="#E060C8"/>
<rect x="83.05" y="220.75" width="1.30" height="1.30" fill="#E060C8"/>
<rect x="84.20" y="220.75" width="0.75" height="1.30" fill="#E060C8"/>
<rect x="79.60" y="221.90" width="1.30" height="1.30" fill="#E060C8"/>
<rect x="80.75" y="221.90" width="1.30" height="1.30" fill="#E060C8"/>
<rect x="81.90" y="221.90" width="1.30" height="1.30" fill="#E060C8"/>
<rect x="83.05" y="221.90" width="1.30" height="1.30" fill="#DE746C"/>
<rect x="79.60" y="223.05" width="1.30" height="1.30" fill="#E060C8"/>
<rect x="80.75" y="223.05" width="1.30" height="1.30" fill="#E060C8"/>
<rect x="81.90" y="223.05" width="1.30" height="1.30" fill="#E060C8"/>
<rect x="83.05" y="223.05" width="1.30" height="1.30" fill="#E060C8"/>
<rect x="84.20" y="223.05" width="0.75" height="1.30" fill="#E060C8"/>
<rect x="79.60" y="224.20" width="1.30" height="1.30" fill="#E060C8"/>
<rect x="80.75" y="224.20" width="1.30" height="1.30" fill="#E060C8"/>
<rect x="81.90" y="224.20" width="1.30" height="1.30" fill="#E060C8"/>
<rect x="83.05" y="224.20" width="1.30" height="1.30" fill="#E060C8"/>
<rect x="79.60" y="225.35" width="1.30" height="1.30" fill="#E060C8"/>
<rect x="80.75" y="225.35" width="1.30" height="1.30" fill="#DE746C"/>
<rect x="81.90" y="225.35" width="1.30" height="1.30" fill="#E060C8"/>
<rect x="83.05" y="225.35" width="1.30" height="1.30" fill="#E060C8"/>
<rect x="84.20" y="225.35" width="0.75" height="1.30" fill="#E060C8"/>
<rect x="79.60" y="226.50" width="1.30" height="0.75" fill="#E060C8"/>
<rect x="80.75" y="226.50" width="1.30" height="0.75" fill="#E060C8"/>
<rect x="81.90" y="226.50" width="1.30" height="0.75" fill="#E060C8"/>
<rect x="83.05" y="226.50" width="1.30" height="0.75" fill="#E060C8"/>
<rect x="84.20" y="226.50" width="0.75" height="0.75" fill="#DE746C"/>
<rect x="79.00" y="212.97" width="1.1" height="1.1" fill="#E060C8"/>
<rect x="84.30" y="213.97" width="1.1" height="1.1" fill="#E060C8"/>
<rect x="79.00" y="214.17" width="1.1" height="1.1" fill="#E060C8"/>
<rect x="79.00" y="224.31" width="1.1" height="1.1" fill="#E060C8"/>
<rect x="84.30" y="223.66" width="1.1" height="1.1" fill="#E060C8"/>
<rect x="79.00" y="215.84" width="1.1" height="1.1" fill="#E060C8"/>
<rect x="84.30" y="219.09" width="1.1" height="1.1" fill="#E060C8"/>
<rect x="78.56" y="216.68" width="1.3" height="1.3" fill="#BE9423"/>
<rect x="76.74" y="213.49" width="1.3" height="1.3" fill="#BE9423"/>
<rect x="76.55" y="220.54" width="1.3" height="1.3" fill="#BE9423"/>
<rect x="78.61" y="215.55" width="1.3" height="1.3" fill="#BE9423"/>
<rect x="79.23" y="221.11" width="1.3" height="1.3" fill="#BE9423"/>
<rect x="76.97" y="213.15" width="1.3" height="1.3" fill="#BE9423"/>
<rect x="39.65" y="236.75" width="1.3" height="1.3" fill="#DE746C"/>
<rect x="44.49" y="235.98" width="1.3" height="1.3" fill="#DE746C"/>
<rect x="46.64" y="236.06" width="1.3" height="1.3" fill="#DE746C"/>
<rect x="41.13" y="237.03" width="1.3" height="1.3" fill="#DE746C"/>
<rect x="48.74" y="232.70" width="1.3" height="1.3" fill="#DE746C"/>
<rect x="43.18" y="233.33" width="1.3" height="1.3" fill="#DE746C"/>
<text x="0" y="0" font-size="9.2" text-anchor="middle" fill="#1e1e1e" stroke="#1e1e1e" stroke-width="0.18" transform="translate(55.5,174.9) scale(0.87,1)">Naïve</text>
<text x="0" y="0" font-size="9.2" text-anchor="start" fill="#1e1e1e" stroke="#1e1e1e" stroke-width="0.18" transform="translate(88.3,217.9) scale(0.87,1)">Granulo</text>
<text x="0" y="0" font-size="9.2" text-anchor="start" fill="#1e1e1e" stroke="#1e1e1e" stroke-width="0.18" transform="translate(88.3,227.5) scale(0.93,1)">committed</text>
<path d="M31.5,268.8 H52.5 M60.2,273.1 H80.4" stroke="#444" stroke-width="1"/>
<text x="0" y="0" font-size="9.2" text-anchor="end" fill="#1e1e1e" stroke="#1e1e1e" stroke-width="0.18" transform="translate(52.1,278.5) scale(0.87,1)">Ery</text>
<text x="0" y="0" font-size="9.2" text-anchor="end" fill="#1e1e1e" stroke="#1e1e1e" stroke-width="0.18" transform="translate(52.1,288.1) scale(0.93,1)">committed</text>
<text x="0" y="0" font-size="9.2" text-anchor="start" fill="#1e1e1e" stroke="#1e1e1e" stroke-width="0.18" transform="translate(60.2,282.7) scale(0.87,1)">Mega</text>
<text x="0" y="0" font-size="9.2" text-anchor="start" fill="#1e1e1e" stroke="#1e1e1e" stroke-width="0.18" transform="translate(60.8,292.3) scale(0.93,1)">committed</text>
<rect x="48.30" y="337.40" width="3.1" height="52.40" fill="#A9D3DA" stroke="#97C7CF" stroke-width="0.4"/>
<rect x="48.10" y="337.20" width="3.5" height="0.9" fill="#97C7CF"/>
<rect x="52.56" y="345.10" width="3.1" height="44.70" fill="#A9D3DA" stroke="#97C7CF" stroke-width="0.4"/>
<rect x="52.36" y="344.90" width="3.5" height="0.9" fill="#97C7CF"/>
<rect x="56.83" y="347.50" width="3.1" height="42.30" fill="#A9D3DA" stroke="#97C7CF" stroke-width="0.4"/>
<rect x="56.63" y="347.30" width="3.5" height="0.9" fill="#97C7CF"/>
<rect x="61.09" y="367.00" width="3.1" height="22.80" fill="#A9D3DA" stroke="#97C7CF" stroke-width="0.4"/>
<rect x="60.89" y="366.80" width="3.5" height="0.9" fill="#97C7CF"/>
<rect x="65.35" y="367.00" width="3.1" height="22.80" fill="#A9D3DA" stroke="#97C7CF" stroke-width="0.4"/>
<rect x="65.15" y="366.80" width="3.5" height="0.9" fill="#97C7CF"/>
<rect x="69.61" y="367.00" width="3.1" height="22.80" fill="#A9D3DA" stroke="#97C7CF" stroke-width="0.4"/>
<rect x="69.41" y="366.80" width="3.5" height="0.9" fill="#97C7CF"/>
<rect x="73.88" y="371.30" width="3.1" height="18.50" fill="#A9D3DA" stroke="#97C7CF" stroke-width="0.4"/>
<rect x="73.68" y="371.10" width="3.5" height="0.9" fill="#97C7CF"/>
<rect x="78.14" y="374.20" width="3.1" height="15.60" fill="#A9D3DA" stroke="#97C7CF" stroke-width="0.4"/>
<rect x="77.94" y="374.00" width="3.5" height="0.9" fill="#97C7CF"/>
<rect x="82.40" y="374.60" width="3.1" height="15.20" fill="#A9D3DA" stroke="#97C7CF" stroke-width="0.4"/>
<rect x="82.20" y="374.40" width="3.5" height="0.9" fill="#97C7CF"/>
<rect x="86.67" y="376.50" width="3.1" height="13.30" fill="#A9D3DA" stroke="#97C7CF" stroke-width="0.4"/>
<rect x="86.47" y="376.30" width="3.5" height="0.9" fill="#97C7CF"/>
<rect x="90.93" y="378.20" width="3.1" height="11.60" fill="#A9D3DA" stroke="#97C7CF" stroke-width="0.4"/>
<rect x="90.73" y="378.00" width="3.5" height="0.9" fill="#97C7CF"/>
<rect x="95.19" y="378.50" width="3.1" height="11.30" fill="#A9D3DA" stroke="#97C7CF" stroke-width="0.4"/>
<rect x="94.99" y="378.30" width="3.5" height="0.9" fill="#97C7CF"/>
<rect x="99.46" y="378.90" width="3.1" height="10.90" fill="#A9D3DA" stroke="#97C7CF" stroke-width="0.4"/>
<rect x="99.26" y="378.70" width="3.5" height="0.9" fill="#97C7CF"/>
<rect x="103.72" y="379.20" width="3.1" height="10.60" fill="#A9D3DA" stroke="#97C7CF" stroke-width="0.4"/>
<rect x="103.52" y="379.00" width="3.5" height="0.9" fill="#97C7CF"/>
<rect x="107.98" y="379.50" width="3.1" height="10.30" fill="#A9D3DA" stroke="#97C7CF" stroke-width="0.4"/>
<rect x="107.78" y="379.30" width="3.5" height="0.9" fill="#97C7CF"/>
<rect x="112.25" y="380.00" width="3.1" height="9.80" fill="#A9D3DA" stroke="#97C7CF" stroke-width="0.4"/>
<rect x="112.05" y="379.80" width="3.5" height="0.9" fill="#97C7CF"/>
<rect x="116.51" y="380.00" width="3.1" height="9.80" fill="#A9D3DA" stroke="#97C7CF" stroke-width="0.4"/>
<rect x="116.31" y="379.80" width="3.5" height="0.9" fill="#97C7CF"/>
<rect x="120.77" y="332.90" width="3.1" height="56.90" fill="#D98E8A" stroke="#CC7872" stroke-width="0.4"/>
<rect x="120.57" y="332.70" width="3.5" height="0.9" fill="#CC7872"/>
<rect x="125.03" y="365.30" width="3.1" height="24.50" fill="#D98E8A" stroke="#CC7872" stroke-width="0.4"/>
<rect x="124.83" y="365.10" width="3.5" height="0.9" fill="#CC7872"/>
<rect x="129.30" y="372.10" width="3.1" height="17.70" fill="#D98E8A" stroke="#CC7872" stroke-width="0.4"/>
<rect x="129.10" y="371.90" width="3.5" height="0.9" fill="#CC7872"/>
<rect x="133.56" y="373.30" width="3.1" height="16.50" fill="#D98E8A" stroke="#CC7872" stroke-width="0.4"/>
<rect x="133.36" y="373.10" width="3.5" height="0.9" fill="#CC7872"/>
<rect x="137.82" y="375.60" width="3.1" height="14.20" fill="#D98E8A" stroke="#CC7872" stroke-width="0.4"/>
<rect x="137.62" y="375.40" width="3.5" height="0.9" fill="#CC7872"/>
<rect x="142.09" y="376.00" width="3.1" height="13.80" fill="#D98E8A" stroke="#CC7872" stroke-width="0.4"/>
<rect x="141.89" y="375.80" width="3.5" height="0.9" fill="#CC7872"/>
<rect x="146.35" y="376.70" width="3.1" height="13.10" fill="#D98E8A" stroke="#CC7872" stroke-width="0.4"/>
<rect x="146.15" y="376.50" width="3.5" height="0.9" fill="#CC7872"/>
<rect x="150.61" y="377.50" width="3.1" height="12.30" fill="#D98E8A" stroke="#CC7872" stroke-width="0.4"/>
<rect x="150.41" y="377.30" width="3.5" height="0.9" fill="#CC7872"/>
<rect x="154.88" y="378.10" width="3.1" height="11.70" fill="#D98E8A" stroke="#CC7872" stroke-width="0.4"/>
<rect x="154.68" y="377.90" width="3.5" height="0.9" fill="#CC7872"/>
<rect x="159.14" y="379.20" width="3.1" height="10.60" fill="#D98E8A" stroke="#CC7872" stroke-width="0.4"/>
<rect x="158.94" y="379.00" width="3.5" height="0.9" fill="#CC7872"/>
<rect x="163.40" y="379.60" width="3.1" height="10.20" fill="#D98E8A" stroke="#CC7872" stroke-width="0.4"/>
<rect x="163.20" y="379.40" width="3.5" height="0.9" fill="#CC7872"/>
<rect x="167.66" y="379.60" width="3.1" height="10.20" fill="#D98E8A" stroke="#CC7872" stroke-width="0.4"/>
<rect x="167.46" y="379.40" width="3.5" height="0.9" fill="#CC7872"/>
<rect x="171.93" y="379.80" width="3.1" height="10.00" fill="#D98E8A" stroke="#CC7872" stroke-width="0.4"/>
<rect x="171.73" y="379.60" width="3.5" height="0.9" fill="#CC7872"/>
<rect x="176.19" y="380.20" width="3.1" height="9.60" fill="#D98E8A" stroke="#CC7872" stroke-width="0.4"/>
<rect x="175.99" y="380.00" width="3.5" height="0.9" fill="#CC7872"/>
<rect x="180.45" y="352.80" width="3.1" height="37.00" fill="#9BB23A" stroke="#8AA42A" stroke-width="0.4"/>
<rect x="180.25" y="352.60" width="3.5" height="0.9" fill="#8AA42A"/>
<rect x="184.72" y="358.60" width="3.1" height="31.20" fill="#9BB23A" stroke="#8AA42A" stroke-width="0.4"/>
<rect x="184.52" y="358.40" width="3.5" height="0.9" fill="#8AA42A"/>
<rect x="188.98" y="366.20" width="3.1" height="23.60" fill="#9BB23A" stroke="#8AA42A" stroke-width="0.4"/>
<rect x="188.78" y="366.00" width="3.5" height="0.9" fill="#8AA42A"/>
<rect x="193.24" y="367.50" width="3.1" height="22.30" fill="#9BB23A" stroke="#8AA42A" stroke-width="0.4"/>
<rect x="193.04" y="367.30" width="3.5" height="0.9" fill="#8AA42A"/>
<rect x="197.50" y="374.60" width="3.1" height="15.20" fill="#9BB23A" stroke="#8AA42A" stroke-width="0.4"/>
<rect x="197.30" y="374.40" width="3.5" height="0.9" fill="#8AA42A"/>
<rect x="201.77" y="376.30" width="3.1" height="13.50" fill="#9BB23A" stroke="#8AA42A" stroke-width="0.4"/>
<rect x="201.57" y="376.10" width="3.5" height="0.9" fill="#8AA42A"/>
<rect x="206.03" y="376.60" width="3.1" height="13.20" fill="#9BB23A" stroke="#8AA42A" stroke-width="0.4"/>
<rect x="205.83" y="376.40" width="3.5" height="0.9" fill="#8AA42A"/>
<rect x="210.29" y="376.80" width="3.1" height="13.00" fill="#9BB23A" stroke="#8AA42A" stroke-width="0.4"/>
<rect x="210.09" y="376.60" width="3.5" height="0.9" fill="#8AA42A"/>
<rect x="214.56" y="377.50" width="3.1" height="12.30" fill="#9BB23A" stroke="#8AA42A" stroke-width="0.4"/>
<rect x="214.36" y="377.30" width="3.5" height="0.9" fill="#8AA42A"/>
<rect x="218.82" y="379.40" width="3.1" height="10.40" fill="#9BB23A" stroke="#8AA42A" stroke-width="0.4"/>
<rect x="218.62" y="379.20" width="3.5" height="0.9" fill="#8AA42A"/>
<rect x="223.08" y="358.60" width="3.1" height="31.20" fill="#A9CAEF" stroke="#97BCEA" stroke-width="0.4"/>
<rect x="222.88" y="358.40" width="3.5" height="0.9" fill="#97BCEA"/>
<rect x="227.35" y="378.90" width="3.1" height="10.90" fill="#A9CAEF" stroke="#97BCEA" stroke-width="0.4"/>
<rect x="227.15" y="378.70" width="3.5" height="0.9" fill="#97BCEA"/>
<rect x="231.61" y="379.20" width="3.1" height="10.60" fill="#A9CAEF" stroke="#97BCEA" stroke-width="0.4"/>
<rect x="231.41" y="379.00" width="3.5" height="0.9" fill="#97BCEA"/>
<rect x="235.87" y="367.50" width="3.1" height="22.30" fill="#BC9A30" stroke="#AD8A22" stroke-width="0.4"/>
<rect x="235.67" y="367.30" width="3.5" height="0.9" fill="#AD8A22"/>
<rect x="240.13" y="368.40" width="3.1" height="21.40" fill="#BC9A30" stroke="#AD8A22" stroke-width="0.4"/>
<rect x="239.94" y="368.20" width="3.5" height="0.9" fill="#AD8A22"/>
<rect x="244.40" y="370.10" width="3.1" height="19.70" fill="#BC9A30" stroke="#AD8A22" stroke-width="0.4"/>
<rect x="244.20" y="369.90" width="3.5" height="0.9" fill="#AD8A22"/>
<rect x="248.66" y="373.30" width="3.1" height="16.50" fill="#BC9A30" stroke="#AD8A22" stroke-width="0.4"/>
<rect x="248.46" y="373.10" width="3.5" height="0.9" fill="#AD8A22"/>
<rect x="252.92" y="374.90" width="3.1" height="14.90" fill="#BC9A30" stroke="#AD8A22" stroke-width="0.4"/>
<rect x="252.72" y="374.70" width="3.5" height="0.9" fill="#AD8A22"/>
<rect x="257.19" y="374.90" width="3.1" height="14.90" fill="#BC9A30" stroke="#AD8A22" stroke-width="0.4"/>
<rect x="256.99" y="374.70" width="3.5" height="0.9" fill="#AD8A22"/>
<rect x="261.45" y="375.50" width="3.1" height="14.30" fill="#BC9A30" stroke="#AD8A22" stroke-width="0.4"/>
<rect x="261.25" y="375.30" width="3.5" height="0.9" fill="#AD8A22"/>
<rect x="265.71" y="377.00" width="3.1" height="12.80" fill="#BC9A30" stroke="#AD8A22" stroke-width="0.4"/>
<rect x="265.51" y="376.80" width="3.5" height="0.9" fill="#AD8A22"/>
<rect x="269.98" y="378.10" width="3.1" height="11.70" fill="#BC9A30" stroke="#AD8A22" stroke-width="0.4"/>
<rect x="269.78" y="377.90" width="3.5" height="0.9" fill="#AD8A22"/>
<rect x="274.24" y="378.80" width="3.1" height="11.00" fill="#BC9A30" stroke="#AD8A22" stroke-width="0.4"/>
<rect x="274.04" y="378.60" width="3.5" height="0.9" fill="#AD8A22"/>
<rect x="278.50" y="378.80" width="3.1" height="11.00" fill="#BC9A30" stroke="#AD8A22" stroke-width="0.4"/>
<rect x="278.30" y="378.60" width="3.5" height="0.9" fill="#AD8A22"/>
<rect x="282.76" y="379.20" width="3.1" height="10.60" fill="#BC9A30" stroke="#AD8A22" stroke-width="0.4"/>
<rect x="282.56" y="379.00" width="3.5" height="0.9" fill="#AD8A22"/>
<rect x="287.03" y="379.20" width="3.1" height="10.60" fill="#BC9A30" stroke="#AD8A22" stroke-width="0.4"/>
<rect x="286.83" y="379.00" width="3.5" height="0.9" fill="#AD8A22"/>
<rect x="291.29" y="379.40" width="3.1" height="10.40" fill="#BC9A30" stroke="#AD8A22" stroke-width="0.4"/>
<rect x="291.09" y="379.20" width="3.5" height="0.9" fill="#AD8A22"/>
<rect x="295.55" y="364.20" width="3.1" height="25.60" fill="#86C175" stroke="#73B462" stroke-width="0.4"/>
<rect x="295.35" y="364.00" width="3.5" height="0.9" fill="#73B462"/>
<rect x="299.82" y="364.50" width="3.1" height="25.30" fill="#86C175" stroke="#73B462" stroke-width="0.4"/>
<rect x="299.62" y="364.30" width="3.5" height="0.9" fill="#73B462"/>
<rect x="304.08" y="364.50" width="3.1" height="25.30" fill="#86C175" stroke="#73B462" stroke-width="0.4"/>
<rect x="303.88" y="364.30" width="3.5" height="0.9" fill="#73B462"/>
<rect x="308.34" y="366.20" width="3.1" height="23.60" fill="#86C175" stroke="#73B462" stroke-width="0.4"/>
<rect x="308.14" y="366.00" width="3.5" height="0.9" fill="#73B462"/>
<rect x="312.61" y="367.10" width="3.1" height="22.70" fill="#86C175" stroke="#73B462" stroke-width="0.4"/>
<rect x="312.41" y="366.90" width="3.5" height="0.9" fill="#73B462"/>
<rect x="316.87" y="369.40" width="3.1" height="20.40" fill="#86C175" stroke="#73B462" stroke-width="0.4"/>
<rect x="316.67" y="369.20" width="3.5" height="0.9" fill="#73B462"/>
<rect x="321.13" y="371.40" width="3.1" height="18.40" fill="#86C175" stroke="#73B462" stroke-width="0.4"/>
<rect x="320.93" y="371.20" width="3.5" height="0.9" fill="#73B462"/>
<rect x="325.39" y="373.60" width="3.1" height="16.20" fill="#86C175" stroke="#73B462" stroke-width="0.4"/>
<rect x="325.19" y="373.40" width="3.5" height="0.9" fill="#73B462"/>
<rect x="329.66" y="374.60" width="3.1" height="15.20" fill="#86C175" stroke="#73B462" stroke-width="0.4"/>
<rect x="329.46" y="374.40" width="3.5" height="0.9" fill="#73B462"/>
<rect x="333.92" y="374.90" width="3.1" height="14.90" fill="#86C175" stroke="#73B462" stroke-width="0.4"/>
<rect x="333.72" y="374.70" width="3.5" height="0.9" fill="#73B462"/>
<rect x="338.18" y="377.00" width="3.1" height="12.80" fill="#86C175" stroke="#73B462" stroke-width="0.4"/>
<rect x="337.98" y="376.80" width="3.5" height="0.9" fill="#73B462"/>
<rect x="342.45" y="378.20" width="3.1" height="11.60" fill="#86C175" stroke="#73B462" stroke-width="0.4"/>
<rect x="342.25" y="378.00" width="3.5" height="0.9" fill="#73B462"/>
<rect x="346.71" y="379.20" width="3.1" height="10.60" fill="#86C175" stroke="#73B462" stroke-width="0.4"/>
<rect x="346.51" y="379.00" width="3.5" height="0.9" fill="#73B462"/>
<rect x="350.97" y="334.90" width="3.1" height="54.90" fill="#AD93D1" stroke="#9C80C6" stroke-width="0.4"/>
<rect x="350.77" y="334.70" width="3.5" height="0.9" fill="#9C80C6"/>
<rect x="355.24" y="354.20" width="3.1" height="35.60" fill="#AD93D1" stroke="#9C80C6" stroke-width="0.4"/>
<rect x="355.04" y="354.00" width="3.5" height="0.9" fill="#9C80C6"/>
<rect x="359.50" y="354.20" width="3.1" height="35.60" fill="#AD93D1" stroke="#9C80C6" stroke-width="0.4"/>
<rect x="359.30" y="354.00" width="3.5" height="0.9" fill="#9C80C6"/>
<rect x="363.76" y="357.70" width="3.1" height="32.10" fill="#AD93D1" stroke="#9C80C6" stroke-width="0.4"/>
<rect x="363.56" y="357.50" width="3.5" height="0.9" fill="#9C80C6"/>
<rect x="368.02" y="358.80" width="3.1" height="31.00" fill="#AD93D1" stroke="#9C80C6" stroke-width="0.4"/>
<rect x="367.82" y="358.60" width="3.5" height="0.9" fill="#9C80C6"/>
<rect x="372.29" y="361.40" width="3.1" height="28.40" fill="#AD93D1" stroke="#9C80C6" stroke-width="0.4"/>
<rect x="372.09" y="361.20" width="3.5" height="0.9" fill="#9C80C6"/>
<rect x="376.55" y="363.60" width="3.1" height="26.20" fill="#AD93D1" stroke="#9C80C6" stroke-width="0.4"/>
<rect x="376.35" y="363.40" width="3.5" height="0.9" fill="#9C80C6"/>
<rect x="380.81" y="365.50" width="3.1" height="24.30" fill="#AD93D1" stroke="#9C80C6" stroke-width="0.4"/>
<rect x="380.61" y="365.30" width="3.5" height="0.9" fill="#9C80C6"/>
<rect x="385.08" y="366.20" width="3.1" height="23.60" fill="#AD93D1" stroke="#9C80C6" stroke-width="0.4"/>
<rect x="384.88" y="366.00" width="3.5" height="0.9" fill="#9C80C6"/>
<rect x="389.34" y="366.20" width="3.1" height="23.60" fill="#AD93D1" stroke="#9C80C6" stroke-width="0.4"/>
<rect x="389.14" y="366.00" width="3.5" height="0.9" fill="#9C80C6"/>
<rect x="393.60" y="368.10" width="3.1" height="21.70" fill="#AD93D1" stroke="#9C80C6" stroke-width="0.4"/>
<rect x="393.40" y="367.90" width="3.5" height="0.9" fill="#9C80C6"/>
<rect x="397.87" y="371.40" width="3.1" height="18.40" fill="#AD93D1" stroke="#9C80C6" stroke-width="0.4"/>
<rect x="397.67" y="371.20" width="3.5" height="0.9" fill="#9C80C6"/>
<rect x="402.13" y="375.30" width="3.1" height="14.50" fill="#AD93D1" stroke="#9C80C6" stroke-width="0.4"/>
<rect x="401.93" y="375.10" width="3.5" height="0.9" fill="#9C80C6"/>
<rect x="406.39" y="375.30" width="3.1" height="14.50" fill="#AD93D1" stroke="#9C80C6" stroke-width="0.4"/>
<rect x="406.19" y="375.10" width="3.5" height="0.9" fill="#9C80C6"/>
<rect x="410.66" y="377.20" width="3.1" height="12.60" fill="#AD93D1" stroke="#9C80C6" stroke-width="0.4"/>
<rect x="410.46" y="377.00" width="3.5" height="0.9" fill="#9C80C6"/>
<rect x="414.92" y="378.20" width="3.1" height="11.60" fill="#AD93D1" stroke="#9C80C6" stroke-width="0.4"/>
<rect x="414.72" y="378.00" width="3.5" height="0.9" fill="#9C80C6"/>
<rect x="419.18" y="378.90" width="3.1" height="10.90" fill="#AD93D1" stroke="#9C80C6" stroke-width="0.4"/>
<rect x="418.98" y="378.70" width="3.5" height="0.9" fill="#9C80C6"/>
<rect x="423.44" y="379.40" width="3.1" height="10.40" fill="#AD93D1" stroke="#9C80C6" stroke-width="0.4"/>
<rect x="423.24" y="379.20" width="3.5" height="0.9" fill="#9C80C6"/>
<rect x="427.71" y="353.60" width="3.1" height="36.20" fill="#BE62A8" stroke="#AE5298" stroke-width="0.4"/>
<rect x="427.51" y="353.40" width="3.5" height="0.9" fill="#AE5298"/>
<rect x="431.97" y="355.10" width="3.1" height="34.70" fill="#BE62A8" stroke="#AE5298" stroke-width="0.4"/>
<rect x="431.77" y="354.90" width="3.5" height="0.9" fill="#AE5298"/>
<rect x="436.23" y="370.10" width="3.1" height="19.70" fill="#BE62A8" stroke="#AE5298" stroke-width="0.4"/>
<rect x="436.03" y="369.90" width="3.5" height="0.9" fill="#AE5298"/>
<rect x="440.50" y="371.10" width="3.1" height="18.70" fill="#BE62A8" stroke="#AE5298" stroke-width="0.4"/>
<rect x="440.30" y="370.90" width="3.5" height="0.9" fill="#AE5298"/>
<rect x="444.76" y="371.10" width="3.1" height="18.70" fill="#BE62A8" stroke="#AE5298" stroke-width="0.4"/>
<rect x="444.56" y="370.90" width="3.5" height="0.9" fill="#AE5298"/>
<rect x="449.02" y="372.90" width="3.1" height="16.90" fill="#BE62A8" stroke="#AE5298" stroke-width="0.4"/>
<rect x="448.82" y="372.70" width="3.5" height="0.9" fill="#AE5298"/>
<rect x="453.29" y="374.20" width="3.1" height="15.60" fill="#BE62A8" stroke="#AE5298" stroke-width="0.4"/>
<rect x="453.09" y="374.00" width="3.5" height="0.9" fill="#AE5298"/>
<rect x="457.55" y="379.20" width="3.1" height="10.60" fill="#BE62A8" stroke="#AE5298" stroke-width="0.4"/>
<rect x="457.35" y="379.00" width="3.5" height="0.9" fill="#AE5298"/>
<rect x="461.81" y="379.20" width="3.1" height="10.60" fill="#BE62A8" stroke="#AE5298" stroke-width="0.4"/>
<rect x="461.61" y="379.00" width="3.5" height="0.9" fill="#AE5298"/>
<path d="M43.4,325.9 V392.7" stroke="#222" stroke-width="1.1" fill="none"/>
<path d="M40.2,328.4 H43.4" stroke="#222" stroke-width="1.1"/>
<text x="0" y="0" font-size="9" text-anchor="end" fill="#1e1e1e" stroke="#1e1e1e" stroke-width="0.15" transform="translate(37.3,331.7) scale(0.88,1)">1.5</text>
<path d="M40.2,349.2 H43.4" stroke="#222" stroke-width="1.1"/>
<text x="0" y="0" font-size="9" text-anchor="end" fill="#1e1e1e" stroke="#1e1e1e" stroke-width="0.15" transform="translate(37.3,352.5) scale(0.88,1)">1.0</text>
<path d="M40.2,369.4 H43.4" stroke="#222" stroke-width="1.1"/>
<text x="0" y="0" font-size="9" text-anchor="end" fill="#1e1e1e" stroke="#1e1e1e" stroke-width="0.15" transform="translate(37.3,372.7) scale(0.88,1)">0.5</text>
<path d="M40.2,390.3 H43.4" stroke="#222" stroke-width="1.1"/>
<text x="0" y="0" font-size="9" text-anchor="end" fill="#1e1e1e" stroke="#1e1e1e" stroke-width="0.15" transform="translate(37.3,393.6) scale(0.88,1)">0.0</text>
<text x="0" y="0" font-size="9.6" fill="#1e1e1e" stroke="#1e1e1e" stroke-width="0.18" text-anchor="middle" textLength="54" lengthAdjust="spacingAndGlyphs" transform="translate(22.3,357.4) rotate(-90)">Average (Log_FC)</text>
<text x="0" y="0" font-size="4.4" fill="#333" stroke="#333" stroke-width="0.06" text-anchor="end" transform="translate(50.90,397.8) rotate(-90)">SOX4</text>
<text x="0" y="0" font-size="4.4" fill="#333" stroke="#333" stroke-width="0.06" text-anchor="end" transform="translate(55.16,397.8) rotate(-90)">LMO4</text>
<text x="0" y="0" font-size="4.4" fill="#333" stroke="#333" stroke-width="0.06" text-anchor="end" transform="translate(59.43,397.8) rotate(-90)">ID2</text>
<text x="0" y="0" font-size="4.4" fill="#333" stroke="#333" stroke-width="0.06" text-anchor="end" transform="translate(63.69,397.8) rotate(-90)">MEIS1</text>
<text x="0" y="0" font-size="4.4" fill="#333" stroke="#333" stroke-width="0.06" text-anchor="end" transform="translate(67.95,397.8) rotate(-90)">TSC22D1</text>
<text x="0" y="0" font-size="4.4" fill="#333" stroke="#333" stroke-width="0.06" text-anchor="end" transform="translate(72.21,397.8) rotate(-90)">GATA2</text>
<text x="0" y="0" font-size="4.4" fill="#333" stroke="#333" stroke-width="0.06" text-anchor="end" transform="translate(76.48,397.8) rotate(-90)">JUN</text>
<text x="0" y="0" font-size="4.4" fill="#333" stroke="#333" stroke-width="0.06" text-anchor="end" transform="translate(80.74,397.8) rotate(-90)">CEBPB</text>
<text x="0" y="0" font-size="4.4" fill="#333" stroke="#333" stroke-width="0.06" text-anchor="end" transform="translate(85.00,397.8) rotate(-90)">BHLHE40</text>
<text x="0" y="0" font-size="4.4" fill="#333" stroke="#333" stroke-width="0.06" text-anchor="end" transform="translate(89.27,397.8) rotate(-90)">MEF2C</text>
<text x="0" y="0" font-size="4.4" fill="#333" stroke="#333" stroke-width="0.06" text-anchor="end" transform="translate(93.53,397.8) rotate(-90)">FOS</text>
<text x="0" y="0" font-size="4.4" fill="#333" stroke="#333" stroke-width="0.06" text-anchor="end" transform="translate(97.79,397.8) rotate(-90)">KLF2</text>
<text x="0" y="0" font-size="4.4" fill="#333" stroke="#333" stroke-width="0.06" text-anchor="end" transform="translate(102.06,397.8) rotate(-90)">HOXA9</text>
<text x="0" y="0" font-size="4.4" fill="#333" stroke="#333" stroke-width="0.06" text-anchor="end" transform="translate(106.32,397.8) rotate(-90)">NFE2</text>
<text x="0" y="0" font-size="4.4" fill="#333" stroke="#333" stroke-width="0.06" text-anchor="end" transform="translate(110.58,397.8) rotate(-90)">TFPI</text>
<text x="0" y="0" font-size="4.4" fill="#333" stroke="#333" stroke-width="0.06" text-anchor="end" transform="translate(114.84,397.8) rotate(-90)">BTF3</text>
<text x="0" y="0" font-size="4.4" fill="#333" stroke="#333" stroke-width="0.06" text-anchor="end" transform="translate(119.11,397.8) rotate(-90)">MYB</text>
<text x="0" y="0" font-size="4.4" fill="#333" stroke="#333" stroke-width="0.06" text-anchor="end" transform="translate(123.37,397.8) rotate(-90)">LMO2</text>
<text x="0" y="0" font-size="4.4" fill="#333" stroke="#333" stroke-width="0.06" text-anchor="end" transform="translate(127.63,397.8) rotate(-90)">GATA1</text>
<text x="0" y="0" font-size="4.4" fill="#333" stroke="#333" stroke-width="0.06" text-anchor="end" transform="translate(131.90,397.8) rotate(-90)">ID2</text>
<text x="0" y="0" font-size="4.4" fill="#333" stroke="#333" stroke-width="0.06" text-anchor="end" transform="translate(136.16,397.8) rotate(-90)">MEIS1</text>
<text x="0" y="0" font-size="4.4" fill="#333" stroke="#333" stroke-width="0.06" text-anchor="end" transform="translate(140.42,397.8) rotate(-90)">HLF</text>
<text x="0" y="0" font-size="4.4" fill="#333" stroke="#333" stroke-width="0.06" text-anchor="end" transform="translate(144.69,397.8) rotate(-90)">PBX1</text>
<text x="0" y="0" font-size="4.4" fill="#333" stroke="#333" stroke-width="0.06" text-anchor="end" transform="translate(148.95,397.8) rotate(-90)">HOPX</text>
<text x="0" y="0" font-size="4.4" fill="#333" stroke="#333" stroke-width="0.06" text-anchor="end" transform="translate(153.21,397.8) rotate(-90)">MSI2</text>
<text x="0" y="0" font-size="4.4" fill="#333" stroke="#333" stroke-width="0.06" text-anchor="end" transform="translate(157.47,397.8) rotate(-90)">HOXA5</text>
<text x="0" y="0" font-size="4.4" fill="#333" stroke="#333" stroke-width="0.06" text-anchor="end" transform="translate(161.74,397.8) rotate(-90)">HOXA10</text>
<text x="0" y="0" font-size="4.4" fill="#333" stroke="#333" stroke-width="0.06" text-anchor="end" transform="translate(166.00,397.8) rotate(-90)">ZNF521</text>
<text x="0" y="0" font-size="4.4" fill="#333" stroke="#333" stroke-width="0.06" text-anchor="end" transform="translate(170.26,397.8) rotate(-90)">TCF4</text>
<text x="0" y="0" font-size="4.4" fill="#333" stroke="#333" stroke-width="0.06" text-anchor="end" transform="translate(174.53,397.8) rotate(-90)">ETV6</text>
<text x="0" y="0" font-size="4.4" fill="#333" stroke="#333" stroke-width="0.06" text-anchor="end" transform="translate(178.79,397.8) rotate(-90)">TAL1</text>
<text x="0" y="0" font-size="4.4" fill="#333" stroke="#333" stroke-width="0.06" text-anchor="end" transform="translate(183.05,397.8) rotate(-90)">GATA1</text>
<text x="0" y="0" font-size="4.4" fill="#333" stroke="#333" stroke-width="0.06" text-anchor="end" transform="translate(187.32,397.8) rotate(-90)">KLF1</text>
<text x="0" y="0" font-size="4.4" fill="#333" stroke="#333" stroke-width="0.06" text-anchor="end" transform="translate(191.58,397.8) rotate(-90)">NFE2</text>
<text x="0" y="0" font-size="4.4" fill="#333" stroke="#333" stroke-width="0.06" text-anchor="end" transform="translate(195.84,397.8) rotate(-90)">MYC</text>
<text x="0" y="0" font-size="4.4" fill="#333" stroke="#333" stroke-width="0.06" text-anchor="end" transform="translate(200.10,397.8) rotate(-90)">HMGB1</text>
<text x="0" y="0" font-size="4.4" fill="#333" stroke="#333" stroke-width="0.06" text-anchor="end" transform="translate(204.37,397.8) rotate(-90)">TFDP1</text>
<text x="0" y="0" font-size="4.4" fill="#333" stroke="#333" stroke-width="0.06" text-anchor="end" transform="translate(208.63,397.8) rotate(-90)">PA2G4</text>
<text x="0" y="0" font-size="4.4" fill="#333" stroke="#333" stroke-width="0.06" text-anchor="end" transform="translate(212.89,397.8) rotate(-90)">TEAM</text>
<text x="0" y="0" font-size="4.4" fill="#333" stroke="#333" stroke-width="0.06" text-anchor="end" transform="translate(217.16,397.8) rotate(-90)">TAL1</text>
<text x="0" y="0" font-size="4.4" fill="#333" stroke="#333" stroke-width="0.06" text-anchor="end" transform="translate(221.42,397.8) rotate(-90)">ZFPM1</text>
<text x="0" y="0" font-size="4.4" fill="#333" stroke="#333" stroke-width="0.06" text-anchor="end" transform="translate(225.68,397.8) rotate(-90)">PFTIT1</text>
<text x="0" y="0" font-size="4.4" fill="#333" stroke="#333" stroke-width="0.06" text-anchor="end" transform="translate(229.95,397.8) rotate(-90)">MYC</text>
<text x="0" y="0" font-size="4.4" fill="#333" stroke="#333" stroke-width="0.06" text-anchor="end" transform="translate(234.21,397.8) rotate(-90)">ZNF9</text>
<text x="0" y="0" font-size="4.4" fill="#333" stroke="#333" stroke-width="0.06" text-anchor="end" transform="translate(238.47,397.8) rotate(-90)">ZNF385</text>
<text x="0" y="0" font-size="4.4" fill="#333" stroke="#333" stroke-width="0.06" text-anchor="end" transform="translate(242.73,397.8) rotate(-90)">MEF2C</text>
<text x="0" y="0" font-size="4.4" fill="#333" stroke="#333" stroke-width="0.06" text-anchor="end" transform="translate(247.00,397.8) rotate(-90)">HMGB2</text>
<text x="0" y="0" font-size="4.4" fill="#333" stroke="#333" stroke-width="0.06" text-anchor="end" transform="translate(251.26,397.8) rotate(-90)">TSC22</text>
<text x="0" y="0" font-size="4.4" fill="#333" stroke="#333" stroke-width="0.06" text-anchor="end" transform="translate(255.52,397.8) rotate(-90)">PBX1</text>
<text x="0" y="0" font-size="4.4" fill="#333" stroke="#333" stroke-width="0.06" text-anchor="end" transform="translate(259.79,397.8) rotate(-90)">FLI1</text>
<text x="0" y="0" font-size="4.4" fill="#333" stroke="#333" stroke-width="0.06" text-anchor="end" transform="translate(264.05,397.8) rotate(-90)">ZNF1</text>
<text x="0" y="0" font-size="4.4" fill="#333" stroke="#333" stroke-width="0.06" text-anchor="end" transform="translate(268.31,397.8) rotate(-90)">HMGB1</text>
<text x="0" y="0" font-size="4.4" fill="#333" stroke="#333" stroke-width="0.06" text-anchor="end" transform="translate(272.58,397.8) rotate(-90)">ETV6</text>
<text x="0" y="0" font-size="4.4" fill="#333" stroke="#333" stroke-width="0.06" text-anchor="end" transform="translate(276.84,397.8) rotate(-90)">TAL1</text>
<text x="0" y="0" font-size="4.4" fill="#333" stroke="#333" stroke-width="0.06" text-anchor="end" transform="translate(281.10,397.8) rotate(-90)">GATA2</text>
<text x="0" y="0" font-size="4.4" fill="#333" stroke="#333" stroke-width="0.06" text-anchor="end" transform="translate(285.37,397.8) rotate(-90)">TAL1</text>
<text x="0" y="0" font-size="4.4" fill="#333" stroke="#333" stroke-width="0.06" text-anchor="end" transform="translate(289.63,397.8) rotate(-90)">GATA1</text>
<text x="0" y="0" font-size="4.4" fill="#333" stroke="#333" stroke-width="0.06" text-anchor="end" transform="translate(293.89,397.8) rotate(-90)">HMGB1</text>
<text x="0" y="0" font-size="4.4" fill="#333" stroke="#333" stroke-width="0.06" text-anchor="end" transform="translate(298.15,397.8) rotate(-90)">MEF2C</text>
<text x="0" y="0" font-size="4.4" fill="#333" stroke="#333" stroke-width="0.06" text-anchor="end" transform="translate(302.42,397.8) rotate(-90)">MEF2A</text>
<text x="0" y="0" font-size="4.4" fill="#333" stroke="#333" stroke-width="0.06" text-anchor="end" transform="translate(306.68,397.8) rotate(-90)">NMF</text>
<text x="0" y="0" font-size="4.4" fill="#333" stroke="#333" stroke-width="0.06" text-anchor="end" transform="translate(310.94,397.8) rotate(-90)">FLI1</text>
<text x="0" y="0" font-size="4.4" fill="#333" stroke="#333" stroke-width="0.06" text-anchor="end" transform="translate(315.21,397.8) rotate(-90)">MEIS1</text>
<text x="0" y="0" font-size="4.4" fill="#333" stroke="#333" stroke-width="0.06" text-anchor="end" transform="translate(319.47,397.8) rotate(-90)">ATF3</text>
<text x="0" y="0" font-size="4.4" fill="#333" stroke="#333" stroke-width="0.06" text-anchor="end" transform="translate(323.73,397.8) rotate(-90)">TAL1</text>
<text x="0" y="0" font-size="4.4" fill="#333" stroke="#333" stroke-width="0.06" text-anchor="end" transform="translate(328.00,397.8) rotate(-90)">VEZF1</text>
<text x="0" y="0" font-size="4.4" fill="#333" stroke="#333" stroke-width="0.06" text-anchor="end" transform="translate(332.26,397.8) rotate(-90)">HINFP</text>
<text x="0" y="0" font-size="4.4" fill="#333" stroke="#333" stroke-width="0.06" text-anchor="end" transform="translate(336.52,397.8) rotate(-90)">TFDP1</text>
<text x="0" y="0" font-size="4.4" fill="#333" stroke="#333" stroke-width="0.06" text-anchor="end" transform="translate(340.78,397.8) rotate(-90)">ZNF71</text>
<text x="0" y="0" font-size="4.4" fill="#333" stroke="#333" stroke-width="0.06" text-anchor="end" transform="translate(345.05,397.8) rotate(-90)">MYB</text>
<text x="0" y="0" font-size="4.4" fill="#333" stroke="#333" stroke-width="0.06" text-anchor="end" transform="translate(349.31,397.8) rotate(-90)">SMAD1</text>
<text x="0" y="0" font-size="4.4" fill="#333" stroke="#333" stroke-width="0.06" text-anchor="end" transform="translate(353.57,397.8) rotate(-90)">TSC22D1</text>
<text x="0" y="0" font-size="4.4" fill="#333" stroke="#333" stroke-width="0.06" text-anchor="end" transform="translate(357.84,397.8) rotate(-90)">MAX</text>
<text x="0" y="0" font-size="4.4" fill="#333" stroke="#333" stroke-width="0.06" text-anchor="end" transform="translate(362.10,397.8) rotate(-90)">ZNF331</text>
<text x="0" y="0" font-size="4.4" fill="#333" stroke="#333" stroke-width="0.06" text-anchor="end" transform="translate(366.36,397.8) rotate(-90)">PBX1</text>
<text x="0" y="0" font-size="4.4" fill="#333" stroke="#333" stroke-width="0.06" text-anchor="end" transform="translate(370.62,397.8) rotate(-90)">FOXO3</text>
<text x="0" y="0" font-size="4.4" fill="#333" stroke="#333" stroke-width="0.06" text-anchor="end" transform="translate(374.89,397.8) rotate(-90)">MEIS1</text>
<text x="0" y="0" font-size="4.4" fill="#333" stroke="#333" stroke-width="0.06" text-anchor="end" transform="translate(379.15,397.8) rotate(-90)">FLI1</text>
<text x="0" y="0" font-size="4.4" fill="#333" stroke="#333" stroke-width="0.06" text-anchor="end" transform="translate(383.41,397.8) rotate(-90)">FOS</text>
<text x="0" y="0" font-size="4.4" fill="#333" stroke="#333" stroke-width="0.06" text-anchor="end" transform="translate(387.68,397.8) rotate(-90)">MEF2C</text>
<text x="0" y="0" font-size="4.4" fill="#333" stroke="#333" stroke-width="0.06" text-anchor="end" transform="translate(391.94,397.8) rotate(-90)">ETS1</text>
<text x="0" y="0" font-size="4.4" fill="#333" stroke="#333" stroke-width="0.06" text-anchor="end" transform="translate(396.20,397.8) rotate(-90)">GATA2</text>
<text x="0" y="0" font-size="4.4" fill="#333" stroke="#333" stroke-width="0.06" text-anchor="end" transform="translate(400.47,397.8) rotate(-90)">MXD1</text>
<text x="0" y="0" font-size="4.4" fill="#333" stroke="#333" stroke-width="0.06" text-anchor="end" transform="translate(404.73,397.8) rotate(-90)">MEIS1</text>
<text x="0" y="0" font-size="4.4" fill="#333" stroke="#333" stroke-width="0.06" text-anchor="end" transform="translate(408.99,397.8) rotate(-90)">FOSB</text>
<text x="0" y="0" font-size="4.4" fill="#333" stroke="#333" stroke-width="0.06" text-anchor="end" transform="translate(413.26,397.8) rotate(-90)">CREB1</text>
<text x="0" y="0" font-size="4.4" fill="#333" stroke="#333" stroke-width="0.06" text-anchor="end" transform="translate(417.52,397.8) rotate(-90)">KLF2</text>
<text x="0" y="0" font-size="4.4" fill="#333" stroke="#333" stroke-width="0.06" text-anchor="end" transform="translate(421.78,397.8) rotate(-90)">MYC</text>
<text x="0" y="0" font-size="4.4" fill="#333" stroke="#333" stroke-width="0.06" text-anchor="end" transform="translate(426.04,397.8) rotate(-90)">GATA1</text>
<text x="0" y="0" font-size="4.4" fill="#333" stroke="#333" stroke-width="0.06" text-anchor="end" transform="translate(430.31,397.8) rotate(-90)">CEBPD</text>
<text x="0" y="0" font-size="4.4" fill="#333" stroke="#333" stroke-width="0.06" text-anchor="end" transform="translate(434.57,397.8) rotate(-90)">CEBPB</text>
<text x="0" y="0" font-size="4.4" fill="#333" stroke="#333" stroke-width="0.06" text-anchor="end" transform="translate(438.83,397.8) rotate(-90)">ZNF263</text>
<text x="0" y="0" font-size="4.4" fill="#333" stroke="#333" stroke-width="0.06" text-anchor="end" transform="translate(443.10,397.8) rotate(-90)">CEBPA</text>
<text x="0" y="0" font-size="4.4" fill="#333" stroke="#333" stroke-width="0.06" text-anchor="end" transform="translate(447.36,397.8) rotate(-90)">NFIL3</text>
<text x="0" y="0" font-size="4.4" fill="#333" stroke="#333" stroke-width="0.06" text-anchor="end" transform="translate(451.62,397.8) rotate(-90)">CEBPE</text>
<text x="0" y="0" font-size="4.4" fill="#333" stroke="#333" stroke-width="0.06" text-anchor="end" transform="translate(455.89,397.8) rotate(-90)">SPI1</text>
<text x="0" y="0" font-size="4.4" fill="#333" stroke="#333" stroke-width="0.06" text-anchor="end" transform="translate(460.15,397.8) rotate(-90)">IRF8</text>
<text x="0" y="0" font-size="4.4" fill="#333" stroke="#333" stroke-width="0.06" text-anchor="end" transform="translate(464.41,397.8) rotate(-90)">RUNX3</text>
<rect x="0.5" y="0.5" width="519" height="423" fill="none" stroke="#1a1a1a" stroke-width="1"/>
</svg></body></html>
